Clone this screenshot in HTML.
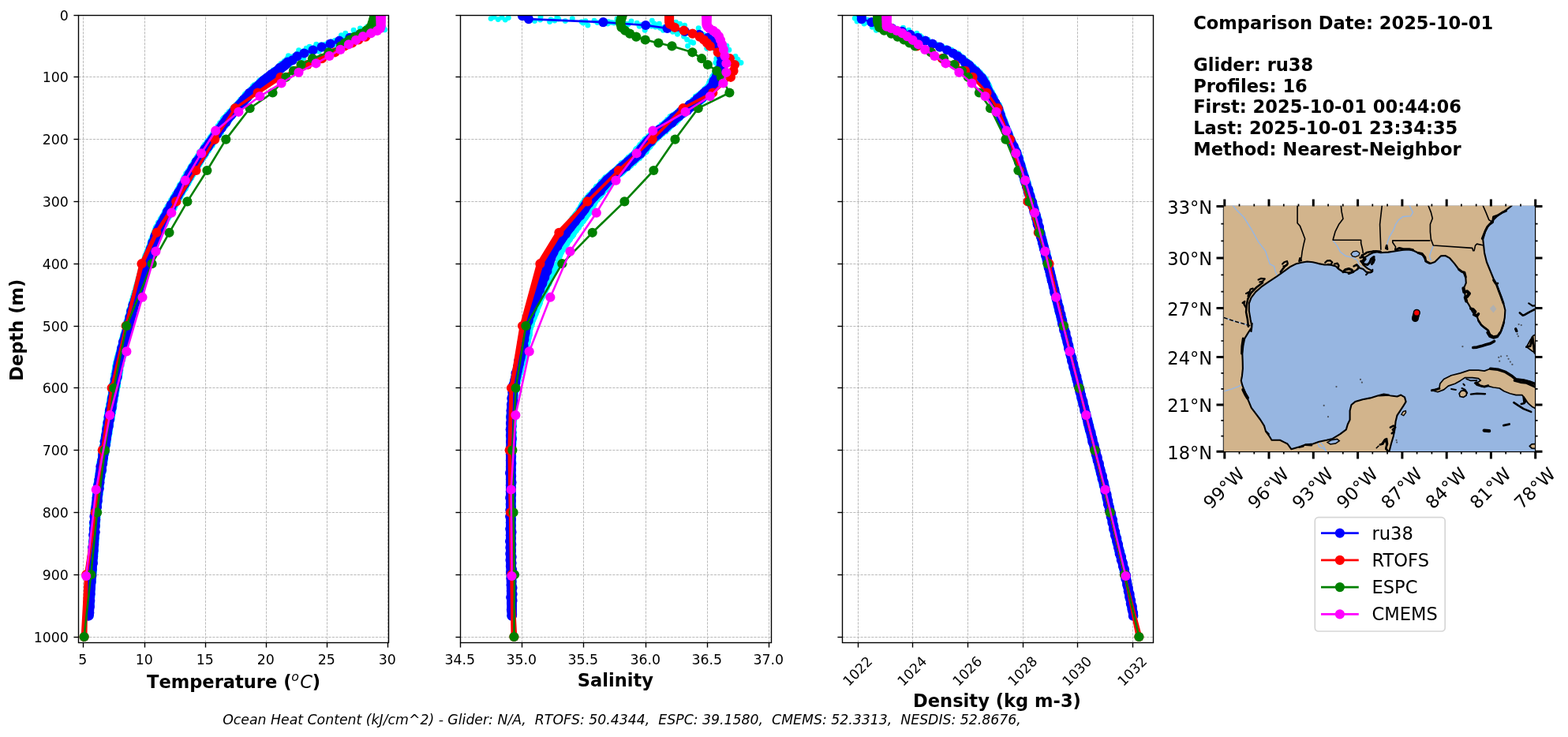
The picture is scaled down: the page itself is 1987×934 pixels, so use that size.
<!DOCTYPE html>
<html lang="en"><head><meta charset="utf-8"><title>Glider vs Model Profile Comparison</title>
<style>
html,body{margin:0;padding:0;background:#fff;}
body{width:1987px;height:934px;overflow:hidden;}
svg{display:block;}
text{font-family:"DejaVu Sans","Liberation Sans",sans-serif;fill:#000;}
.b{font-weight:bold;}
.i{font-style:italic;}
</style></head><body>
<svg width="1987" height="934" viewBox="0 0 1987 934">
<rect width="1987" height="934" fill="#fff"/>
<clipPath id="c0"><rect x="99.50" y="19.50" width="393.00" height="795.00"/></clipPath>
<clipPath id="c1"><rect x="583.50" y="19.50" width="394.00" height="795.00"/></clipPath>
<clipPath id="c2"><rect x="1067.50" y="19.50" width="394.00" height="795.00"/></clipPath>
<g id="ax0">
<path d="M105.50 814.50V19.50" stroke="#b0b0b0" stroke-width="0.87" stroke-dasharray="3.2,1.39" fill="none"/>
<path d="M183.50 814.50V19.50" stroke="#b0b0b0" stroke-width="0.87" stroke-dasharray="3.2,1.39" fill="none"/>
<path d="M260.50 814.50V19.50" stroke="#b0b0b0" stroke-width="0.87" stroke-dasharray="3.2,1.39" fill="none"/>
<path d="M337.50 814.50V19.50" stroke="#b0b0b0" stroke-width="0.87" stroke-dasharray="3.2,1.39" fill="none"/>
<path d="M414.50 814.50V19.50" stroke="#b0b0b0" stroke-width="0.87" stroke-dasharray="3.2,1.39" fill="none"/>
<path d="M491.50 814.50V19.50" stroke="#b0b0b0" stroke-width="0.87" stroke-dasharray="3.2,1.39" fill="none"/>
<path d="M99.50 19.50H492.50" stroke="#b0b0b0" stroke-width="0.87" stroke-dasharray="3.2,1.39" fill="none"/>
<path d="M99.50 97.50H492.50" stroke="#b0b0b0" stroke-width="0.87" stroke-dasharray="3.2,1.39" fill="none"/>
<path d="M99.50 176.50H492.50" stroke="#b0b0b0" stroke-width="0.87" stroke-dasharray="3.2,1.39" fill="none"/>
<path d="M99.50 255.50H492.50" stroke="#b0b0b0" stroke-width="0.87" stroke-dasharray="3.2,1.39" fill="none"/>
<path d="M99.50 334.50H492.50" stroke="#b0b0b0" stroke-width="0.87" stroke-dasharray="3.2,1.39" fill="none"/>
<path d="M99.50 413.50H492.50" stroke="#b0b0b0" stroke-width="0.87" stroke-dasharray="3.2,1.39" fill="none"/>
<path d="M99.50 491.50H492.50" stroke="#b0b0b0" stroke-width="0.87" stroke-dasharray="3.2,1.39" fill="none"/>
<path d="M99.50 570.50H492.50" stroke="#b0b0b0" stroke-width="0.87" stroke-dasharray="3.2,1.39" fill="none"/>
<path d="M99.50 649.50H492.50" stroke="#b0b0b0" stroke-width="0.87" stroke-dasharray="3.2,1.39" fill="none"/>
<path d="M99.50 728.50H492.50" stroke="#b0b0b0" stroke-width="0.87" stroke-dasharray="3.2,1.39" fill="none"/>
<path d="M99.50 807.50H492.50" stroke="#b0b0b0" stroke-width="0.87" stroke-dasharray="3.2,1.39" fill="none"/>
<g clip-path="url(#c0)">
<g fill="#00ffff"><circle cx="484.1" cy="30.2" r="3.45"/><circle cx="477.9" cy="31.7" r="3.45"/><circle cx="484.8" cy="32.1" r="3.45"/><circle cx="474.7" cy="33.8" r="3.45"/><circle cx="484.6" cy="32.8" r="3.45"/><circle cx="471.0" cy="35.5" r="3.45"/><circle cx="484.8" cy="34.4" r="3.45"/><circle cx="468.6" cy="36.7" r="3.45"/><circle cx="481.0" cy="37.0" r="3.45"/><circle cx="464.7" cy="37.9" r="3.45"/><circle cx="477.3" cy="37.9" r="3.45"/><circle cx="460.5" cy="39.5" r="3.45"/><circle cx="473.6" cy="40.3" r="3.45"/><circle cx="455.3" cy="41.5" r="3.45"/><circle cx="468.5" cy="41.1" r="3.45"/><circle cx="450.8" cy="42.7" r="3.45"/><circle cx="464.2" cy="43.4" r="3.45"/><circle cx="446.2" cy="44.7" r="3.45"/><circle cx="458.6" cy="44.2" r="3.45"/><circle cx="440.8" cy="45.4" r="3.45"/><circle cx="454.2" cy="47.0" r="3.45"/><circle cx="436.5" cy="48.1" r="3.45"/><circle cx="448.0" cy="47.8" r="3.45"/><circle cx="430.5" cy="49.4" r="3.45"/><circle cx="443.3" cy="49.8" r="3.45"/><circle cx="424.9" cy="51.3" r="3.45"/><circle cx="436.9" cy="50.6" r="3.45"/><circle cx="420.4" cy="52.8" r="3.45"/><circle cx="432.1" cy="52.9" r="3.45"/><circle cx="415.7" cy="54.3" r="3.45"/><circle cx="428.1" cy="54.2" r="3.45"/><circle cx="411.8" cy="56.5" r="3.45"/><circle cx="423.5" cy="55.9" r="3.45"/><circle cx="407.1" cy="56.8" r="3.45"/><circle cx="418.2" cy="57.0" r="3.45"/><circle cx="402.2" cy="59.0" r="3.45"/><circle cx="414.1" cy="59.4" r="3.45"/><circle cx="398.5" cy="60.3" r="3.45"/><circle cx="409.3" cy="60.7" r="3.45"/><circle cx="393.7" cy="62.4" r="3.45"/><circle cx="405.0" cy="62.0" r="3.45"/><circle cx="389.6" cy="64.2" r="3.45"/><circle cx="400.2" cy="64.4" r="3.45"/><circle cx="384.7" cy="64.7" r="3.45"/><circle cx="395.9" cy="65.9" r="3.45"/><circle cx="379.9" cy="67.7" r="3.45"/><circle cx="390.8" cy="66.8" r="3.45"/><circle cx="376.3" cy="67.9" r="3.45"/><circle cx="387.2" cy="67.9" r="3.45"/><circle cx="372.5" cy="70.9" r="3.45"/><circle cx="383.7" cy="70.5" r="3.45"/><circle cx="369.6" cy="72.1" r="3.45"/><circle cx="379.7" cy="72.4" r="3.45"/><circle cx="366.4" cy="73.2" r="3.45"/><circle cx="377.3" cy="73.6" r="3.45"/><circle cx="363.7" cy="74.5" r="3.45"/><circle cx="373.8" cy="75.2" r="3.45"/><circle cx="362.3" cy="76.6" r="3.45"/><circle cx="372.6" cy="77.3" r="3.45"/><circle cx="360.3" cy="77.5" r="3.45"/><circle cx="369.9" cy="78.1" r="3.45"/><circle cx="358.3" cy="79.6" r="3.45"/><circle cx="368.4" cy="80.2" r="3.45"/><circle cx="356.0" cy="80.6" r="3.45"/><circle cx="366.5" cy="82.2" r="3.45"/><circle cx="353.9" cy="83.2" r="3.45"/><circle cx="363.9" cy="83.1" r="3.45"/><circle cx="352.5" cy="84.7" r="3.45"/><circle cx="362.4" cy="84.4" r="3.45"/><circle cx="350.9" cy="86.5" r="3.45"/><circle cx="360.1" cy="86.1" r="3.45"/><circle cx="348.9" cy="88.4" r="3.45"/><circle cx="357.7" cy="87.9" r="3.45"/><circle cx="346.2" cy="88.9" r="3.45"/><circle cx="356.2" cy="90.0" r="3.45"/><circle cx="343.8" cy="91.7" r="3.45"/><circle cx="353.7" cy="91.6" r="3.45"/><circle cx="342.0" cy="93.0" r="3.45"/><circle cx="351.4" cy="93.1" r="3.45"/><circle cx="339.8" cy="94.6" r="3.45"/><circle cx="349.0" cy="94.0" r="3.45"/><circle cx="337.2" cy="96.1" r="3.45"/><circle cx="346.7" cy="96.3" r="3.45"/><circle cx="335.1" cy="97.9" r="3.45"/><circle cx="344.9" cy="97.5" r="3.45"/><circle cx="332.9" cy="99.4" r="3.45"/><circle cx="342.9" cy="99.3" r="3.45"/><circle cx="331.0" cy="101.3" r="3.45"/><circle cx="340.2" cy="100.4" r="3.45"/><circle cx="329.2" cy="101.7" r="3.45"/><circle cx="338.4" cy="102.9" r="3.45"/><circle cx="327.9" cy="103.5" r="3.45"/><circle cx="336.8" cy="103.8" r="3.45"/><circle cx="325.8" cy="106.2" r="3.45"/><circle cx="335.4" cy="104.9" r="3.45"/><circle cx="324.2" cy="106.7" r="3.45"/><circle cx="333.5" cy="107.3" r="3.45"/><circle cx="322.1" cy="107.8" r="3.45"/><circle cx="331.2" cy="108.3" r="3.45"/><circle cx="320.3" cy="109.5" r="3.45"/><circle cx="329.8" cy="110.1" r="3.45"/><circle cx="318.9" cy="112.6" r="3.45"/><circle cx="327.8" cy="112.1" r="3.45"/><circle cx="317.7" cy="112.9" r="3.45"/><circle cx="326.1" cy="112.6" r="3.45"/><circle cx="315.7" cy="115.7" r="3.45"/><circle cx="324.5" cy="115.3" r="3.45"/><circle cx="314.4" cy="116.8" r="3.45"/><circle cx="323.6" cy="117.3" r="3.45"/><circle cx="312.0" cy="118.1" r="3.45"/><circle cx="321.6" cy="118.2" r="3.45"/><circle cx="310.4" cy="119.4" r="3.45"/><circle cx="319.5" cy="119.6" r="3.45"/><circle cx="309.3" cy="121.4" r="3.45"/><circle cx="318.6" cy="121.1" r="3.45"/><circle cx="308.1" cy="123.6" r="3.45"/><circle cx="317.3" cy="122.6" r="3.45"/><circle cx="306.7" cy="125.3" r="3.45"/><circle cx="315.6" cy="124.7" r="3.45"/><circle cx="304.7" cy="126.1" r="3.45"/><circle cx="314.0" cy="126.6" r="3.45"/><circle cx="303.6" cy="128.1" r="3.45"/><circle cx="313.0" cy="127.4" r="3.45"/><circle cx="302.1" cy="129.7" r="3.45"/><circle cx="311.2" cy="129.8" r="3.45"/><circle cx="300.9" cy="131.3" r="3.45"/><circle cx="309.4" cy="130.7" r="3.45"/><circle cx="299.3" cy="132.6" r="3.45"/><circle cx="308.0" cy="132.9" r="3.45"/><circle cx="297.4" cy="134.6" r="3.45"/><circle cx="306.6" cy="134.2" r="3.45"/><circle cx="295.8" cy="135.6" r="3.45"/><circle cx="305.7" cy="135.2" r="3.45"/><circle cx="294.5" cy="137.4" r="3.45"/><circle cx="303.7" cy="137.6" r="3.45"/><circle cx="293.0" cy="139.7" r="3.45"/><circle cx="302.1" cy="139.6" r="3.45"/><circle cx="291.8" cy="141.2" r="3.45"/><circle cx="301.4" cy="141.1" r="3.45"/><circle cx="290.2" cy="141.8" r="3.45"/><circle cx="300.1" cy="142.7" r="3.45"/><circle cx="289.4" cy="144.3" r="3.45"/><circle cx="298.2" cy="143.2" r="3.45"/><circle cx="287.5" cy="144.9" r="3.45"/><circle cx="296.8" cy="144.8" r="3.45"/><circle cx="286.0" cy="147.4" r="3.45"/><circle cx="295.4" cy="147.3" r="3.45"/><circle cx="284.9" cy="148.4" r="3.45"/><circle cx="294.4" cy="148.2" r="3.45"/><circle cx="283.5" cy="149.4" r="3.45"/><circle cx="292.8" cy="150.1" r="3.45"/><circle cx="282.2" cy="151.0" r="3.45"/><circle cx="291.4" cy="151.7" r="3.45"/><circle cx="281.3" cy="153.6" r="3.45"/><circle cx="290.1" cy="153.8" r="3.45"/><circle cx="280.1" cy="155.4" r="3.45"/><circle cx="289.0" cy="154.7" r="3.45"/><circle cx="278.7" cy="155.8" r="3.45"/><circle cx="287.7" cy="156.0" r="3.45"/><circle cx="278.0" cy="158.3" r="3.45"/><circle cx="286.5" cy="158.0" r="3.45"/><circle cx="276.1" cy="159.7" r="3.45"/><circle cx="286.1" cy="159.7" r="3.45"/><circle cx="275.6" cy="161.6" r="3.45"/><circle cx="284.1" cy="161.8" r="3.45"/><circle cx="274.4" cy="163.4" r="3.45"/><circle cx="283.7" cy="162.3" r="3.45"/><circle cx="272.9" cy="164.0" r="3.45"/><circle cx="282.1" cy="163.8" r="3.45"/><circle cx="271.9" cy="166.7" r="3.45"/><circle cx="280.9" cy="165.4" r="3.45"/><circle cx="270.3" cy="168.5" r="3.45"/><circle cx="280.5" cy="168.2" r="3.45"/><circle cx="270.0" cy="169.0" r="3.45"/><circle cx="278.8" cy="169.5" r="3.45"/><circle cx="268.9" cy="170.6" r="3.45"/><circle cx="277.8" cy="170.6" r="3.45"/><circle cx="267.3" cy="173.0" r="3.45"/><circle cx="276.6" cy="171.8" r="3.45"/><circle cx="266.1" cy="174.4" r="3.45"/><circle cx="275.1" cy="174.4" r="3.45"/><circle cx="265.6" cy="176.1" r="3.45"/><circle cx="274.3" cy="176.0" r="3.45"/><circle cx="264.1" cy="178.1" r="3.45"/><circle cx="273.4" cy="177.3" r="3.45"/><circle cx="262.7" cy="178.7" r="3.45"/><circle cx="272.6" cy="179.6" r="3.45"/><circle cx="262.1" cy="181.0" r="3.45"/><circle cx="271.0" cy="180.3" r="3.45"/><circle cx="260.7" cy="182.4" r="3.45"/><circle cx="269.7" cy="182.1" r="3.45"/><circle cx="259.5" cy="183.3" r="3.45"/><circle cx="269.2" cy="184.4" r="3.45"/><circle cx="258.2" cy="185.5" r="3.45"/><circle cx="267.2" cy="184.9" r="3.45"/><circle cx="257.3" cy="186.8" r="3.45"/><circle cx="266.7" cy="187.0" r="3.45"/><circle cx="256.3" cy="189.3" r="3.45"/><circle cx="265.3" cy="188.3" r="3.45"/><circle cx="255.2" cy="190.4" r="3.45"/><circle cx="264.5" cy="190.8" r="3.45"/><circle cx="253.6" cy="192.5" r="3.45"/><circle cx="263.3" cy="192.0" r="3.45"/><circle cx="252.5" cy="192.7" r="3.45"/><circle cx="262.1" cy="192.8" r="3.45"/><circle cx="252.1" cy="195.3" r="3.45"/><circle cx="261.6" cy="195.1" r="3.45"/><circle cx="250.7" cy="197.1" r="3.45"/><circle cx="260.0" cy="197.1" r="3.45"/><circle cx="249.8" cy="198.9" r="3.45"/><circle cx="259.7" cy="198.3" r="3.45"/><circle cx="248.8" cy="199.9" r="3.45"/><circle cx="258.0" cy="199.1" r="3.45"/><circle cx="248.2" cy="202.1" r="3.45"/><circle cx="256.9" cy="200.6" r="3.45"/><circle cx="246.5" cy="203.5" r="3.45"/><circle cx="256.1" cy="202.8" r="3.45"/><circle cx="246.1" cy="205.1" r="3.45"/><circle cx="255.0" cy="203.8" r="3.45"/><circle cx="244.9" cy="205.7" r="3.45"/><circle cx="254.3" cy="205.9" r="3.45"/><circle cx="243.8" cy="208.1" r="3.45"/><circle cx="253.6" cy="207.2" r="3.45"/><circle cx="242.7" cy="209.8" r="3.45"/><circle cx="252.5" cy="209.0" r="3.45"/><circle cx="241.5" cy="211.2" r="3.45"/><circle cx="251.0" cy="211.0" r="3.45"/><circle cx="240.4" cy="213.1" r="3.45"/><circle cx="249.8" cy="212.9" r="3.45"/><circle cx="240.2" cy="214.1" r="3.45"/><circle cx="249.2" cy="214.3" r="3.45"/><circle cx="239.0" cy="215.9" r="3.45"/><circle cx="247.8" cy="215.3" r="3.45"/><circle cx="237.9" cy="217.4" r="3.45"/><circle cx="247.5" cy="217.4" r="3.45"/><circle cx="237.0" cy="219.1" r="3.45"/><circle cx="246.4" cy="218.6" r="3.45"/><circle cx="235.7" cy="220.0" r="3.45"/><circle cx="244.8" cy="220.9" r="3.45"/><circle cx="235.7" cy="221.8" r="3.45"/><circle cx="244.5" cy="221.9" r="3.45"/><circle cx="233.9" cy="224.0" r="3.45"/><circle cx="242.9" cy="223.7" r="3.45"/><circle cx="233.1" cy="225.2" r="3.45"/><circle cx="242.9" cy="225.2" r="3.45"/><circle cx="232.7" cy="227.3" r="3.45"/><circle cx="242.0" cy="226.3" r="3.45"/><circle cx="231.6" cy="228.1" r="3.45"/><circle cx="240.3" cy="229.4" r="3.45"/><circle cx="230.8" cy="230.5" r="3.45"/><circle cx="239.4" cy="229.9" r="3.45"/><circle cx="230.1" cy="232.5" r="3.45"/><circle cx="238.9" cy="232.5" r="3.45"/><circle cx="228.7" cy="233.4" r="3.45"/><circle cx="237.4" cy="233.6" r="3.45"/><circle cx="227.7" cy="234.5" r="3.45"/><circle cx="236.5" cy="234.7" r="3.45"/><circle cx="226.9" cy="236.4" r="3.45"/><circle cx="236.1" cy="236.4" r="3.45"/><circle cx="226.5" cy="238.5" r="3.45"/><circle cx="235.3" cy="238.9" r="3.45"/><circle cx="225.2" cy="239.7" r="3.45"/><circle cx="234.3" cy="239.8" r="3.45"/><circle cx="224.6" cy="240.9" r="3.45"/><circle cx="233.4" cy="241.3" r="3.45"/><circle cx="223.7" cy="243.5" r="3.45"/><circle cx="232.1" cy="242.4" r="3.45"/><circle cx="222.3" cy="245.3" r="3.45"/><circle cx="231.5" cy="244.8" r="3.45"/><circle cx="221.2" cy="245.9" r="3.45"/><circle cx="230.5" cy="245.9" r="3.45"/><circle cx="220.7" cy="248.0" r="3.45"/><circle cx="229.3" cy="248.2" r="3.45"/><circle cx="219.7" cy="248.9" r="3.45"/><circle cx="228.7" cy="249.8" r="3.45"/><circle cx="218.7" cy="250.5" r="3.45"/><circle cx="227.8" cy="251.0" r="3.45"/><circle cx="218.0" cy="253.2" r="3.45"/><circle cx="227.2" cy="252.3" r="3.45"/><circle cx="216.6" cy="253.6" r="3.45"/><circle cx="225.4" cy="254.3" r="3.45"/><circle cx="215.7" cy="256.6" r="3.45"/><circle cx="224.6" cy="255.6" r="3.45"/><circle cx="214.9" cy="257.5" r="3.45"/><circle cx="224.1" cy="257.4" r="3.45"/><circle cx="214.6" cy="259.1" r="3.45"/><circle cx="222.9" cy="259.7" r="3.45"/><circle cx="212.9" cy="261.4" r="3.45"/><circle cx="221.8" cy="261.2" r="3.45"/><circle cx="212.0" cy="261.6" r="3.45"/><circle cx="221.7" cy="262.2" r="3.45"/><circle cx="211.9" cy="264.4" r="3.45"/><circle cx="221.0" cy="264.2" r="3.45"/><circle cx="210.4" cy="265.1" r="3.45"/><circle cx="219.8" cy="266.1" r="3.45"/><circle cx="209.7" cy="267.8" r="3.45"/><circle cx="218.9" cy="266.8" r="3.45"/><circle cx="208.6" cy="268.3" r="3.45"/><circle cx="218.1" cy="268.3" r="3.45"/><circle cx="208.2" cy="270.2" r="3.45"/><circle cx="216.4" cy="270.2" r="3.45"/><circle cx="207.3" cy="271.4" r="3.45"/><circle cx="215.5" cy="272.1" r="3.45"/><circle cx="205.9" cy="273.6" r="3.45"/><circle cx="215.6" cy="273.1" r="3.45"/><circle cx="205.3" cy="275.2" r="3.45"/><circle cx="214.3" cy="274.4" r="3.45"/><circle cx="204.0" cy="276.9" r="3.45"/><circle cx="213.2" cy="276.6" r="3.45"/><circle cx="203.2" cy="277.9" r="3.45"/><circle cx="212.0" cy="277.8" r="3.45"/><circle cx="203.1" cy="279.6" r="3.45"/><circle cx="211.6" cy="279.0" r="3.45"/><circle cx="201.5" cy="281.6" r="3.45"/><circle cx="210.6" cy="281.9" r="3.45"/><circle cx="200.4" cy="282.3" r="3.45"/><circle cx="209.9" cy="283.3" r="3.45"/><circle cx="200.0" cy="284.8" r="3.45"/><circle cx="209.3" cy="285.1" r="3.45"/><circle cx="199.2" cy="286.5" r="3.45"/><circle cx="207.6" cy="286.7" r="3.45"/><circle cx="197.8" cy="287.4" r="3.45"/><circle cx="207.0" cy="288.5" r="3.45"/><circle cx="197.1" cy="289.1" r="3.45"/><circle cx="205.9" cy="288.7" r="3.45"/><circle cx="196.8" cy="290.7" r="3.45"/><circle cx="205.2" cy="290.7" r="3.45"/><circle cx="195.9" cy="292.8" r="3.45"/><circle cx="205.2" cy="292.5" r="3.45"/><circle cx="195.7" cy="294.6" r="3.45"/><circle cx="204.4" cy="294.6" r="3.45"/><circle cx="195.0" cy="295.0" r="3.45"/><circle cx="203.1" cy="295.8" r="3.45"/><circle cx="194.3" cy="297.3" r="3.45"/><circle cx="203.2" cy="297.8" r="3.45"/><circle cx="194.1" cy="299.1" r="3.45"/><circle cx="202.8" cy="299.2" r="3.45"/><circle cx="192.9" cy="301.3" r="3.45"/><circle cx="201.8" cy="301.4" r="3.45"/><circle cx="192.8" cy="301.5" r="3.45"/><circle cx="201.0" cy="301.8" r="3.45"/><circle cx="191.5" cy="304.0" r="3.45"/><circle cx="200.1" cy="304.3" r="3.45"/><circle cx="190.7" cy="305.6" r="3.45"/><circle cx="199.7" cy="305.1" r="3.45"/><circle cx="191.0" cy="307.8" r="3.45"/><circle cx="199.7" cy="306.4" r="3.45"/><circle cx="190.0" cy="307.9" r="3.45"/><circle cx="198.8" cy="308.4" r="3.45"/><circle cx="189.7" cy="310.6" r="3.45"/><circle cx="197.9" cy="310.5" r="3.45"/><circle cx="189.2" cy="311.5" r="3.45"/><circle cx="197.9" cy="311.7" r="3.45"/><circle cx="188.2" cy="313.7" r="3.45"/><circle cx="196.9" cy="314.2" r="3.45"/><circle cx="187.8" cy="315.0" r="3.45"/><circle cx="196.4" cy="315.0" r="3.45"/><circle cx="187.5" cy="316.7" r="3.45"/><circle cx="195.8" cy="317.3" r="3.45"/><circle cx="186.5" cy="318.2" r="3.45"/><circle cx="194.7" cy="317.8" r="3.45"/><circle cx="185.7" cy="319.7" r="3.45"/><circle cx="194.0" cy="319.2" r="3.45"/><circle cx="185.7" cy="322.0" r="3.45"/><circle cx="194.1" cy="322.0" r="3.45"/><circle cx="185.1" cy="323.6" r="3.45"/><circle cx="193.3" cy="323.1" r="3.45"/><circle cx="183.9" cy="323.9" r="3.45"/><circle cx="192.5" cy="325.1" r="3.45"/><circle cx="183.5" cy="325.9" r="3.45"/><circle cx="192.0" cy="325.6" r="3.45"/><circle cx="183.0" cy="327.4" r="3.45"/><circle cx="191.7" cy="327.2" r="3.45"/><circle cx="182.6" cy="329.8" r="3.45"/><circle cx="190.6" cy="330.0" r="3.45"/><circle cx="182.0" cy="331.3" r="3.45"/><circle cx="190.5" cy="331.5" r="3.45"/><circle cx="181.6" cy="333.2" r="3.45"/><circle cx="189.3" cy="332.8" r="3.45"/><circle cx="180.4" cy="333.8" r="3.45"/><circle cx="188.9" cy="334.4" r="3.45"/><circle cx="179.7" cy="335.7" r="3.45"/><circle cx="189.0" cy="335.0" r="3.45"/><circle cx="179.3" cy="338.0" r="3.45"/><circle cx="188.4" cy="337.4" r="3.45"/><circle cx="179.2" cy="339.2" r="3.45"/><circle cx="187.3" cy="338.5" r="3.45"/><circle cx="178.9" cy="339.9" r="3.45"/><circle cx="186.7" cy="339.9" r="3.45"/><circle cx="178.1" cy="342.1" r="3.45"/><circle cx="186.8" cy="341.6" r="3.45"/><circle cx="178.2" cy="343.6" r="3.45"/><circle cx="185.9" cy="343.5" r="3.45"/><circle cx="177.2" cy="346.1" r="3.45"/><circle cx="186.4" cy="345.4" r="3.45"/><circle cx="177.0" cy="347.6" r="3.45"/><circle cx="185.8" cy="346.6" r="3.45"/><circle cx="177.0" cy="348.6" r="3.45"/><circle cx="185.2" cy="348.2" r="3.45"/><circle cx="176.3" cy="350.2" r="3.45"/><circle cx="184.2" cy="350.0" r="3.45"/><circle cx="175.5" cy="352.5" r="3.45"/><circle cx="183.9" cy="352.1" r="3.45"/><circle cx="175.1" cy="353.5" r="3.45"/><circle cx="183.8" cy="353.0" r="3.45"/><circle cx="175.5" cy="355.4" r="3.45"/><circle cx="183.0" cy="354.5" r="3.45"/><circle cx="174.3" cy="357.3" r="3.45"/><circle cx="182.7" cy="355.8" r="3.45"/><circle cx="174.1" cy="358.2" r="3.45"/><circle cx="182.8" cy="358.3" r="3.45"/><circle cx="173.6" cy="359.5" r="3.45"/><circle cx="182.0" cy="359.4" r="3.45"/><circle cx="173.6" cy="361.5" r="3.45"/><circle cx="181.6" cy="360.8" r="3.45"/><circle cx="172.7" cy="362.4" r="3.45"/><circle cx="180.7" cy="362.7" r="3.45"/><circle cx="172.1" cy="364.1" r="3.45"/><circle cx="180.8" cy="364.4" r="3.45"/><circle cx="172.3" cy="366.4" r="3.45"/><circle cx="180.3" cy="367.0" r="3.45"/><circle cx="171.5" cy="367.1" r="3.45"/><circle cx="179.7" cy="367.6" r="3.45"/><circle cx="170.7" cy="369.9" r="3.45"/><circle cx="179.2" cy="369.0" r="3.45"/><circle cx="170.2" cy="370.4" r="3.45"/><circle cx="178.1" cy="371.6" r="3.45"/><circle cx="170.0" cy="372.5" r="3.45"/><circle cx="178.2" cy="372.4" r="3.45"/><circle cx="169.2" cy="373.9" r="3.45"/><circle cx="177.5" cy="373.5" r="3.45"/><circle cx="168.7" cy="376.1" r="3.45"/><circle cx="177.5" cy="376.1" r="3.45"/><circle cx="168.4" cy="376.9" r="3.45"/><circle cx="176.4" cy="376.7" r="3.45"/><circle cx="168.4" cy="379.4" r="3.45"/><circle cx="176.0" cy="378.8" r="3.45"/><circle cx="167.3" cy="380.5" r="3.45"/><circle cx="176.0" cy="381.0" r="3.45"/><circle cx="167.2" cy="382.2" r="3.45"/><circle cx="175.2" cy="382.2" r="3.45"/><circle cx="166.4" cy="383.8" r="3.45"/><circle cx="174.2" cy="384.3" r="3.45"/><circle cx="166.0" cy="386.1" r="3.45"/><circle cx="174.2" cy="385.0" r="3.45"/><circle cx="166.2" cy="386.4" r="3.45"/><circle cx="173.8" cy="386.2" r="3.45"/><circle cx="165.7" cy="387.9" r="3.45"/><circle cx="173.5" cy="389.1" r="3.45"/><circle cx="165.3" cy="390.6" r="3.45"/><circle cx="173.0" cy="390.6" r="3.45"/><circle cx="164.2" cy="391.5" r="3.45"/><circle cx="172.1" cy="391.6" r="3.45"/><circle cx="163.6" cy="393.0" r="3.45"/><circle cx="171.7" cy="394.0" r="3.45"/><circle cx="163.5" cy="394.4" r="3.45"/><circle cx="171.9" cy="395.5" r="3.45"/><circle cx="163.2" cy="395.9" r="3.45"/><circle cx="171.3" cy="396.5" r="3.45"/><circle cx="162.9" cy="398.2" r="3.45"/><circle cx="170.1" cy="398.3" r="3.45"/><circle cx="162.7" cy="400.3" r="3.45"/><circle cx="170.0" cy="399.7" r="3.45"/><circle cx="161.7" cy="401.1" r="3.45"/><circle cx="169.6" cy="401.8" r="3.45"/><circle cx="161.7" cy="402.5" r="3.45"/><circle cx="169.2" cy="402.8" r="3.45"/><circle cx="161.0" cy="405.3" r="3.45"/><circle cx="168.3" cy="404.6" r="3.45"/><circle cx="161.1" cy="406.1" r="3.45"/><circle cx="168.3" cy="406.6" r="3.45"/><circle cx="160.0" cy="407.2" r="3.45"/><circle cx="167.9" cy="407.3" r="3.45"/><circle cx="160.3" cy="409.6" r="3.45"/><circle cx="167.4" cy="409.0" r="3.45"/><circle cx="159.0" cy="411.5" r="3.45"/><circle cx="166.7" cy="410.8" r="3.45"/><circle cx="158.6" cy="413.2" r="3.45"/><circle cx="166.8" cy="412.3" r="3.45"/><circle cx="158.8" cy="414.1" r="3.45"/><circle cx="166.6" cy="413.9" r="3.45"/><circle cx="158.3" cy="416.0" r="3.45"/><circle cx="165.8" cy="416.2" r="3.45"/><circle cx="158.2" cy="418.1" r="3.45"/><circle cx="165.1" cy="416.7" r="3.45"/><circle cx="157.5" cy="419.6" r="3.45"/><circle cx="164.5" cy="418.3" r="3.45"/><circle cx="157.3" cy="421.0" r="3.45"/><circle cx="164.4" cy="421.2" r="3.45"/><circle cx="156.2" cy="422.8" r="3.45"/><circle cx="164.0" cy="422.7" r="3.45"/><circle cx="156.1" cy="424.4" r="3.45"/><circle cx="163.6" cy="423.2" r="3.45"/><circle cx="155.4" cy="425.2" r="3.45"/><circle cx="163.4" cy="424.7" r="3.45"/><circle cx="155.3" cy="427.4" r="3.45"/><circle cx="162.6" cy="426.8" r="3.45"/><circle cx="154.8" cy="429.2" r="3.45"/><circle cx="162.7" cy="428.1" r="3.45"/><circle cx="154.4" cy="429.4" r="3.45"/><circle cx="162.1" cy="430.2" r="3.45"/><circle cx="154.1" cy="431.5" r="3.45"/><circle cx="161.2" cy="432.0" r="3.45"/><circle cx="153.7" cy="433.2" r="3.45"/><circle cx="161.0" cy="432.9" r="3.45"/><circle cx="153.5" cy="435.7" r="3.45"/><circle cx="160.6" cy="434.5" r="3.45"/><circle cx="153.0" cy="437.3" r="3.45"/><circle cx="160.0" cy="437.3" r="3.45"/><circle cx="152.7" cy="437.9" r="3.45"/><circle cx="159.9" cy="438.2" r="3.45"/><circle cx="151.6" cy="440.5" r="3.45"/><circle cx="159.6" cy="440.0" r="3.45"/><circle cx="151.9" cy="441.3" r="3.45"/><circle cx="158.8" cy="440.7" r="3.45"/><circle cx="151.1" cy="443.8" r="3.45"/><circle cx="158.2" cy="443.5" r="3.45"/><circle cx="150.7" cy="444.9" r="3.45"/><circle cx="157.8" cy="444.9" r="3.45"/><circle cx="150.4" cy="445.9" r="3.45"/><circle cx="157.8" cy="445.6" r="3.45"/><circle cx="149.6" cy="448.3" r="3.45"/><circle cx="157.7" cy="448.2" r="3.45"/><circle cx="149.9" cy="449.7" r="3.45"/><circle cx="156.7" cy="449.8" r="3.45"/><circle cx="149.5" cy="450.3" r="3.45"/><circle cx="156.8" cy="451.7" r="3.45"/><circle cx="148.4" cy="452.6" r="3.45"/><circle cx="155.8" cy="452.8" r="3.45"/><circle cx="148.0" cy="453.5" r="3.45"/><circle cx="155.3" cy="454.4" r="3.45"/><circle cx="147.8" cy="456.0" r="3.45"/><circle cx="155.8" cy="456.0" r="3.45"/><circle cx="147.8" cy="457.1" r="3.45"/><circle cx="155.1" cy="457.2" r="3.45"/><circle cx="146.7" cy="459.1" r="3.45"/><circle cx="154.4" cy="459.2" r="3.45"/><circle cx="146.8" cy="460.5" r="3.45"/><circle cx="154.1" cy="459.9" r="3.45"/><circle cx="146.3" cy="462.3" r="3.45"/><circle cx="154.3" cy="462.7" r="3.45"/><circle cx="145.7" cy="463.7" r="3.45"/><circle cx="153.1" cy="463.1" r="3.45"/><circle cx="145.6" cy="465.6" r="3.45"/><circle cx="152.9" cy="466.0" r="3.45"/><circle cx="145.5" cy="466.2" r="3.45"/><circle cx="152.9" cy="467.4" r="3.45"/><circle cx="145.0" cy="469.2" r="3.45"/><circle cx="152.9" cy="469.1" r="3.45"/><circle cx="145.2" cy="469.8" r="3.45"/><circle cx="152.3" cy="470.3" r="3.45"/><circle cx="144.4" cy="472.1" r="3.45"/><circle cx="152.6" cy="472.3" r="3.45"/><circle cx="144.1" cy="473.5" r="3.45"/><circle cx="151.5" cy="472.8" r="3.45"/><circle cx="143.7" cy="474.6" r="3.45"/><circle cx="152.1" cy="474.9" r="3.45"/><circle cx="144.1" cy="476.3" r="3.45"/><circle cx="151.5" cy="477.1" r="3.45"/><circle cx="143.3" cy="478.1" r="3.45"/><circle cx="151.2" cy="478.0" r="3.45"/><circle cx="143.6" cy="480.3" r="3.45"/><circle cx="151.1" cy="479.7" r="3.45"/><circle cx="142.9" cy="480.6" r="3.45"/><circle cx="150.5" cy="481.4" r="3.45"/><circle cx="142.8" cy="483.7" r="3.45"/><circle cx="149.7" cy="483.1" r="3.45"/><circle cx="142.8" cy="484.2" r="3.45"/><circle cx="149.4" cy="484.2" r="3.45"/><circle cx="142.1" cy="486.2" r="3.45"/><circle cx="149.5" cy="486.2" r="3.45"/><circle cx="141.7" cy="487.1" r="3.45"/><circle cx="149.7" cy="488.4" r="3.45"/><circle cx="142.0" cy="488.7" r="3.45"/><circle cx="149.2" cy="489.8" r="3.45"/><circle cx="141.3" cy="491.0" r="3.45"/><circle cx="148.6" cy="490.6" r="3.45"/><circle cx="140.9" cy="493.0" r="3.45"/><circle cx="148.2" cy="492.7" r="3.45"/><circle cx="141.2" cy="494.2" r="3.45"/><circle cx="148.2" cy="494.2" r="3.45"/><circle cx="140.3" cy="496.1" r="3.45"/><circle cx="148.0" cy="496.6" r="3.45"/><circle cx="140.8" cy="496.7" r="3.45"/><circle cx="147.5" cy="496.7" r="3.45"/><circle cx="140.4" cy="499.1" r="3.45"/><circle cx="147.2" cy="498.8" r="3.45"/><circle cx="140.1" cy="501.3" r="3.45"/><circle cx="147.4" cy="500.3" r="3.45"/><circle cx="139.9" cy="501.8" r="3.45"/><circle cx="147.1" cy="501.6" r="3.45"/><circle cx="139.3" cy="503.1" r="3.45"/><circle cx="146.3" cy="503.8" r="3.45"/><circle cx="139.0" cy="505.0" r="3.45"/><circle cx="146.6" cy="505.0" r="3.45"/><circle cx="138.7" cy="507.0" r="3.45"/><circle cx="146.1" cy="507.0" r="3.45"/><circle cx="138.3" cy="508.7" r="3.45"/><circle cx="145.8" cy="507.9" r="3.45"/><circle cx="138.5" cy="510.8" r="3.45"/><circle cx="145.4" cy="509.5" r="3.45"/><circle cx="137.5" cy="512.6" r="3.45"/><circle cx="144.8" cy="512.1" r="3.45"/><circle cx="137.4" cy="513.2" r="3.45"/><circle cx="145.2" cy="513.9" r="3.45"/><circle cx="137.4" cy="515.8" r="3.45"/><circle cx="144.6" cy="514.9" r="3.45"/><circle cx="137.0" cy="517.0" r="3.45"/><circle cx="144.1" cy="517.1" r="3.45"/><circle cx="136.5" cy="517.6" r="3.45"/><circle cx="144.0" cy="518.2" r="3.45"/><circle cx="136.5" cy="519.5" r="3.45"/><circle cx="144.0" cy="519.1" r="3.45"/><circle cx="136.7" cy="521.6" r="3.45"/><circle cx="143.8" cy="522.0" r="3.45"/><circle cx="136.0" cy="522.9" r="3.45"/><circle cx="143.4" cy="523.1" r="3.45"/><circle cx="135.5" cy="524.3" r="3.45"/><circle cx="142.5" cy="524.6" r="3.45"/><circle cx="136.0" cy="526.6" r="3.45"/><circle cx="142.5" cy="525.6" r="3.45"/><circle cx="135.4" cy="527.7" r="3.45"/><circle cx="142.5" cy="527.5" r="3.45"/><circle cx="135.4" cy="529.9" r="3.45"/><circle cx="142.3" cy="529.8" r="3.45"/><circle cx="134.5" cy="530.5" r="3.45"/><circle cx="142.2" cy="531.2" r="3.45"/><circle cx="134.9" cy="531.9" r="3.45"/><circle cx="141.1" cy="532.4" r="3.45"/><circle cx="134.0" cy="534.0" r="3.45"/><circle cx="140.9" cy="533.6" r="3.45"/><circle cx="134.4" cy="535.9" r="3.45"/><circle cx="140.5" cy="536.2" r="3.45"/><circle cx="134.2" cy="537.3" r="3.45"/><circle cx="140.9" cy="537.5" r="3.45"/><circle cx="133.7" cy="539.1" r="3.45"/><circle cx="140.7" cy="539.2" r="3.45"/><circle cx="132.9" cy="540.0" r="3.45"/><circle cx="140.2" cy="540.5" r="3.45"/><circle cx="132.6" cy="542.3" r="3.45"/><circle cx="139.5" cy="541.7" r="3.45"/><circle cx="133.0" cy="543.5" r="3.45"/><circle cx="139.5" cy="544.4" r="3.45"/><circle cx="133.0" cy="545.6" r="3.45"/><circle cx="139.5" cy="545.3" r="3.45"/><circle cx="132.6" cy="546.3" r="3.45"/><circle cx="139.0" cy="547.2" r="3.45"/><circle cx="131.7" cy="548.9" r="3.45"/><circle cx="139.1" cy="549.2" r="3.45"/><circle cx="132.2" cy="550.1" r="3.45"/><circle cx="138.4" cy="550.3" r="3.45"/><circle cx="131.7" cy="552.0" r="3.45"/><circle cx="138.1" cy="552.4" r="3.45"/><circle cx="131.8" cy="554.2" r="3.45"/><circle cx="138.1" cy="552.6" r="3.45"/><circle cx="131.0" cy="554.3" r="3.45"/><circle cx="137.8" cy="555.0" r="3.45"/><circle cx="130.4" cy="555.9" r="3.45"/><circle cx="137.3" cy="556.4" r="3.45"/><circle cx="130.3" cy="558.9" r="3.45"/><circle cx="137.5" cy="557.6" r="3.45"/><circle cx="129.9" cy="559.2" r="3.45"/><circle cx="137.3" cy="559.4" r="3.45"/><circle cx="130.6" cy="560.9" r="3.45"/><circle cx="137.0" cy="560.6" r="3.45"/><circle cx="130.2" cy="563.5" r="3.45"/><circle cx="136.8" cy="563.3" r="3.45"/><circle cx="129.6" cy="565.2" r="3.45"/><circle cx="135.9" cy="565.3" r="3.45"/><circle cx="129.3" cy="565.9" r="3.45"/><circle cx="135.9" cy="566.4" r="3.45"/><circle cx="128.8" cy="567.5" r="3.45"/><circle cx="135.5" cy="567.2" r="3.45"/><circle cx="129.1" cy="569.4" r="3.45"/><circle cx="135.4" cy="569.1" r="3.45"/><circle cx="128.5" cy="570.4" r="3.45"/><circle cx="135.1" cy="571.7" r="3.45"/><circle cx="128.1" cy="572.7" r="3.45"/><circle cx="135.0" cy="572.9" r="3.45"/><circle cx="128.3" cy="574.1" r="3.45"/><circle cx="134.5" cy="573.8" r="3.45"/><circle cx="127.7" cy="576.1" r="3.45"/><circle cx="134.6" cy="575.5" r="3.45"/><circle cx="127.3" cy="576.9" r="3.45"/><circle cx="134.0" cy="576.7" r="3.45"/><circle cx="127.8" cy="579.6" r="3.45"/><circle cx="133.4" cy="579.1" r="3.45"/><circle cx="127.4" cy="579.9" r="3.45"/><circle cx="133.1" cy="580.2" r="3.45"/><circle cx="126.4" cy="582.9" r="3.45"/><circle cx="133.5" cy="582.9" r="3.45"/><circle cx="127.0" cy="584.4" r="3.45"/><circle cx="132.7" cy="583.9" r="3.45"/><circle cx="125.9" cy="585.7" r="3.45"/><circle cx="133.0" cy="586.1" r="3.45"/><circle cx="126.0" cy="586.4" r="3.45"/><circle cx="132.2" cy="586.7" r="3.45"/><circle cx="125.5" cy="588.9" r="3.45"/><circle cx="132.3" cy="588.3" r="3.45"/><circle cx="125.5" cy="590.0" r="3.45"/><circle cx="131.5" cy="589.5" r="3.45"/><circle cx="125.7" cy="592.5" r="3.45"/><circle cx="131.7" cy="592.6" r="3.45"/><circle cx="125.5" cy="592.8" r="3.45"/><circle cx="131.2" cy="592.8" r="3.45"/><circle cx="124.9" cy="595.0" r="3.45"/><circle cx="131.5" cy="594.9" r="3.45"/><circle cx="124.6" cy="596.3" r="3.45"/><circle cx="131.4" cy="597.4" r="3.45"/><circle cx="124.2" cy="599.0" r="3.45"/><circle cx="131.0" cy="598.3" r="3.45"/><circle cx="124.6" cy="599.9" r="3.45"/><circle cx="130.5" cy="599.1" r="3.45"/><circle cx="123.8" cy="600.6" r="3.45"/><circle cx="129.6" cy="600.9" r="3.45"/><circle cx="123.5" cy="602.9" r="3.45"/><circle cx="130.2" cy="603.7" r="3.45"/><circle cx="123.6" cy="605.1" r="3.45"/><circle cx="129.2" cy="604.3" r="3.45"/><circle cx="123.1" cy="607.0" r="3.45"/><circle cx="129.3" cy="606.3" r="3.45"/><circle cx="122.8" cy="608.2" r="3.45"/><circle cx="129.4" cy="607.6" r="3.45"/><circle cx="122.5" cy="608.8" r="3.45"/><circle cx="128.8" cy="608.8" r="3.45"/><circle cx="122.7" cy="611.6" r="3.45"/><circle cx="128.6" cy="611.8" r="3.45"/><circle cx="121.9" cy="612.8" r="3.45"/><circle cx="128.5" cy="613.0" r="3.45"/><circle cx="122.2" cy="614.1" r="3.45"/><circle cx="128.5" cy="614.6" r="3.45"/><circle cx="122.2" cy="615.9" r="3.45"/><circle cx="127.7" cy="616.3" r="3.45"/><circle cx="121.6" cy="617.8" r="3.45"/><circle cx="128.3" cy="617.6" r="3.45"/><circle cx="121.9" cy="618.9" r="3.45"/><circle cx="127.9" cy="619.2" r="3.45"/><circle cx="121.1" cy="621.2" r="3.45"/><circle cx="127.2" cy="621.0" r="3.45"/><circle cx="121.5" cy="622.1" r="3.45"/><circle cx="127.3" cy="622.9" r="3.45"/><circle cx="121.3" cy="623.5" r="3.45"/><circle cx="127.4" cy="624.4" r="3.45"/><circle cx="120.5" cy="625.8" r="3.45"/><circle cx="127.3" cy="625.7" r="3.45"/><circle cx="120.2" cy="627.4" r="3.45"/><circle cx="126.9" cy="627.7" r="3.45"/><circle cx="120.6" cy="629.4" r="3.45"/><circle cx="126.5" cy="628.9" r="3.45"/><circle cx="120.6" cy="629.9" r="3.45"/><circle cx="126.4" cy="629.8" r="3.45"/><circle cx="120.1" cy="631.0" r="3.45"/><circle cx="126.4" cy="632.5" r="3.45"/><circle cx="120.1" cy="634.1" r="3.45"/><circle cx="125.7" cy="634.1" r="3.45"/><circle cx="119.8" cy="634.8" r="3.45"/><circle cx="126.2" cy="634.5" r="3.45"/><circle cx="119.7" cy="637.1" r="3.45"/><circle cx="125.3" cy="637.3" r="3.45"/><circle cx="119.5" cy="638.5" r="3.45"/><circle cx="125.9" cy="638.1" r="3.45"/><circle cx="119.4" cy="639.8" r="3.45"/><circle cx="125.5" cy="639.1" r="3.45"/><circle cx="118.7" cy="641.9" r="3.45"/><circle cx="125.2" cy="641.8" r="3.45"/><circle cx="118.9" cy="643.4" r="3.45"/><circle cx="124.4" cy="642.8" r="3.45"/><circle cx="119.1" cy="644.0" r="3.45"/><circle cx="124.5" cy="644.9" r="3.45"/><circle cx="118.3" cy="646.4" r="3.45"/><circle cx="124.4" cy="646.3" r="3.45"/><circle cx="118.7" cy="648.0" r="3.45"/><circle cx="124.8" cy="647.2" r="3.45"/><circle cx="117.8" cy="649.0" r="3.45"/><circle cx="124.2" cy="649.5" r="3.45"/><circle cx="118.2" cy="650.3" r="3.45"/><circle cx="123.9" cy="651.7" r="3.45"/><circle cx="117.9" cy="652.9" r="3.45"/><circle cx="123.5" cy="651.9" r="3.45"/><circle cx="117.8" cy="654.8" r="3.45"/><circle cx="123.7" cy="654.0" r="3.45"/><circle cx="117.9" cy="656.3" r="3.45"/><circle cx="124.1" cy="655.4" r="3.45"/><circle cx="117.9" cy="656.7" r="3.45"/><circle cx="123.5" cy="658.0" r="3.45"/><circle cx="117.8" cy="659.1" r="3.45"/><circle cx="123.4" cy="659.0" r="3.45"/><circle cx="116.9" cy="660.7" r="3.45"/><circle cx="123.8" cy="661.0" r="3.45"/><circle cx="117.7" cy="662.8" r="3.45"/><circle cx="122.9" cy="661.8" r="3.45"/><circle cx="117.4" cy="664.0" r="3.45"/><circle cx="123.0" cy="663.0" r="3.45"/><circle cx="116.7" cy="664.9" r="3.45"/><circle cx="123.3" cy="665.4" r="3.45"/><circle cx="117.0" cy="666.4" r="3.45"/><circle cx="122.5" cy="666.4" r="3.45"/><circle cx="116.8" cy="668.5" r="3.45"/><circle cx="123.1" cy="668.5" r="3.45"/><circle cx="116.9" cy="670.6" r="3.45"/><circle cx="122.4" cy="669.6" r="3.45"/><circle cx="116.5" cy="671.4" r="3.45"/><circle cx="122.5" cy="672.2" r="3.45"/><circle cx="116.9" cy="672.7" r="3.45"/><circle cx="122.5" cy="673.9" r="3.45"/><circle cx="116.5" cy="674.6" r="3.45"/><circle cx="122.0" cy="674.6" r="3.45"/><circle cx="116.3" cy="676.2" r="3.45"/><circle cx="122.3" cy="675.8" r="3.45"/><circle cx="116.4" cy="678.7" r="3.45"/><circle cx="122.7" cy="678.5" r="3.45"/><circle cx="116.3" cy="680.5" r="3.45"/><circle cx="121.9" cy="680.4" r="3.45"/><circle cx="116.7" cy="681.6" r="3.45"/><circle cx="122.4" cy="681.1" r="3.45"/><circle cx="116.0" cy="683.2" r="3.45"/><circle cx="122.3" cy="683.7" r="3.45"/><circle cx="116.4" cy="685.2" r="3.45"/><circle cx="121.8" cy="685.2" r="3.45"/><circle cx="116.1" cy="686.1" r="3.45"/><circle cx="122.1" cy="686.8" r="3.45"/><circle cx="115.4" cy="688.5" r="3.45"/><circle cx="121.4" cy="687.9" r="3.45"/><circle cx="115.8" cy="689.7" r="3.45"/><circle cx="121.7" cy="689.0" r="3.45"/><circle cx="115.6" cy="690.6" r="3.45"/><circle cx="121.6" cy="691.3" r="3.45"/><circle cx="115.2" cy="692.5" r="3.45"/><circle cx="121.5" cy="692.3" r="3.45"/><circle cx="115.5" cy="694.2" r="3.45"/><circle cx="121.0" cy="694.9" r="3.45"/><circle cx="115.8" cy="695.7" r="3.45"/><circle cx="121.3" cy="695.8" r="3.45"/><circle cx="115.1" cy="697.2" r="3.45"/><circle cx="121.2" cy="697.6" r="3.45"/><circle cx="114.8" cy="699.1" r="3.45"/><circle cx="120.6" cy="698.6" r="3.45"/><circle cx="114.7" cy="699.9" r="3.45"/><circle cx="121.2" cy="701.2" r="3.45"/><circle cx="115.1" cy="701.5" r="3.45"/><circle cx="120.2" cy="702.1" r="3.45"/><circle cx="114.3" cy="704.3" r="3.45"/><circle cx="121.0" cy="704.4" r="3.45"/><circle cx="114.6" cy="706.1" r="3.45"/><circle cx="120.1" cy="705.5" r="3.45"/><circle cx="115.0" cy="707.6" r="3.45"/><circle cx="120.2" cy="706.3" r="3.45"/><circle cx="114.6" cy="708.0" r="3.45"/><circle cx="120.5" cy="708.3" r="3.45"/><circle cx="114.6" cy="710.7" r="3.45"/><circle cx="120.1" cy="710.6" r="3.45"/><circle cx="114.6" cy="712.1" r="3.45"/><circle cx="119.4" cy="711.4" r="3.45"/><circle cx="114.3" cy="713.3" r="3.45"/><circle cx="119.9" cy="713.3" r="3.45"/><circle cx="113.9" cy="714.2" r="3.45"/><circle cx="119.3" cy="714.9" r="3.45"/><circle cx="113.4" cy="716.0" r="3.45"/><circle cx="119.2" cy="716.1" r="3.45"/><circle cx="114.0" cy="718.8" r="3.45"/><circle cx="119.6" cy="717.6" r="3.45"/><circle cx="113.6" cy="720.3" r="3.45"/><circle cx="119.2" cy="720.4" r="3.45"/><circle cx="113.7" cy="721.3" r="3.45"/><circle cx="119.6" cy="721.2" r="3.45"/><circle cx="113.3" cy="722.3" r="3.45"/><circle cx="119.4" cy="723.6" r="3.45"/><circle cx="112.9" cy="725.0" r="3.45"/><circle cx="118.6" cy="725.3" r="3.45"/><circle cx="113.5" cy="725.7" r="3.45"/><circle cx="119.2" cy="726.0" r="3.45"/><circle cx="113.4" cy="727.7" r="3.45"/><circle cx="118.7" cy="727.9" r="3.45"/><circle cx="112.8" cy="729.6" r="3.45"/><circle cx="118.1" cy="728.8" r="3.45"/><circle cx="113.0" cy="731.6" r="3.45"/><circle cx="118.2" cy="731.7" r="3.45"/><circle cx="112.5" cy="733.3" r="3.45"/><circle cx="118.1" cy="733.2" r="3.45"/><circle cx="112.2" cy="733.6" r="3.45"/><circle cx="118.6" cy="734.2" r="3.45"/><circle cx="112.4" cy="735.2" r="3.45"/><circle cx="117.6" cy="735.9" r="3.45"/><circle cx="112.0" cy="736.9" r="3.45"/><circle cx="118.1" cy="736.9" r="3.45"/><circle cx="112.0" cy="739.3" r="3.45"/><circle cx="118.2" cy="738.6" r="3.45"/><circle cx="111.8" cy="741.3" r="3.45"/><circle cx="117.4" cy="741.4" r="3.45"/><circle cx="112.0" cy="742.0" r="3.45"/><circle cx="117.3" cy="742.4" r="3.45"/><circle cx="111.9" cy="744.3" r="3.45"/><circle cx="117.7" cy="743.9" r="3.45"/><circle cx="112.1" cy="745.3" r="3.45"/><circle cx="117.2" cy="744.6" r="3.45"/><circle cx="111.9" cy="747.1" r="3.45"/><circle cx="117.3" cy="747.8" r="3.45"/><circle cx="111.6" cy="748.9" r="3.45"/><circle cx="117.0" cy="748.8" r="3.45"/><circle cx="111.6" cy="750.6" r="3.45"/><circle cx="116.8" cy="750.3" r="3.45"/><circle cx="111.2" cy="752.4" r="3.45"/><circle cx="116.3" cy="752.3" r="3.45"/><circle cx="111.1" cy="754.2" r="3.45"/><circle cx="117.0" cy="752.8" r="3.45"/><circle cx="110.9" cy="754.8" r="3.45"/><circle cx="116.3" cy="754.9" r="3.45"/><circle cx="111.5" cy="757.1" r="3.45"/><circle cx="117.0" cy="756.3" r="3.45"/><circle cx="111.0" cy="758.1" r="3.45"/><circle cx="116.3" cy="758.4" r="3.45"/><circle cx="111.1" cy="759.3" r="3.45"/><circle cx="115.9" cy="759.1" r="3.45"/><circle cx="111.0" cy="761.5" r="3.45"/><circle cx="116.1" cy="762.1" r="3.45"/><circle cx="110.4" cy="763.6" r="3.45"/><circle cx="116.7" cy="763.5" r="3.45"/><circle cx="110.6" cy="764.6" r="3.45"/><circle cx="116.5" cy="764.7" r="3.45"/><circle cx="110.6" cy="766.5" r="3.45"/><circle cx="115.8" cy="766.1" r="3.45"/><circle cx="110.3" cy="767.8" r="3.45"/><circle cx="115.9" cy="767.1" r="3.45"/><circle cx="110.6" cy="769.2" r="3.45"/><circle cx="115.5" cy="770.1" r="3.45"/><circle cx="109.9" cy="770.8" r="3.45"/><circle cx="115.5" cy="771.1" r="3.45"/><circle cx="110.7" cy="773.3" r="3.45"/><circle cx="115.6" cy="772.3" r="3.45"/><circle cx="110.0" cy="774.2" r="3.45"/><circle cx="115.5" cy="774.7" r="3.45"/><circle cx="110.1" cy="775.9" r="3.45"/><circle cx="115.5" cy="775.6" r="3.45"/><circle cx="110.0" cy="778.1" r="3.45"/><circle cx="115.2" cy="776.8" r="3.45"/><circle cx="109.5" cy="779.7" r="3.45"/><circle cx="115.3" cy="779.1" r="3.45"/><circle cx="109.7" cy="780.1" r="3.45"/><circle cx="115.2" cy="780.7" r="3.45"/><circle cx="456.4" cy="36.0" r="3.45"/><circle cx="448.1" cy="38.3" r="3.45"/><circle cx="437.8" cy="42.1" r="3.45"/><circle cx="432.5" cy="44.6" r="3.45"/><circle cx="400.8" cy="56.2" r="3.45"/><circle cx="392.2" cy="59.2" r="3.45"/><circle cx="388.2" cy="61.2" r="3.45"/><circle cx="378.6" cy="63.7" r="3.45"/><circle cx="365.5" cy="70.8" r="3.45"/><circle cx="487.6" cy="37.7" r="3.45"/><circle cx="486.0" cy="35.0" r="3.45"/><circle cx="424.9" cy="57.2" r="3.45"/><circle cx="384.7" cy="74.3" r="3.45"/><circle cx="404.3" cy="65.2" r="3.45"/><circle cx="472.0" cy="33.5" r="3.45"/><circle cx="465.0" cy="34.2" r="3.45"/></g>
<path d="M482.0 20.2L482.0 24.1L482.0 28.1L481.0 32.0L476.1 35.9L466.9 39.9L455.7 43.8L443.3 47.8L430.0 51.7L418.7 55.6L407.7 59.6L396.6 63.5L385.4 67.5L376.5 71.4L370.5 76.4L364.4 78.7L360.0 83.4L354.2 86.2L350.2 92.1L343.5 94.4L339.1 99.7L333.3 102.7L330.1 107.6L324.9 110.5L321.2 114.9L316.1 117.9L313.6 123.0L308.9 126.0L306.7 131.1L302.2 134.2L299.3 138.7L295.2 142.1L292.2 146.4L288.0 149.7L286.5 154.9L282.4 157.9L280.5 162.5L276.5 165.5L274.9 170.4L271.2 173.7L269.3 178.3L265.4 181.4L263.6 186.1L259.4 189.1L258.2 193.9L254.6 197.2L253.0 201.7L249.0 204.7L248.1 209.7L244.3 212.8L242.8 217.3L239.7 220.7L238.2 225.2L235.5 228.8L234.1 233.3L230.7 236.6L229.2 241.0L226.0 244.3L224.7 248.9L221.4 252.2L220.2 256.8L216.6 259.9L216.4 265.0L212.2 267.8L211.4 272.5L208.4 276.0L206.9 280.3L204.0 283.9L203.2 288.6L200.0 291.9L199.2 296.1L196.2 299.5L196.2 304.0L193.4 307.4L193.2 311.8L190.9 315.5L190.5 319.8L188.0 323.4L188.0 327.9L184.9 331.2L185.2 335.7L182.4 339.1L183.1 343.5L179.9 346.9L180.6 351.3L177.9 354.8L178.9 359.3L176.2 362.8L175.9 367.0L174.0 370.7L173.8 375.0L171.7 378.6L171.5 382.9L168.5 386.3L169.1 390.7L166.3 394.2L167.2 398.7L164.4 402.1L164.8 406.4L162.3 410.0L163.3 414.5L160.8 418.0L161.3 422.4L158.7 425.9L158.5 430.0L156.0 433.6L157.1 438.1L154.1 441.5L154.8 445.9L152.8 449.6L152.7 453.7L150.8 457.5L150.6 461.6L149.2 465.4L149.5 469.5L147.8 473.2L148.7 477.4L145.8 481.0L146.6 485.2L144.2 488.8L145.0 493.0L143.6 496.8L143.7 500.9L142.1 504.7L142.5 508.8L140.8 512.6L141.7 516.8L138.9 520.4L140.1 524.6L137.6 528.3L138.7 532.5L136.3 536.1L137.6 540.4L135.2 544.0L135.9 548.2L134.1 551.9L134.8 556.1L132.6 559.8L133.8 564.0L131.6 567.7L132.8 571.9L130.3 575.6L131.0 579.8L129.5 583.5L130.1 587.7L127.4 591.3L129.0 595.6L127.0 599.3L127.2 603.4L125.8 607.2L126.5 611.3L124.2 615.0L125.7 619.2L123.8 623.0L124.2 627.0L122.6 630.8L123.8 634.9L121.9 638.7L123.0 642.8L120.8 646.6L122.1 650.7L119.5 654.4L121.3 658.5L119.1 662.3L120.7 666.4L118.9 670.2L120.7 674.3L118.2 678.1L119.4 682.1L118.4 686.0L119.3 690.0L117.2 693.8L118.6 697.9L117.5 701.8L118.1 705.8L116.8 709.6L117.9 713.7L115.8 717.5L116.6 721.5L114.8 725.4L116.4 729.4L114.4 733.2L115.5 737.3L114.3 741.2L114.8 745.2L113.6 749.0L114.6 753.1L112.8 756.9L114.3 760.9L112.7 764.8L113.9 768.8L112.4 772.7L113.3 776.7L111.7 780.6" fill="none" stroke="#0000ff" stroke-width="2.6" stroke-linejoin="round"/>
<path d="M363.9 80.0L361.4 82.0L358.9 84.0L356.4 86.0L353.8 88.0L351.0 90.0L348.2 92.0L345.4 94.0L342.7 96.0L339.9 98.0L337.1 100.0L334.5 102.0L332.4 104.0L330.3 106.0L328.1 108.0L326.0 110.0L323.9 112.0L321.8 114.0L319.7 116.0L317.6 118.0L315.5 120.0L313.7 122.0L311.9 124.0L310.1 126.0L308.3 128.0L306.5 130.0L304.7 132.0L302.9 134.0L301.1 136.0L299.3 138.0L297.5 140.0L295.8 142.0L294.0 144.0L292.2 146.0L290.5 148.0L288.8 150.0L287.0 152.0L285.6 154.0L284.1 156.0L282.7 158.0L281.3 160.0L279.9 162.0L278.4 164.0L277.0 166.0L275.6 168.0L274.2 170.0L272.7 172.0L271.3 174.0L269.9 176.0L268.4 178.0L267.0 180.0L265.6 182.0L264.2 184.0L262.7 186.0L261.3 188.0L259.9 190.0L258.6 192.0L257.3 194.0L256.0 196.0L254.7 198.0L253.5 200.0L252.2 202.0L250.9 204.0L249.6 206.0L248.4 208.0L247.1 210.0L245.8 212.0L244.5 214.0L243.3 216.0L242.1 218.0L241.0 220.0L239.8 222.0L238.7 224.0L237.5 226.0L236.4 228.0L235.2 230.0L234.0 232.0L232.9 234.0L231.7 236.0L230.6 238.0L229.4 240.0L228.3 242.0L227.1 244.0L226.0 246.0L224.8 248.0L223.7 250.0L222.5 252.0L221.4 254.0L220.2 256.0L219.1 258.0L218.0 260.0L216.9 262.0L215.7 264.0L214.6 266.0L213.5 268.0L212.4 270.0L211.3 272.0L210.1 274.0L209.0 276.0L207.9 278.0L206.8 280.0L205.7 282.0L204.5 284.0L203.4 286.0L202.3 288.0L201.2 290.0L200.3 292.0L199.6 294.0L198.8 296.0L198.1 298.0L197.3 300.0L196.6 302.0L195.8 304.0L195.1 306.0L194.3 308.0L193.6 310.0L192.8 312.0L192.1 314.0L191.3 316.0L190.6 318.0L189.8 320.0L189.1 322.0L188.3 324.0L187.6 326.0L186.8 328.0L186.1 330.0L185.3 332.0L184.6 334.0L184.0 336.0L183.5 338.0L183.0 340.0L182.4 342.0L181.9 344.0L181.3 346.0L180.8 348.0L180.3 350.0L179.7 352.0L179.2 354.0L178.7 356.0L178.1 358.0L177.6 360.0L177.0 362.0L176.4 364.0L175.8 366.0L175.2 368.0L174.6 370.0L174.0 372.0L173.4 374.0L172.8 376.0L172.2 378.0L171.6 380.0L171.0 382.0L170.4 384.0L169.8 386.0L169.2 388.0L168.6 390.0L168.0 392.0L167.5 394.0L167.0 396.0L166.5 398.0L165.9 400.0L165.4 402.0L164.9 404.0L164.3 406.0L163.8 408.0L163.3 410.0L162.8 412.0L162.2 414.0L161.7 416.0L161.2 418.0L160.7 420.0L160.2 422.0L159.7 424.0L159.2 426.0L158.6 428.0L158.1 430.0L157.6 432.0L157.1 434.0L156.6 436.0L156.1 438.0L155.6 440.0L155.1 442.0L154.5 444.0L154.0 446.0L153.5 448.0L153.0 450.0L152.5 452.0L152.0 454.0L151.5 456.0L150.9 458.0L150.4 460.0L150.0 462.0L149.7 464.0L149.4 466.0L149.0 468.0L148.7 470.0L148.3 472.0L148.0 474.0L147.7 476.0L147.3 478.0L147.0 480.0L146.6 482.0L146.3 484.0L145.9 486.0L145.6 488.0L145.3 490.0L144.9 492.0L144.6 494.0L144.2 496.0L143.9 498.0L143.6 500.0L143.2 502.0L142.9 504.0L142.5 506.0L142.2 508.0L141.8 510.0L141.5 512.0L141.2 514.0L140.8 516.0L140.5 518.0L140.1 520.0L139.8 522.0L139.5 524.0L139.1 526.0L138.8 528.0L138.5 530.0L138.2 532.0L137.8 534.0L137.5 536.0L137.2 538.0L136.9 540.0L136.5 542.0L136.2 544.0L135.9 546.0L135.6 548.0L135.3 550.0L134.9 552.0L134.6 554.0L134.3 556.0L134.0 558.0L133.6 560.0L133.3 562.0L133.0 564.0L132.7 566.0L132.4 568.0L132.0 570.0L131.7 572.0L131.4 574.0L131.1 576.0L130.7 578.0L130.4 580.0L130.1 582.0L129.8 584.0L129.4 586.0L129.1 588.0L128.8 590.0L128.5 592.0L128.2 594.0L127.8 596.0L127.5 598.0L127.2 600.0L126.9 602.0L126.5 604.0L126.2 606.0L125.9 608.0L125.7 610.0L125.5 612.0L125.2 614.0L125.0 616.0L124.8 618.0L124.5 620.0L124.3 622.0L124.1 624.0L123.8 626.0L123.6 628.0L123.4 630.0L123.1 632.0L122.9 634.0L122.7 636.0L122.4 638.0L122.2 640.0L122.0 642.0L121.7 644.0L121.5 646.0L121.3 648.0L121.0 650.0L120.9 652.0L120.8 654.0L120.7 656.0L120.5 658.0L120.4 660.0L120.3 662.0L120.2 664.0L120.1 666.0L120.0 668.0L119.8 670.0L119.7 672.0L119.6 674.0L119.5 676.0L119.4 678.0L119.2 680.0L119.1 682.0L119.0 684.0L118.9 686.0L118.8 688.0L118.7 690.0L118.5 692.0L118.4 694.0L118.2 696.0L118.1 698.0L117.9 700.0L117.8 702.0L117.6 704.0L117.5 706.0L117.3 708.0L117.2 710.0L117.0 712.0L116.9 714.0L116.7 716.0L116.6 718.0L116.4 720.0L116.3 722.0L116.1 724.0L116.0 726.0L115.8 728.0L115.7 730.0L115.5 732.0L115.4 734.0L115.2 736.0L115.1 738.0L114.9 740.0L114.8 742.0L114.6 744.0L114.5 746.0L114.3 748.0L114.2 750.0L114.0 752.0L113.9 754.0L113.8 756.0L113.7 758.0L113.6 760.0L113.5 762.0L113.4 764.0L113.3 766.0L113.2 768.0L113.1 770.0L113.0 772.0L112.9 774.0L112.8 776.0L112.7 778.0L112.6 780.0" fill="none" stroke="#0000ff" stroke-width="12.6" stroke-linejoin="round" stroke-linecap="round"/>
<g fill="#0000ff"><circle cx="482.0" cy="20.2" r="6.08"/><circle cx="482.0" cy="24.1" r="6.08"/><circle cx="482.0" cy="28.1" r="6.08"/><circle cx="481.0" cy="32.0" r="6.08"/><circle cx="476.1" cy="35.9" r="6.08"/><circle cx="466.9" cy="39.9" r="6.08"/><circle cx="455.7" cy="43.8" r="6.08"/><circle cx="443.3" cy="47.8" r="6.08"/><circle cx="430.0" cy="51.7" r="6.08"/><circle cx="418.7" cy="55.6" r="6.08"/><circle cx="407.7" cy="59.6" r="6.08"/><circle cx="396.6" cy="63.5" r="6.08"/><circle cx="385.4" cy="67.5" r="6.08"/><circle cx="376.5" cy="71.4" r="6.08"/><circle cx="370.5" cy="76.4" r="6.08"/><circle cx="364.4" cy="78.7" r="6.08"/><circle cx="360.0" cy="83.4" r="6.08"/><circle cx="354.2" cy="86.2" r="6.08"/><circle cx="350.2" cy="92.1" r="6.08"/><circle cx="343.5" cy="94.4" r="6.08"/><circle cx="339.1" cy="99.7" r="6.08"/><circle cx="333.3" cy="102.7" r="6.08"/><circle cx="330.1" cy="107.6" r="6.08"/><circle cx="324.9" cy="110.5" r="6.08"/><circle cx="321.2" cy="114.9" r="6.08"/><circle cx="316.1" cy="117.9" r="6.08"/><circle cx="313.6" cy="123.0" r="6.08"/><circle cx="308.9" cy="126.0" r="6.08"/><circle cx="306.7" cy="131.1" r="6.08"/><circle cx="302.2" cy="134.2" r="6.08"/><circle cx="299.3" cy="138.7" r="6.08"/><circle cx="295.2" cy="142.1" r="6.08"/><circle cx="292.2" cy="146.4" r="6.08"/><circle cx="288.0" cy="149.7" r="6.08"/><circle cx="286.5" cy="154.9" r="6.08"/><circle cx="282.4" cy="157.9" r="6.08"/><circle cx="280.5" cy="162.5" r="6.08"/><circle cx="276.5" cy="165.5" r="6.08"/><circle cx="274.9" cy="170.4" r="6.08"/><circle cx="271.2" cy="173.7" r="6.08"/><circle cx="269.3" cy="178.3" r="6.08"/><circle cx="265.4" cy="181.4" r="6.08"/><circle cx="263.6" cy="186.1" r="6.08"/><circle cx="259.4" cy="189.1" r="6.08"/><circle cx="258.2" cy="193.9" r="6.08"/><circle cx="254.6" cy="197.2" r="6.08"/><circle cx="253.0" cy="201.7" r="6.08"/><circle cx="249.0" cy="204.7" r="6.08"/><circle cx="248.1" cy="209.7" r="6.08"/><circle cx="244.3" cy="212.8" r="6.08"/><circle cx="242.8" cy="217.3" r="6.08"/><circle cx="239.7" cy="220.7" r="6.08"/><circle cx="238.2" cy="225.2" r="6.08"/><circle cx="235.5" cy="228.8" r="6.08"/><circle cx="234.1" cy="233.3" r="6.08"/><circle cx="230.7" cy="236.6" r="6.08"/><circle cx="229.2" cy="241.0" r="6.08"/><circle cx="226.0" cy="244.3" r="6.08"/><circle cx="224.7" cy="248.9" r="6.08"/><circle cx="221.4" cy="252.2" r="6.08"/><circle cx="220.2" cy="256.8" r="6.08"/><circle cx="216.6" cy="259.9" r="6.08"/><circle cx="216.4" cy="265.0" r="6.08"/><circle cx="212.2" cy="267.8" r="6.08"/><circle cx="211.4" cy="272.5" r="6.08"/><circle cx="208.4" cy="276.0" r="6.08"/><circle cx="206.9" cy="280.3" r="6.08"/><circle cx="204.0" cy="283.9" r="6.08"/><circle cx="203.2" cy="288.6" r="6.08"/><circle cx="200.0" cy="291.9" r="6.08"/><circle cx="199.2" cy="296.1" r="6.08"/><circle cx="196.2" cy="299.5" r="6.08"/><circle cx="196.2" cy="304.0" r="6.08"/><circle cx="193.4" cy="307.4" r="6.08"/><circle cx="193.2" cy="311.8" r="6.08"/><circle cx="190.9" cy="315.5" r="6.08"/><circle cx="190.5" cy="319.8" r="6.08"/><circle cx="188.0" cy="323.4" r="6.08"/><circle cx="188.0" cy="327.9" r="6.08"/><circle cx="184.9" cy="331.2" r="6.08"/><circle cx="185.2" cy="335.7" r="6.08"/><circle cx="182.4" cy="339.1" r="6.08"/><circle cx="183.1" cy="343.5" r="6.08"/><circle cx="179.9" cy="346.9" r="6.08"/><circle cx="180.6" cy="351.3" r="6.08"/><circle cx="177.9" cy="354.8" r="6.08"/><circle cx="178.9" cy="359.3" r="6.08"/><circle cx="176.2" cy="362.8" r="6.08"/><circle cx="175.9" cy="367.0" r="6.08"/><circle cx="174.0" cy="370.7" r="6.08"/><circle cx="173.8" cy="375.0" r="6.08"/><circle cx="171.7" cy="378.6" r="6.08"/><circle cx="171.5" cy="382.9" r="6.08"/><circle cx="168.5" cy="386.3" r="6.08"/><circle cx="169.1" cy="390.7" r="6.08"/><circle cx="166.3" cy="394.2" r="6.08"/><circle cx="167.2" cy="398.7" r="6.08"/><circle cx="164.4" cy="402.1" r="6.08"/><circle cx="164.8" cy="406.4" r="6.08"/><circle cx="162.3" cy="410.0" r="6.08"/><circle cx="163.3" cy="414.5" r="6.08"/><circle cx="160.8" cy="418.0" r="6.08"/><circle cx="161.3" cy="422.4" r="6.08"/><circle cx="158.7" cy="425.9" r="6.08"/><circle cx="158.5" cy="430.0" r="6.08"/><circle cx="156.0" cy="433.6" r="6.08"/><circle cx="157.1" cy="438.1" r="6.08"/><circle cx="154.1" cy="441.5" r="6.08"/><circle cx="154.8" cy="445.9" r="6.08"/><circle cx="152.8" cy="449.6" r="6.08"/><circle cx="152.7" cy="453.7" r="6.08"/><circle cx="150.8" cy="457.5" r="6.08"/><circle cx="150.6" cy="461.6" r="6.08"/><circle cx="149.2" cy="465.4" r="6.08"/><circle cx="149.5" cy="469.5" r="6.08"/><circle cx="147.8" cy="473.2" r="6.08"/><circle cx="148.7" cy="477.4" r="6.08"/><circle cx="145.8" cy="481.0" r="6.08"/><circle cx="146.6" cy="485.2" r="6.08"/><circle cx="144.2" cy="488.8" r="6.08"/><circle cx="145.0" cy="493.0" r="6.08"/><circle cx="143.6" cy="496.8" r="6.08"/><circle cx="143.7" cy="500.9" r="6.08"/><circle cx="142.1" cy="504.7" r="6.08"/><circle cx="142.5" cy="508.8" r="6.08"/><circle cx="140.8" cy="512.6" r="6.08"/><circle cx="141.7" cy="516.8" r="6.08"/><circle cx="138.9" cy="520.4" r="6.08"/><circle cx="140.1" cy="524.6" r="6.08"/><circle cx="137.6" cy="528.3" r="6.08"/><circle cx="138.7" cy="532.5" r="6.08"/><circle cx="136.3" cy="536.1" r="6.08"/><circle cx="137.6" cy="540.4" r="6.08"/><circle cx="135.2" cy="544.0" r="6.08"/><circle cx="135.9" cy="548.2" r="6.08"/><circle cx="134.1" cy="551.9" r="6.08"/><circle cx="134.8" cy="556.1" r="6.08"/><circle cx="132.6" cy="559.8" r="6.08"/><circle cx="133.8" cy="564.0" r="6.08"/><circle cx="131.6" cy="567.7" r="6.08"/><circle cx="132.8" cy="571.9" r="6.08"/><circle cx="130.3" cy="575.6" r="6.08"/><circle cx="131.0" cy="579.8" r="6.08"/><circle cx="129.5" cy="583.5" r="6.08"/><circle cx="130.1" cy="587.7" r="6.08"/><circle cx="127.4" cy="591.3" r="6.08"/><circle cx="129.0" cy="595.6" r="6.08"/><circle cx="127.0" cy="599.3" r="6.08"/><circle cx="127.2" cy="603.4" r="6.08"/><circle cx="125.8" cy="607.2" r="6.08"/><circle cx="126.5" cy="611.3" r="6.08"/><circle cx="124.2" cy="615.0" r="6.08"/><circle cx="125.7" cy="619.2" r="6.08"/><circle cx="123.8" cy="623.0" r="6.08"/><circle cx="124.2" cy="627.0" r="6.08"/><circle cx="122.6" cy="630.8" r="6.08"/><circle cx="123.8" cy="634.9" r="6.08"/><circle cx="121.9" cy="638.7" r="6.08"/><circle cx="123.0" cy="642.8" r="6.08"/><circle cx="120.8" cy="646.6" r="6.08"/><circle cx="122.1" cy="650.7" r="6.08"/><circle cx="119.5" cy="654.4" r="6.08"/><circle cx="121.3" cy="658.5" r="6.08"/><circle cx="119.1" cy="662.3" r="6.08"/><circle cx="120.7" cy="666.4" r="6.08"/><circle cx="118.9" cy="670.2" r="6.08"/><circle cx="120.7" cy="674.3" r="6.08"/><circle cx="118.2" cy="678.1" r="6.08"/><circle cx="119.4" cy="682.1" r="6.08"/><circle cx="118.4" cy="686.0" r="6.08"/><circle cx="119.3" cy="690.0" r="6.08"/><circle cx="117.2" cy="693.8" r="6.08"/><circle cx="118.6" cy="697.9" r="6.08"/><circle cx="117.5" cy="701.8" r="6.08"/><circle cx="118.1" cy="705.8" r="6.08"/><circle cx="116.8" cy="709.6" r="6.08"/><circle cx="117.9" cy="713.7" r="6.08"/><circle cx="115.8" cy="717.5" r="6.08"/><circle cx="116.6" cy="721.5" r="6.08"/><circle cx="114.8" cy="725.4" r="6.08"/><circle cx="116.4" cy="729.4" r="6.08"/><circle cx="114.4" cy="733.2" r="6.08"/><circle cx="115.5" cy="737.3" r="6.08"/><circle cx="114.3" cy="741.2" r="6.08"/><circle cx="114.8" cy="745.2" r="6.08"/><circle cx="113.6" cy="749.0" r="6.08"/><circle cx="114.6" cy="753.1" r="6.08"/><circle cx="112.8" cy="756.9" r="6.08"/><circle cx="114.3" cy="760.9" r="6.08"/><circle cx="112.7" cy="764.8" r="6.08"/><circle cx="113.9" cy="768.8" r="6.08"/><circle cx="112.4" cy="772.7" r="6.08"/><circle cx="113.3" cy="776.7" r="6.08"/><circle cx="111.7" cy="780.6" r="6.08"/></g>
<path d="M481.0 19.0L481.0 20.6L481.0 22.2L481.0 23.7L481.0 25.3L481.0 26.9L480.5 28.5L479.0 30.8L474.5 34.8L469.0 38.7L466.0 42.6L462.2 46.6L453.3 50.5L445.3 54.5L435.6 58.4L423.5 66.3L407.0 74.2L388.2 82.0L372.8 89.9L352.5 97.8L324.6 117.5L297.5 137.2L272.0 176.6L248.0 216.0L222.5 255.4L196.9 294.8L177.7 334.2L159.2 413.0L141.1 491.8L129.1 570.6L119.8 649.4L108.3 728.2L104.0 807.0" fill="none" stroke="#ff0000" stroke-width="2.6" stroke-linejoin="round" stroke-linecap="square"/>
<path d="M481.0 19.0L481.0 20.6L481.0 22.2L481.0 23.7L481.0 25.3L481.0 26.9L480.5 28.5L479.0 30.8L475.5 34.8L471.0 38.7L468.0 42.6L464.2 46.6L455.3 50.5L447.3 54.5L437.6 58.4L425.5 66.3L409.0 74.2L391.2 82.0L377.2 89.9L358.5 97.8L328.6 117.5L298.3 137.2L272.4 176.6L249.0 216.0L224.1 255.4L199.9 294.8L181.3 334.2L160.0 413.0L142.1 491.8L130.5 570.6L121.8 649.4L110.3 728.2L109.2 807.0" fill="none" stroke="#ff0000" stroke-width="2.6" stroke-linejoin="round" stroke-linecap="square"/>
<path d="M481.0 19.0L481.0 20.6L481.0 22.2L481.0 23.7L481.0 25.3L481.0 26.9L480.5 28.5L479.0 30.8L474.8 34.8L469.5 38.7L466.5 42.6L462.7 46.6L453.8 50.5L445.8 54.5L436.1 58.4L424.0 66.3L407.5 74.2L388.9 82.0L373.9 89.9L354.0 97.8L325.6 117.5L297.7 137.2L272.1 176.6L248.2 216.0L222.9 255.4L197.7 294.8L178.6 334.2L159.4 413.0L141.3 491.8L129.5 570.6L120.3 649.4L108.8 728.2L105.3 807.0" fill="none" stroke="#ff0000" stroke-width="2.6" stroke-linejoin="round" stroke-linecap="square"/>
<path d="M481.0 19.0L481.0 20.6L481.0 22.2L481.0 23.7L481.0 25.3L481.0 26.9L480.5 28.5L479.0 30.8L475.2 34.8L470.5 38.7L467.5 42.6L463.7 46.6L454.8 50.5L446.8 54.5L437.1 58.4L425.0 66.3L408.5 74.2L390.4 82.0L376.1 89.9L357.0 97.8L327.6 117.5L298.1 137.2L272.3 176.6L248.8 216.0L223.7 255.4L199.2 294.8L180.4 334.2L159.8 413.0L141.8 491.8L130.2 570.6L121.3 649.4L109.8 728.2L107.9 807.0" fill="none" stroke="#ff0000" stroke-width="2.6" stroke-linejoin="round" stroke-linecap="square"/>
<path d="M481.0 19.0L481.0 20.6L481.0 22.2L481.0 23.7L481.0 25.3L481.0 26.9L480.5 28.5L479.0 30.8L475.0 34.8L470.0 38.7L467.0 42.6L463.2 46.6L454.3 50.5L446.3 54.5L436.6 58.4L424.5 66.3L408.0 74.2L389.7 82.0L375.0 89.9L355.5 97.8L326.6 117.5L297.9 137.2L272.2 176.6L248.5 216.0L223.3 255.4L198.4 294.8L179.5 334.2L159.6 413.0L141.6 491.8L129.8 570.6L120.8 649.4L109.3 728.2L106.6 807.0" fill="none" stroke="#ff0000" stroke-width="2.6" stroke-linejoin="round" stroke-linecap="square"/><g fill="#ff0000"><circle cx="481.0" cy="19.0" r="6.08"/><circle cx="481.0" cy="20.6" r="6.08"/><circle cx="481.0" cy="22.2" r="6.08"/><circle cx="481.0" cy="23.7" r="6.08"/><circle cx="481.0" cy="25.3" r="6.08"/><circle cx="481.0" cy="26.9" r="6.08"/><circle cx="480.5" cy="28.5" r="6.08"/><circle cx="479.0" cy="30.8" r="6.08"/><circle cx="475.0" cy="34.8" r="6.08"/><circle cx="470.0" cy="38.7" r="6.08"/><circle cx="467.0" cy="42.6" r="6.08"/><circle cx="463.2" cy="46.6" r="6.08"/><circle cx="454.3" cy="50.5" r="6.08"/><circle cx="446.3" cy="54.5" r="6.08"/><circle cx="436.6" cy="58.4" r="6.08"/><circle cx="424.5" cy="66.3" r="6.08"/><circle cx="408.0" cy="74.2" r="6.08"/><circle cx="389.7" cy="82.0" r="6.08"/><circle cx="375.0" cy="89.9" r="6.08"/><circle cx="355.5" cy="97.8" r="6.08"/><circle cx="326.6" cy="117.5" r="6.08"/><circle cx="297.9" cy="137.2" r="6.08"/><circle cx="272.2" cy="176.6" r="6.08"/><circle cx="248.5" cy="216.0" r="6.08"/><circle cx="223.3" cy="255.4" r="6.08"/><circle cx="198.4" cy="294.8" r="6.08"/><circle cx="179.5" cy="334.2" r="6.08"/><circle cx="159.6" cy="413.0" r="6.08"/><circle cx="141.6" cy="491.8" r="6.08"/><circle cx="129.8" cy="570.6" r="6.08"/><circle cx="120.8" cy="649.4" r="6.08"/><circle cx="109.3" cy="728.2" r="6.08"/><circle cx="106.6" cy="807.0" r="6.08"/></g>
<path d="M474.5 19.0L474.3 20.6L474.0 22.2L473.6 23.7L473.2 25.3L472.7 26.9L472.2 28.5L471.3 30.8L469.0 34.8L464.0 38.7L457.0 42.6L449.5 46.6L443.0 50.5L437.0 54.5L432.0 58.4L416.5 66.3L396.0 74.2L381.5 82.0L371.9 89.9L362.4 97.8L345.5 117.5L316.6 137.2L286.3 176.6L262.4 216.0L237.4 255.4L214.5 294.8L192.6 334.2L160.4 413.0L144.2 491.8L132.9 570.6L123.1 649.4L115.3 728.2L106.6 807.0" fill="none" stroke="#008000" stroke-width="2.6" stroke-linejoin="round" stroke-linecap="square"/><g fill="#008000"><circle cx="474.5" cy="19.0" r="6.08"/><circle cx="474.3" cy="20.6" r="6.08"/><circle cx="474.0" cy="22.2" r="6.08"/><circle cx="473.6" cy="23.7" r="6.08"/><circle cx="473.2" cy="25.3" r="6.08"/><circle cx="472.7" cy="26.9" r="6.08"/><circle cx="472.2" cy="28.5" r="6.08"/><circle cx="471.3" cy="30.8" r="6.08"/><circle cx="469.0" cy="34.8" r="6.08"/><circle cx="464.0" cy="38.7" r="6.08"/><circle cx="457.0" cy="42.6" r="6.08"/><circle cx="449.5" cy="46.6" r="6.08"/><circle cx="443.0" cy="50.5" r="6.08"/><circle cx="437.0" cy="54.5" r="6.08"/><circle cx="432.0" cy="58.4" r="6.08"/><circle cx="416.5" cy="66.3" r="6.08"/><circle cx="396.0" cy="74.2" r="6.08"/><circle cx="381.5" cy="82.0" r="6.08"/><circle cx="371.9" cy="89.9" r="6.08"/><circle cx="362.4" cy="97.8" r="6.08"/><circle cx="345.5" cy="117.5" r="6.08"/><circle cx="316.6" cy="137.2" r="6.08"/><circle cx="286.3" cy="176.6" r="6.08"/><circle cx="262.4" cy="216.0" r="6.08"/><circle cx="237.4" cy="255.4" r="6.08"/><circle cx="214.5" cy="294.8" r="6.08"/><circle cx="192.6" cy="334.2" r="6.08"/><circle cx="160.4" cy="413.0" r="6.08"/><circle cx="144.2" cy="491.8" r="6.08"/><circle cx="132.9" cy="570.6" r="6.08"/><circle cx="123.1" cy="649.4" r="6.08"/><circle cx="115.3" cy="728.2" r="6.08"/><circle cx="106.6" cy="807.0" r="6.08"/></g>
<path d="M482.6 19.4L482.6 20.2L482.6 21.1L482.6 22.0L482.6 23.0L482.6 24.1L482.6 25.2L482.6 26.5L482.6 28.0L482.6 29.6L482.6 31.5L482.6 33.6L481.8 36.0L478.0 38.9L470.0 42.2L460.0 46.1L451.1 50.8L441.9 56.3L431.4 62.9L417.4 70.9L400.5 80.3L378.5 91.8L356.6 105.5L329.4 122.0L302.4 141.8L273.2 165.7L255.1 194.3L234.7 228.6L217.3 269.7L197.4 318.6L180.5 376.7L160.4 445.4L139.2 526.1L121.8 620.5L109.2 730.0" fill="none" stroke="#ff00ff" stroke-width="2.6" stroke-linejoin="round" stroke-linecap="square"/><g fill="#ff00ff"><circle cx="482.6" cy="19.4" r="6.08"/><circle cx="482.6" cy="20.2" r="6.08"/><circle cx="482.6" cy="21.1" r="6.08"/><circle cx="482.6" cy="22.0" r="6.08"/><circle cx="482.6" cy="23.0" r="6.08"/><circle cx="482.6" cy="24.1" r="6.08"/><circle cx="482.6" cy="25.2" r="6.08"/><circle cx="482.6" cy="26.5" r="6.08"/><circle cx="482.6" cy="28.0" r="6.08"/><circle cx="482.6" cy="29.6" r="6.08"/><circle cx="482.6" cy="31.5" r="6.08"/><circle cx="482.6" cy="33.6" r="6.08"/><circle cx="481.8" cy="36.0" r="6.08"/><circle cx="478.0" cy="38.9" r="6.08"/><circle cx="470.0" cy="42.2" r="6.08"/><circle cx="460.0" cy="46.1" r="6.08"/><circle cx="451.1" cy="50.8" r="6.08"/><circle cx="441.9" cy="56.3" r="6.08"/><circle cx="431.4" cy="62.9" r="6.08"/><circle cx="417.4" cy="70.9" r="6.08"/><circle cx="400.5" cy="80.3" r="6.08"/><circle cx="378.5" cy="91.8" r="6.08"/><circle cx="356.6" cy="105.5" r="6.08"/><circle cx="329.4" cy="122.0" r="6.08"/><circle cx="302.4" cy="141.8" r="6.08"/><circle cx="273.2" cy="165.7" r="6.08"/><circle cx="255.1" cy="194.3" r="6.08"/><circle cx="234.7" cy="228.6" r="6.08"/><circle cx="217.3" cy="269.7" r="6.08"/><circle cx="197.4" cy="318.6" r="6.08"/><circle cx="180.5" cy="376.7" r="6.08"/><circle cx="160.4" cy="445.4" r="6.08"/><circle cx="139.2" cy="526.1" r="6.08"/><circle cx="121.8" cy="620.5" r="6.08"/><circle cx="109.2" cy="730.0" r="6.08"/></g>
</g>
<path d="M105.50 814.50v6.08" stroke="#000" stroke-width="1.39" fill="none"/>
<path d="M183.50 814.50v6.08" stroke="#000" stroke-width="1.39" fill="none"/>
<path d="M260.50 814.50v6.08" stroke="#000" stroke-width="1.39" fill="none"/>
<path d="M337.50 814.50v6.08" stroke="#000" stroke-width="1.39" fill="none"/>
<path d="M414.50 814.50v6.08" stroke="#000" stroke-width="1.39" fill="none"/>
<path d="M491.50 814.50v6.08" stroke="#000" stroke-width="1.39" fill="none"/>
<path d="M99.50 19.50h-6.08" stroke="#000" stroke-width="1.39" fill="none"/>
<path d="M99.50 97.50h-6.08" stroke="#000" stroke-width="1.39" fill="none"/>
<path d="M99.50 176.50h-6.08" stroke="#000" stroke-width="1.39" fill="none"/>
<path d="M99.50 255.50h-6.08" stroke="#000" stroke-width="1.39" fill="none"/>
<path d="M99.50 334.50h-6.08" stroke="#000" stroke-width="1.39" fill="none"/>
<path d="M99.50 413.50h-6.08" stroke="#000" stroke-width="1.39" fill="none"/>
<path d="M99.50 491.50h-6.08" stroke="#000" stroke-width="1.39" fill="none"/>
<path d="M99.50 570.50h-6.08" stroke="#000" stroke-width="1.39" fill="none"/>
<path d="M99.50 649.50h-6.08" stroke="#000" stroke-width="1.39" fill="none"/>
<path d="M99.50 728.50h-6.08" stroke="#000" stroke-width="1.39" fill="none"/>
<path d="M99.50 807.50h-6.08" stroke="#000" stroke-width="1.39" fill="none"/>
<rect x="99.50" y="19.50" width="393.00" height="795.00" fill="none" stroke="#000" stroke-width="1.39"/>
<text x="86.85" y="26.25" text-anchor="end" font-size="17.36">0</text>
<text x="86.85" y="104.25" text-anchor="end" font-size="17.36">100</text>
<text x="86.85" y="183.25" text-anchor="end" font-size="17.36">200</text>
<text x="86.85" y="262.25" text-anchor="end" font-size="17.36">300</text>
<text x="86.85" y="341.25" text-anchor="end" font-size="17.36">400</text>
<text x="86.85" y="420.25" text-anchor="end" font-size="17.36">500</text>
<text x="86.85" y="498.25" text-anchor="end" font-size="17.36">600</text>
<text x="86.85" y="577.25" text-anchor="end" font-size="17.36">700</text>
<text x="86.85" y="656.25" text-anchor="end" font-size="17.36">800</text>
<text x="86.85" y="735.25" text-anchor="end" font-size="17.36">900</text>
<text x="86.85" y="814.25" text-anchor="end" font-size="17.36">1000</text>
<text x="104.80" y="842.00" text-anchor="middle" font-size="17.36">5</text>
<text x="182.80" y="842.00" text-anchor="middle" font-size="17.36">10</text>
<text x="259.80" y="842.00" text-anchor="middle" font-size="17.36">15</text>
<text x="336.80" y="842.00" text-anchor="middle" font-size="17.36">20</text>
<text x="413.80" y="842.00" text-anchor="middle" font-size="17.36">25</text>
<text x="490.80" y="842.00" text-anchor="middle" font-size="17.36">30</text>
</g>
<g id="ax1">
<path d="M583.50 814.50V19.50" stroke="#b0b0b0" stroke-width="0.87" stroke-dasharray="3.2,1.39" fill="none"/>
<path d="M661.50 814.50V19.50" stroke="#b0b0b0" stroke-width="0.87" stroke-dasharray="3.2,1.39" fill="none"/>
<path d="M739.50 814.50V19.50" stroke="#b0b0b0" stroke-width="0.87" stroke-dasharray="3.2,1.39" fill="none"/>
<path d="M818.50 814.50V19.50" stroke="#b0b0b0" stroke-width="0.87" stroke-dasharray="3.2,1.39" fill="none"/>
<path d="M896.50 814.50V19.50" stroke="#b0b0b0" stroke-width="0.87" stroke-dasharray="3.2,1.39" fill="none"/>
<path d="M974.50 814.50V19.50" stroke="#b0b0b0" stroke-width="0.87" stroke-dasharray="3.2,1.39" fill="none"/>
<path d="M583.50 19.50H977.50" stroke="#b0b0b0" stroke-width="0.87" stroke-dasharray="3.2,1.39" fill="none"/>
<path d="M583.50 97.50H977.50" stroke="#b0b0b0" stroke-width="0.87" stroke-dasharray="3.2,1.39" fill="none"/>
<path d="M583.50 176.50H977.50" stroke="#b0b0b0" stroke-width="0.87" stroke-dasharray="3.2,1.39" fill="none"/>
<path d="M583.50 255.50H977.50" stroke="#b0b0b0" stroke-width="0.87" stroke-dasharray="3.2,1.39" fill="none"/>
<path d="M583.50 334.50H977.50" stroke="#b0b0b0" stroke-width="0.87" stroke-dasharray="3.2,1.39" fill="none"/>
<path d="M583.50 413.50H977.50" stroke="#b0b0b0" stroke-width="0.87" stroke-dasharray="3.2,1.39" fill="none"/>
<path d="M583.50 491.50H977.50" stroke="#b0b0b0" stroke-width="0.87" stroke-dasharray="3.2,1.39" fill="none"/>
<path d="M583.50 570.50H977.50" stroke="#b0b0b0" stroke-width="0.87" stroke-dasharray="3.2,1.39" fill="none"/>
<path d="M583.50 649.50H977.50" stroke="#b0b0b0" stroke-width="0.87" stroke-dasharray="3.2,1.39" fill="none"/>
<path d="M583.50 728.50H977.50" stroke="#b0b0b0" stroke-width="0.87" stroke-dasharray="3.2,1.39" fill="none"/>
<path d="M583.50 807.50H977.50" stroke="#b0b0b0" stroke-width="0.87" stroke-dasharray="3.2,1.39" fill="none"/>
<g clip-path="url(#c1)">
<g fill="#00ffff"><circle cx="698.0" cy="25.0" r="3.45"/><circle cx="702.9" cy="26.1" r="3.45"/><circle cx="737.1" cy="27.6" r="3.45"/><circle cx="742.0" cy="26.7" r="3.45"/><circle cx="769.6" cy="29.1" r="3.45"/><circle cx="774.6" cy="28.4" r="3.45"/><circle cx="791.2" cy="29.6" r="3.45"/><circle cx="796.3" cy="30.5" r="3.45"/><circle cx="812.6" cy="31.8" r="3.45"/><circle cx="818.3" cy="31.4" r="3.45"/><circle cx="825.7" cy="33.1" r="3.45"/><circle cx="830.6" cy="34.0" r="3.45"/><circle cx="836.7" cy="34.9" r="3.45"/><circle cx="842.1" cy="34.4" r="3.45"/><circle cx="846.9" cy="36.2" r="3.45"/><circle cx="852.0" cy="35.9" r="3.45"/><circle cx="855.4" cy="37.7" r="3.45"/><circle cx="861.0" cy="38.6" r="3.45"/><circle cx="864.6" cy="39.2" r="3.45"/><circle cx="870.6" cy="40.3" r="3.45"/><circle cx="872.3" cy="41.2" r="3.45"/><circle cx="877.7" cy="40.6" r="3.45"/><circle cx="879.3" cy="42.8" r="3.45"/><circle cx="885.5" cy="43.3" r="3.45"/><circle cx="885.2" cy="44.8" r="3.45"/><circle cx="891.4" cy="44.0" r="3.45"/><circle cx="889.5" cy="46.7" r="3.45"/><circle cx="896.1" cy="46.9" r="3.45"/><circle cx="894.2" cy="48.2" r="3.45"/><circle cx="900.0" cy="48.3" r="3.45"/><circle cx="895.5" cy="49.8" r="3.45"/><circle cx="902.7" cy="49.3" r="3.45"/><circle cx="897.6" cy="50.8" r="3.45"/><circle cx="903.9" cy="51.7" r="3.45"/><circle cx="899.6" cy="53.3" r="3.45"/><circle cx="906.2" cy="53.2" r="3.45"/><circle cx="900.6" cy="54.0" r="3.45"/><circle cx="907.7" cy="53.9" r="3.45"/><circle cx="902.1" cy="56.0" r="3.45"/><circle cx="909.4" cy="55.2" r="3.45"/><circle cx="903.7" cy="57.8" r="3.45"/><circle cx="910.2" cy="58.0" r="3.45"/><circle cx="904.6" cy="59.1" r="3.45"/><circle cx="911.5" cy="58.5" r="3.45"/><circle cx="905.1" cy="60.5" r="3.45"/><circle cx="913.3" cy="61.0" r="3.45"/><circle cx="905.9" cy="61.6" r="3.45"/><circle cx="913.9" cy="62.5" r="3.45"/><circle cx="906.9" cy="63.8" r="3.45"/><circle cx="914.2" cy="63.7" r="3.45"/><circle cx="907.4" cy="65.8" r="3.45"/><circle cx="915.9" cy="65.5" r="3.45"/><circle cx="908.5" cy="67.1" r="3.45"/><circle cx="916.3" cy="66.6" r="3.45"/><circle cx="909.1" cy="68.0" r="3.45"/><circle cx="917.3" cy="68.4" r="3.45"/><circle cx="909.6" cy="70.1" r="3.45"/><circle cx="917.4" cy="70.7" r="3.45"/><circle cx="909.7" cy="72.1" r="3.45"/><circle cx="917.6" cy="72.6" r="3.45"/><circle cx="909.6" cy="73.8" r="3.45"/><circle cx="918.4" cy="72.8" r="3.45"/><circle cx="910.6" cy="75.1" r="3.45"/><circle cx="918.4" cy="74.5" r="3.45"/><circle cx="910.0" cy="76.2" r="3.45"/><circle cx="918.8" cy="75.9" r="3.45"/><circle cx="910.3" cy="78.9" r="3.45"/><circle cx="918.3" cy="77.8" r="3.45"/><circle cx="909.6" cy="79.9" r="3.45"/><circle cx="919.1" cy="80.1" r="3.45"/><circle cx="910.1" cy="82.0" r="3.45"/><circle cx="919.0" cy="82.0" r="3.45"/><circle cx="909.9" cy="83.7" r="3.45"/><circle cx="918.1" cy="82.7" r="3.45"/><circle cx="909.3" cy="84.8" r="3.45"/><circle cx="918.3" cy="85.4" r="3.45"/><circle cx="909.0" cy="86.0" r="3.45"/><circle cx="918.4" cy="86.6" r="3.45"/><circle cx="907.9" cy="88.1" r="3.45"/><circle cx="917.6" cy="87.1" r="3.45"/><circle cx="907.5" cy="89.6" r="3.45"/><circle cx="917.4" cy="88.7" r="3.45"/><circle cx="906.8" cy="90.9" r="3.45"/><circle cx="916.3" cy="91.4" r="3.45"/><circle cx="905.5" cy="92.0" r="3.45"/><circle cx="915.7" cy="92.0" r="3.45"/><circle cx="905.0" cy="93.7" r="3.45"/><circle cx="914.3" cy="94.4" r="3.45"/><circle cx="904.1" cy="95.8" r="3.45"/><circle cx="914.3" cy="95.2" r="3.45"/><circle cx="902.8" cy="97.0" r="3.45"/><circle cx="913.2" cy="97.7" r="3.45"/><circle cx="902.4" cy="98.7" r="3.45"/><circle cx="912.2" cy="99.4" r="3.45"/><circle cx="901.8" cy="100.7" r="3.45"/><circle cx="912.1" cy="100.6" r="3.45"/><circle cx="900.6" cy="101.8" r="3.45"/><circle cx="910.9" cy="102.9" r="3.45"/><circle cx="899.2" cy="104.1" r="3.45"/><circle cx="910.1" cy="103.5" r="3.45"/><circle cx="898.6" cy="105.0" r="3.45"/><circle cx="910.2" cy="105.4" r="3.45"/><circle cx="898.3" cy="107.6" r="3.45"/><circle cx="909.0" cy="107.0" r="3.45"/><circle cx="897.0" cy="109.0" r="3.45"/><circle cx="908.7" cy="108.6" r="3.45"/><circle cx="896.3" cy="110.0" r="3.45"/><circle cx="908.0" cy="110.3" r="3.45"/><circle cx="894.3" cy="111.7" r="3.45"/><circle cx="906.1" cy="112.0" r="3.45"/><circle cx="892.5" cy="113.2" r="3.45"/><circle cx="904.9" cy="114.0" r="3.45"/><circle cx="891.0" cy="115.7" r="3.45"/><circle cx="902.9" cy="114.3" r="3.45"/><circle cx="889.4" cy="116.9" r="3.45"/><circle cx="901.8" cy="116.7" r="3.45"/><circle cx="887.6" cy="117.9" r="3.45"/><circle cx="899.6" cy="117.9" r="3.45"/><circle cx="885.2" cy="120.0" r="3.45"/><circle cx="898.0" cy="119.1" r="3.45"/><circle cx="883.4" cy="121.4" r="3.45"/><circle cx="896.0" cy="122.1" r="3.45"/><circle cx="881.4" cy="122.2" r="3.45"/><circle cx="894.7" cy="122.9" r="3.45"/><circle cx="880.3" cy="125.4" r="3.45"/><circle cx="892.9" cy="125.0" r="3.45"/><circle cx="877.9" cy="126.2" r="3.45"/><circle cx="891.3" cy="127.0" r="3.45"/><circle cx="876.3" cy="128.5" r="3.45"/><circle cx="889.5" cy="128.3" r="3.45"/><circle cx="874.1" cy="129.7" r="3.45"/><circle cx="888.2" cy="129.5" r="3.45"/><circle cx="872.7" cy="130.8" r="3.45"/><circle cx="886.4" cy="130.2" r="3.45"/><circle cx="870.9" cy="133.2" r="3.45"/><circle cx="884.7" cy="131.9" r="3.45"/><circle cx="868.0" cy="134.5" r="3.45"/><circle cx="881.7" cy="133.7" r="3.45"/><circle cx="866.0" cy="135.9" r="3.45"/><circle cx="879.6" cy="136.4" r="3.45"/><circle cx="863.9" cy="138.2" r="3.45"/><circle cx="877.4" cy="136.6" r="3.45"/><circle cx="862.0" cy="138.9" r="3.45"/><circle cx="875.3" cy="138.5" r="3.45"/><circle cx="859.9" cy="140.3" r="3.45"/><circle cx="873.3" cy="140.2" r="3.45"/><circle cx="857.9" cy="142.3" r="3.45"/><circle cx="871.7" cy="142.1" r="3.45"/><circle cx="855.5" cy="144.3" r="3.45"/><circle cx="869.5" cy="143.5" r="3.45"/><circle cx="853.2" cy="145.5" r="3.45"/><circle cx="867.3" cy="145.6" r="3.45"/><circle cx="850.7" cy="146.9" r="3.45"/><circle cx="865.0" cy="146.8" r="3.45"/><circle cx="849.0" cy="147.8" r="3.45"/><circle cx="863.1" cy="148.3" r="3.45"/><circle cx="847.6" cy="150.8" r="3.45"/><circle cx="861.9" cy="150.1" r="3.45"/><circle cx="845.6" cy="151.4" r="3.45"/><circle cx="859.7" cy="152.3" r="3.45"/><circle cx="843.8" cy="154.0" r="3.45"/><circle cx="858.1" cy="153.8" r="3.45"/><circle cx="841.7" cy="155.7" r="3.45"/><circle cx="856.5" cy="155.8" r="3.45"/><circle cx="840.8" cy="157.1" r="3.45"/><circle cx="854.0" cy="156.3" r="3.45"/><circle cx="838.2" cy="158.0" r="3.45"/><circle cx="852.5" cy="157.9" r="3.45"/><circle cx="836.5" cy="160.4" r="3.45"/><circle cx="851.0" cy="159.5" r="3.45"/><circle cx="835.3" cy="161.0" r="3.45"/><circle cx="848.8" cy="161.6" r="3.45"/><circle cx="833.5" cy="162.4" r="3.45"/><circle cx="847.1" cy="163.6" r="3.45"/><circle cx="831.4" cy="164.9" r="3.45"/><circle cx="845.0" cy="163.9" r="3.45"/><circle cx="829.5" cy="165.7" r="3.45"/><circle cx="843.8" cy="166.9" r="3.45"/><circle cx="827.1" cy="168.3" r="3.45"/><circle cx="841.2" cy="167.1" r="3.45"/><circle cx="825.4" cy="170.0" r="3.45"/><circle cx="840.0" cy="169.4" r="3.45"/><circle cx="824.3" cy="170.4" r="3.45"/><circle cx="837.7" cy="171.0" r="3.45"/><circle cx="822.0" cy="172.4" r="3.45"/><circle cx="836.4" cy="172.2" r="3.45"/><circle cx="820.5" cy="174.8" r="3.45"/><circle cx="834.2" cy="174.4" r="3.45"/><circle cx="818.1" cy="175.6" r="3.45"/><circle cx="832.6" cy="176.1" r="3.45"/><circle cx="816.7" cy="177.0" r="3.45"/><circle cx="830.2" cy="177.8" r="3.45"/><circle cx="815.3" cy="179.3" r="3.45"/><circle cx="829.2" cy="178.9" r="3.45"/><circle cx="813.9" cy="180.0" r="3.45"/><circle cx="827.9" cy="181.3" r="3.45"/><circle cx="812.7" cy="182.7" r="3.45"/><circle cx="826.5" cy="182.2" r="3.45"/><circle cx="810.9" cy="183.5" r="3.45"/><circle cx="825.3" cy="183.7" r="3.45"/><circle cx="809.4" cy="186.1" r="3.45"/><circle cx="823.9" cy="185.9" r="3.45"/><circle cx="808.6" cy="187.7" r="3.45"/><circle cx="822.1" cy="187.5" r="3.45"/><circle cx="806.9" cy="188.2" r="3.45"/><circle cx="821.1" cy="188.3" r="3.45"/><circle cx="805.6" cy="189.5" r="3.45"/><circle cx="819.9" cy="190.3" r="3.45"/><circle cx="804.7" cy="192.0" r="3.45"/><circle cx="819.2" cy="192.6" r="3.45"/><circle cx="803.7" cy="193.3" r="3.45"/><circle cx="817.0" cy="192.7" r="3.45"/><circle cx="801.8" cy="195.5" r="3.45"/><circle cx="816.3" cy="194.3" r="3.45"/><circle cx="799.7" cy="196.6" r="3.45"/><circle cx="814.1" cy="196.2" r="3.45"/><circle cx="797.9" cy="198.6" r="3.45"/><circle cx="812.6" cy="198.0" r="3.45"/><circle cx="796.4" cy="199.3" r="3.45"/><circle cx="810.7" cy="200.5" r="3.45"/><circle cx="794.7" cy="201.2" r="3.45"/><circle cx="808.3" cy="201.6" r="3.45"/><circle cx="792.8" cy="203.5" r="3.45"/><circle cx="807.0" cy="203.0" r="3.45"/><circle cx="790.7" cy="205.1" r="3.45"/><circle cx="805.0" cy="204.7" r="3.45"/><circle cx="788.4" cy="206.1" r="3.45"/><circle cx="803.5" cy="206.9" r="3.45"/><circle cx="787.0" cy="207.2" r="3.45"/><circle cx="801.2" cy="207.3" r="3.45"/><circle cx="785.1" cy="210.2" r="3.45"/><circle cx="799.8" cy="209.7" r="3.45"/><circle cx="783.4" cy="211.2" r="3.45"/><circle cx="798.2" cy="211.1" r="3.45"/><circle cx="781.7" cy="213.2" r="3.45"/><circle cx="795.9" cy="213.3" r="3.45"/><circle cx="780.2" cy="214.6" r="3.45"/><circle cx="793.8" cy="214.1" r="3.45"/><circle cx="778.1" cy="216.3" r="3.45"/><circle cx="792.1" cy="215.5" r="3.45"/><circle cx="776.0" cy="218.1" r="3.45"/><circle cx="791.0" cy="216.7" r="3.45"/><circle cx="774.5" cy="218.9" r="3.45"/><circle cx="789.4" cy="218.6" r="3.45"/><circle cx="772.7" cy="220.6" r="3.45"/><circle cx="787.3" cy="220.3" r="3.45"/><circle cx="770.4" cy="222.7" r="3.45"/><circle cx="785.0" cy="221.7" r="3.45"/><circle cx="768.7" cy="224.3" r="3.45"/><circle cx="783.1" cy="223.0" r="3.45"/><circle cx="767.0" cy="224.8" r="3.45"/><circle cx="782.1" cy="225.5" r="3.45"/><circle cx="765.1" cy="227.0" r="3.45"/><circle cx="779.6" cy="226.8" r="3.45"/><circle cx="763.5" cy="229.1" r="3.45"/><circle cx="778.0" cy="228.1" r="3.45"/><circle cx="761.7" cy="229.9" r="3.45"/><circle cx="776.6" cy="230.5" r="3.45"/><circle cx="760.9" cy="231.1" r="3.45"/><circle cx="775.4" cy="232.3" r="3.45"/><circle cx="759.5" cy="234.1" r="3.45"/><circle cx="774.2" cy="232.8" r="3.45"/><circle cx="758.1" cy="235.4" r="3.45"/><circle cx="772.4" cy="234.5" r="3.45"/><circle cx="755.8" cy="236.1" r="3.45"/><circle cx="771.5" cy="236.3" r="3.45"/><circle cx="754.9" cy="237.8" r="3.45"/><circle cx="770.1" cy="238.9" r="3.45"/><circle cx="753.4" cy="240.6" r="3.45"/><circle cx="768.8" cy="240.5" r="3.45"/><circle cx="752.1" cy="241.9" r="3.45"/><circle cx="767.3" cy="241.0" r="3.45"/><circle cx="750.9" cy="243.2" r="3.45"/><circle cx="765.2" cy="242.3" r="3.45"/><circle cx="749.5" cy="244.2" r="3.45"/><circle cx="764.3" cy="244.8" r="3.45"/><circle cx="747.6" cy="246.4" r="3.45"/><circle cx="762.3" cy="246.7" r="3.45"/><circle cx="746.2" cy="247.1" r="3.45"/><circle cx="761.6" cy="247.9" r="3.45"/><circle cx="744.3" cy="249.7" r="3.45"/><circle cx="759.6" cy="250.0" r="3.45"/><circle cx="743.5" cy="251.0" r="3.45"/><circle cx="758.2" cy="250.8" r="3.45"/><circle cx="742.2" cy="253.0" r="3.45"/><circle cx="757.6" cy="252.0" r="3.45"/><circle cx="740.6" cy="253.4" r="3.45"/><circle cx="755.9" cy="253.5" r="3.45"/><circle cx="739.4" cy="256.1" r="3.45"/><circle cx="755.1" cy="255.2" r="3.45"/><circle cx="738.1" cy="257.0" r="3.45"/><circle cx="753.8" cy="257.5" r="3.45"/><circle cx="737.0" cy="259.2" r="3.45"/><circle cx="753.1" cy="259.1" r="3.45"/><circle cx="736.4" cy="261.1" r="3.45"/><circle cx="752.0" cy="260.9" r="3.45"/><circle cx="735.6" cy="261.8" r="3.45"/><circle cx="751.1" cy="262.7" r="3.45"/><circle cx="734.9" cy="263.8" r="3.45"/><circle cx="750.7" cy="263.3" r="3.45"/><circle cx="733.7" cy="265.2" r="3.45"/><circle cx="749.6" cy="266.1" r="3.45"/><circle cx="732.7" cy="266.3" r="3.45"/><circle cx="748.8" cy="267.4" r="3.45"/><circle cx="732.0" cy="268.2" r="3.45"/><circle cx="747.5" cy="268.6" r="3.45"/><circle cx="730.2" cy="270.2" r="3.45"/><circle cx="746.5" cy="270.4" r="3.45"/><circle cx="729.0" cy="271.6" r="3.45"/><circle cx="745.8" cy="271.3" r="3.45"/><circle cx="727.9" cy="273.4" r="3.45"/><circle cx="744.4" cy="273.0" r="3.45"/><circle cx="726.6" cy="275.1" r="3.45"/><circle cx="743.0" cy="275.0" r="3.45"/><circle cx="725.5" cy="276.3" r="3.45"/><circle cx="742.2" cy="276.2" r="3.45"/><circle cx="724.3" cy="277.9" r="3.45"/><circle cx="740.8" cy="278.0" r="3.45"/><circle cx="723.0" cy="279.6" r="3.45"/><circle cx="739.4" cy="280.3" r="3.45"/><circle cx="722.0" cy="281.8" r="3.45"/><circle cx="738.5" cy="280.9" r="3.45"/><circle cx="721.1" cy="282.7" r="3.45"/><circle cx="736.6" cy="283.0" r="3.45"/><circle cx="719.6" cy="284.9" r="3.45"/><circle cx="736.3" cy="284.3" r="3.45"/><circle cx="718.5" cy="285.6" r="3.45"/><circle cx="734.2" cy="286.5" r="3.45"/><circle cx="717.3" cy="288.0" r="3.45"/><circle cx="733.5" cy="288.5" r="3.45"/><circle cx="715.8" cy="290.0" r="3.45"/><circle cx="731.9" cy="288.7" r="3.45"/><circle cx="715.0" cy="291.1" r="3.45"/><circle cx="731.3" cy="290.4" r="3.45"/><circle cx="713.4" cy="293.2" r="3.45"/><circle cx="730.3" cy="292.6" r="3.45"/><circle cx="712.8" cy="293.4" r="3.45"/><circle cx="728.2" cy="294.2" r="3.45"/><circle cx="711.0" cy="295.4" r="3.45"/><circle cx="727.9" cy="295.2" r="3.45"/><circle cx="710.5" cy="298.1" r="3.45"/><circle cx="726.8" cy="297.8" r="3.45"/><circle cx="709.1" cy="298.3" r="3.45"/><circle cx="725.2" cy="299.7" r="3.45"/><circle cx="708.5" cy="300.5" r="3.45"/><circle cx="724.4" cy="300.1" r="3.45"/><circle cx="706.8" cy="302.2" r="3.45"/><circle cx="722.9" cy="302.8" r="3.45"/><circle cx="705.5" cy="304.4" r="3.45"/><circle cx="722.0" cy="304.2" r="3.45"/><circle cx="705.3" cy="304.7" r="3.45"/><circle cx="720.6" cy="304.9" r="3.45"/><circle cx="704.0" cy="307.1" r="3.45"/><circle cx="719.9" cy="306.5" r="3.45"/><circle cx="702.5" cy="308.0" r="3.45"/><circle cx="718.9" cy="309.0" r="3.45"/><circle cx="701.6" cy="309.5" r="3.45"/><circle cx="717.6" cy="310.4" r="3.45"/><circle cx="700.4" cy="311.9" r="3.45"/><circle cx="716.7" cy="311.4" r="3.45"/><circle cx="700.1" cy="314.0" r="3.45"/><circle cx="715.2" cy="312.9" r="3.45"/><circle cx="698.2" cy="315.1" r="3.45"/><circle cx="714.0" cy="315.6" r="3.45"/><circle cx="697.6" cy="316.6" r="3.45"/><circle cx="713.4" cy="317.0" r="3.45"/><circle cx="696.8" cy="318.7" r="3.45"/><circle cx="711.5" cy="318.5" r="3.45"/><circle cx="695.9" cy="319.3" r="3.45"/><circle cx="711.7" cy="320.1" r="3.45"/><circle cx="695.0" cy="320.6" r="3.45"/><circle cx="710.5" cy="321.2" r="3.45"/><circle cx="694.8" cy="322.4" r="3.45"/><circle cx="710.1" cy="323.4" r="3.45"/><circle cx="694.3" cy="325.3" r="3.45"/><circle cx="709.3" cy="324.7" r="3.45"/><circle cx="694.1" cy="326.4" r="3.45"/><circle cx="708.7" cy="326.4" r="3.45"/><circle cx="693.6" cy="328.0" r="3.45"/><circle cx="708.4" cy="327.2" r="3.45"/><circle cx="693.0" cy="330.0" r="3.45"/><circle cx="708.1" cy="329.0" r="3.45"/><circle cx="692.2" cy="331.4" r="3.45"/><circle cx="707.3" cy="330.6" r="3.45"/><circle cx="692.1" cy="332.8" r="3.45"/><circle cx="707.2" cy="332.4" r="3.45"/><circle cx="691.0" cy="333.8" r="3.45"/><circle cx="706.5" cy="333.7" r="3.45"/><circle cx="690.7" cy="336.2" r="3.45"/><circle cx="705.2" cy="335.8" r="3.45"/><circle cx="690.4" cy="337.7" r="3.45"/><circle cx="705.0" cy="337.1" r="3.45"/><circle cx="689.5" cy="339.3" r="3.45"/><circle cx="704.3" cy="339.7" r="3.45"/><circle cx="688.8" cy="339.9" r="3.45"/><circle cx="703.5" cy="341.4" r="3.45"/><circle cx="688.8" cy="342.1" r="3.45"/><circle cx="702.5" cy="342.1" r="3.45"/><circle cx="688.5" cy="344.2" r="3.45"/><circle cx="701.8" cy="343.8" r="3.45"/><circle cx="687.3" cy="345.8" r="3.45"/><circle cx="701.3" cy="345.2" r="3.45"/><circle cx="687.3" cy="347.5" r="3.45"/><circle cx="701.3" cy="347.6" r="3.45"/><circle cx="686.4" cy="349.0" r="3.45"/><circle cx="700.0" cy="347.8" r="3.45"/><circle cx="685.6" cy="350.1" r="3.45"/><circle cx="699.1" cy="350.5" r="3.45"/><circle cx="685.7" cy="351.2" r="3.45"/><circle cx="698.7" cy="352.1" r="3.45"/><circle cx="684.5" cy="354.2" r="3.45"/><circle cx="698.3" cy="353.4" r="3.45"/><circle cx="684.0" cy="355.7" r="3.45"/><circle cx="697.0" cy="355.5" r="3.45"/><circle cx="684.2" cy="355.8" r="3.45"/><circle cx="696.8" cy="356.9" r="3.45"/><circle cx="683.7" cy="358.8" r="3.45"/><circle cx="696.3" cy="358.3" r="3.45"/><circle cx="682.6" cy="359.1" r="3.45"/><circle cx="695.8" cy="360.0" r="3.45"/><circle cx="682.1" cy="361.9" r="3.45"/><circle cx="694.7" cy="361.0" r="3.45"/><circle cx="681.5" cy="362.8" r="3.45"/><circle cx="693.6" cy="363.7" r="3.45"/><circle cx="680.6" cy="364.0" r="3.45"/><circle cx="693.2" cy="365.0" r="3.45"/><circle cx="679.8" cy="365.9" r="3.45"/><circle cx="692.3" cy="366.1" r="3.45"/><circle cx="679.7" cy="367.6" r="3.45"/><circle cx="691.5" cy="367.9" r="3.45"/><circle cx="678.5" cy="369.2" r="3.45"/><circle cx="691.0" cy="368.9" r="3.45"/><circle cx="678.5" cy="371.3" r="3.45"/><circle cx="689.8" cy="371.0" r="3.45"/><circle cx="677.6" cy="372.8" r="3.45"/><circle cx="689.3" cy="373.2" r="3.45"/><circle cx="676.5" cy="374.0" r="3.45"/><circle cx="688.0" cy="375.0" r="3.45"/><circle cx="676.2" cy="376.3" r="3.45"/><circle cx="687.6" cy="375.3" r="3.45"/><circle cx="675.8" cy="377.1" r="3.45"/><circle cx="687.2" cy="376.7" r="3.45"/><circle cx="675.0" cy="379.1" r="3.45"/><circle cx="686.1" cy="379.0" r="3.45"/><circle cx="674.4" cy="379.9" r="3.45"/><circle cx="685.3" cy="379.8" r="3.45"/><circle cx="674.4" cy="382.0" r="3.45"/><circle cx="684.8" cy="381.7" r="3.45"/><circle cx="673.3" cy="384.3" r="3.45"/><circle cx="684.5" cy="384.0" r="3.45"/><circle cx="672.7" cy="384.7" r="3.45"/><circle cx="683.7" cy="386.1" r="3.45"/><circle cx="672.8" cy="387.2" r="3.45"/><circle cx="682.7" cy="387.7" r="3.45"/><circle cx="672.3" cy="388.8" r="3.45"/><circle cx="681.9" cy="389.3" r="3.45"/><circle cx="671.0" cy="390.8" r="3.45"/><circle cx="681.9" cy="389.9" r="3.45"/><circle cx="671.2" cy="391.1" r="3.45"/><circle cx="680.7" cy="391.2" r="3.45"/><circle cx="669.8" cy="393.7" r="3.45"/><circle cx="680.8" cy="393.9" r="3.45"/><circle cx="670.0" cy="395.5" r="3.45"/><circle cx="680.3" cy="394.6" r="3.45"/><circle cx="669.3" cy="396.3" r="3.45"/><circle cx="679.2" cy="397.3" r="3.45"/><circle cx="668.9" cy="398.3" r="3.45"/><circle cx="679.1" cy="398.1" r="3.45"/><circle cx="668.5" cy="399.9" r="3.45"/><circle cx="678.2" cy="399.8" r="3.45"/><circle cx="667.9" cy="400.9" r="3.45"/><circle cx="677.5" cy="400.9" r="3.45"/><circle cx="666.8" cy="402.5" r="3.45"/><circle cx="677.3" cy="402.5" r="3.45"/><circle cx="666.4" cy="404.6" r="3.45"/><circle cx="675.9" cy="405.3" r="3.45"/><circle cx="665.7" cy="405.6" r="3.45"/><circle cx="675.8" cy="405.5" r="3.45"/><circle cx="665.8" cy="408.3" r="3.45"/><circle cx="675.0" cy="407.5" r="3.45"/><circle cx="665.5" cy="409.9" r="3.45"/><circle cx="674.6" cy="409.8" r="3.45"/><circle cx="664.8" cy="410.6" r="3.45"/><circle cx="674.0" cy="410.5" r="3.45"/><circle cx="664.5" cy="412.7" r="3.45"/><circle cx="673.9" cy="412.8" r="3.45"/><circle cx="663.4" cy="413.9" r="3.45"/><circle cx="672.9" cy="413.6" r="3.45"/><circle cx="663.2" cy="416.6" r="3.45"/><circle cx="672.6" cy="415.9" r="3.45"/><circle cx="663.4" cy="417.3" r="3.45"/><circle cx="672.0" cy="416.8" r="3.45"/><circle cx="662.7" cy="418.8" r="3.45"/><circle cx="671.7" cy="419.0" r="3.45"/><circle cx="662.4" cy="421.3" r="3.45"/><circle cx="671.6" cy="420.3" r="3.45"/><circle cx="662.0" cy="421.8" r="3.45"/><circle cx="671.2" cy="421.4" r="3.45"/><circle cx="662.0" cy="424.3" r="3.45"/><circle cx="671.5" cy="423.8" r="3.45"/><circle cx="661.5" cy="425.5" r="3.45"/><circle cx="671.2" cy="424.9" r="3.45"/><circle cx="661.8" cy="426.4" r="3.45"/><circle cx="670.0" cy="427.2" r="3.45"/><circle cx="661.2" cy="428.3" r="3.45"/><circle cx="670.4" cy="427.9" r="3.45"/><circle cx="661.2" cy="430.3" r="3.45"/><circle cx="669.8" cy="429.8" r="3.45"/><circle cx="660.9" cy="432.1" r="3.45"/><circle cx="669.4" cy="432.4" r="3.45"/><circle cx="660.1" cy="433.5" r="3.45"/><circle cx="669.2" cy="433.7" r="3.45"/><circle cx="660.4" cy="435.4" r="3.45"/><circle cx="668.4" cy="434.7" r="3.45"/><circle cx="659.5" cy="436.6" r="3.45"/><circle cx="668.0" cy="436.9" r="3.45"/><circle cx="659.8" cy="438.8" r="3.45"/><circle cx="667.9" cy="438.5" r="3.45"/><circle cx="658.8" cy="439.2" r="3.45"/><circle cx="667.7" cy="439.7" r="3.45"/><circle cx="658.7" cy="441.0" r="3.45"/><circle cx="667.8" cy="440.7" r="3.45"/><circle cx="659.1" cy="442.3" r="3.45"/><circle cx="666.9" cy="443.0" r="3.45"/><circle cx="658.6" cy="444.9" r="3.45"/><circle cx="666.5" cy="444.2" r="3.45"/><circle cx="658.5" cy="445.7" r="3.45"/><circle cx="666.3" cy="446.8" r="3.45"/><circle cx="658.0" cy="447.8" r="3.45"/><circle cx="666.2" cy="448.5" r="3.45"/><circle cx="657.9" cy="448.9" r="3.45"/><circle cx="665.5" cy="449.5" r="3.45"/><circle cx="656.6" cy="450.8" r="3.45"/><circle cx="665.1" cy="451.8" r="3.45"/><circle cx="656.5" cy="452.6" r="3.45"/><circle cx="664.5" cy="452.2" r="3.45"/><circle cx="656.1" cy="454.2" r="3.45"/><circle cx="664.8" cy="454.8" r="3.45"/><circle cx="656.2" cy="456.1" r="3.45"/><circle cx="663.5" cy="455.6" r="3.45"/><circle cx="655.5" cy="457.9" r="3.45"/><circle cx="663.4" cy="457.7" r="3.45"/><circle cx="655.7" cy="459.1" r="3.45"/><circle cx="663.3" cy="459.0" r="3.45"/><circle cx="654.7" cy="461.1" r="3.45"/><circle cx="662.3" cy="460.8" r="3.45"/><circle cx="654.9" cy="462.5" r="3.45"/><circle cx="662.6" cy="461.4" r="3.45"/><circle cx="653.9" cy="463.3" r="3.45"/><circle cx="661.5" cy="463.2" r="3.45"/><circle cx="653.9" cy="465.5" r="3.45"/><circle cx="661.3" cy="466.0" r="3.45"/><circle cx="653.6" cy="467.2" r="3.45"/><circle cx="660.8" cy="466.2" r="3.45"/><circle cx="652.7" cy="469.3" r="3.45"/><circle cx="660.7" cy="468.7" r="3.45"/><circle cx="652.7" cy="470.3" r="3.45"/><circle cx="659.9" cy="470.7" r="3.45"/><circle cx="652.4" cy="471.6" r="3.45"/><circle cx="660.2" cy="472.2" r="3.45"/><circle cx="652.1" cy="472.8" r="3.45"/><circle cx="658.9" cy="472.9" r="3.45"/><circle cx="651.9" cy="475.8" r="3.45"/><circle cx="658.7" cy="475.4" r="3.45"/><circle cx="651.2" cy="476.4" r="3.45"/><circle cx="658.2" cy="477.2" r="3.45"/><circle cx="650.7" cy="477.8" r="3.45"/><circle cx="657.6" cy="477.9" r="3.45"/><circle cx="650.5" cy="480.6" r="3.45"/><circle cx="657.3" cy="479.7" r="3.45"/><circle cx="650.6" cy="482.0" r="3.45"/><circle cx="657.6" cy="481.4" r="3.45"/><circle cx="650.1" cy="482.8" r="3.45"/><circle cx="656.6" cy="483.3" r="3.45"/><circle cx="649.1" cy="483.9" r="3.45"/><circle cx="656.3" cy="485.3" r="3.45"/><circle cx="649.0" cy="486.9" r="3.45"/><circle cx="655.6" cy="485.8" r="3.45"/><circle cx="648.9" cy="488.2" r="3.45"/><circle cx="655.4" cy="487.2" r="3.45"/><circle cx="648.6" cy="488.6" r="3.45"/><circle cx="654.9" cy="490.1" r="3.45"/><circle cx="648.0" cy="490.7" r="3.45"/><circle cx="654.8" cy="491.2" r="3.45"/><circle cx="647.8" cy="493.3" r="3.45"/><circle cx="654.5" cy="492.7" r="3.45"/><circle cx="647.8" cy="494.9" r="3.45"/><circle cx="653.9" cy="494.9" r="3.45"/><circle cx="648.1" cy="496.3" r="3.45"/><circle cx="654.4" cy="495.2" r="3.45"/><circle cx="647.4" cy="497.8" r="3.45"/><circle cx="653.5" cy="497.9" r="3.45"/><circle cx="647.5" cy="499.6" r="3.45"/><circle cx="653.4" cy="498.6" r="3.45"/><circle cx="647.6" cy="500.1" r="3.45"/><circle cx="653.5" cy="500.9" r="3.45"/><circle cx="646.7" cy="502.7" r="3.45"/><circle cx="653.7" cy="502.2" r="3.45"/><circle cx="647.4" cy="504.5" r="3.45"/><circle cx="653.5" cy="503.8" r="3.45"/><circle cx="646.8" cy="505.1" r="3.45"/><circle cx="652.8" cy="505.8" r="3.45"/><circle cx="647.0" cy="507.1" r="3.45"/><circle cx="652.8" cy="506.6" r="3.45"/><circle cx="646.8" cy="508.0" r="3.45"/><circle cx="653.2" cy="509.4" r="3.45"/><circle cx="646.2" cy="509.5" r="3.45"/><circle cx="653.1" cy="510.7" r="3.45"/><circle cx="646.8" cy="511.4" r="3.45"/><circle cx="652.3" cy="511.6" r="3.45"/><circle cx="646.4" cy="512.8" r="3.45"/><circle cx="652.7" cy="513.3" r="3.45"/><circle cx="646.2" cy="515.7" r="3.45"/><circle cx="652.4" cy="514.9" r="3.45"/><circle cx="646.4" cy="516.4" r="3.45"/><circle cx="651.7" cy="516.4" r="3.45"/><circle cx="645.7" cy="518.0" r="3.45"/><circle cx="651.9" cy="518.1" r="3.45"/><circle cx="646.1" cy="520.3" r="3.45"/><circle cx="651.7" cy="520.0" r="3.45"/><circle cx="646.1" cy="521.9" r="3.45"/><circle cx="652.1" cy="522.1" r="3.45"/><circle cx="645.9" cy="522.5" r="3.45"/><circle cx="651.2" cy="523.1" r="3.45"/><circle cx="645.8" cy="524.7" r="3.45"/><circle cx="651.7" cy="525.0" r="3.45"/><circle cx="644.9" cy="525.9" r="3.45"/><circle cx="651.7" cy="526.9" r="3.45"/><circle cx="644.8" cy="527.8" r="3.45"/><circle cx="651.5" cy="527.3" r="3.45"/><circle cx="644.9" cy="529.9" r="3.45"/><circle cx="651.0" cy="530.0" r="3.45"/><circle cx="645.4" cy="531.5" r="3.45"/><circle cx="651.5" cy="531.0" r="3.45"/><circle cx="645.6" cy="532.1" r="3.45"/><circle cx="651.7" cy="532.9" r="3.45"/><circle cx="645.4" cy="534.6" r="3.45"/><circle cx="650.9" cy="533.7" r="3.45"/><circle cx="645.6" cy="535.1" r="3.45"/><circle cx="651.1" cy="535.0" r="3.45"/><circle cx="645.0" cy="538.0" r="3.45"/><circle cx="651.5" cy="537.1" r="3.45"/><circle cx="645.5" cy="539.4" r="3.45"/><circle cx="651.5" cy="539.8" r="3.45"/><circle cx="645.1" cy="541.2" r="3.45"/><circle cx="650.6" cy="540.5" r="3.45"/><circle cx="645.6" cy="542.2" r="3.45"/><circle cx="651.2" cy="541.5" r="3.45"/><circle cx="645.3" cy="544.4" r="3.45"/><circle cx="650.8" cy="544.3" r="3.45"/><circle cx="644.6" cy="545.7" r="3.45"/><circle cx="650.7" cy="545.8" r="3.45"/><circle cx="645.5" cy="546.8" r="3.45"/><circle cx="651.3" cy="547.2" r="3.45"/><circle cx="644.8" cy="548.8" r="3.45"/><circle cx="650.9" cy="548.7" r="3.45"/><circle cx="645.0" cy="550.5" r="3.45"/><circle cx="651.1" cy="549.6" r="3.45"/><circle cx="645.5" cy="552.2" r="3.45"/><circle cx="651.1" cy="552.5" r="3.45"/><circle cx="644.9" cy="553.1" r="3.45"/><circle cx="651.3" cy="553.0" r="3.45"/><circle cx="645.1" cy="554.9" r="3.45"/><circle cx="650.4" cy="554.7" r="3.45"/><circle cx="644.9" cy="555.9" r="3.45"/><circle cx="650.6" cy="556.2" r="3.45"/><circle cx="645.5" cy="558.9" r="3.45"/><circle cx="651.4" cy="558.5" r="3.45"/><circle cx="645.1" cy="559.5" r="3.45"/><circle cx="650.6" cy="559.4" r="3.45"/><circle cx="645.1" cy="560.6" r="3.45"/><circle cx="651.1" cy="561.5" r="3.45"/><circle cx="645.2" cy="563.5" r="3.45"/><circle cx="650.8" cy="563.6" r="3.45"/><circle cx="645.0" cy="564.7" r="3.45"/><circle cx="650.6" cy="563.9" r="3.45"/><circle cx="645.4" cy="566.1" r="3.45"/><circle cx="650.7" cy="565.8" r="3.45"/><circle cx="644.6" cy="567.2" r="3.45"/><circle cx="650.6" cy="567.1" r="3.45"/><circle cx="644.7" cy="569.1" r="3.45"/><circle cx="650.5" cy="570.0" r="3.45"/><circle cx="644.4" cy="570.9" r="3.45"/><circle cx="650.9" cy="570.4" r="3.45"/><circle cx="645.4" cy="572.4" r="3.45"/><circle cx="650.5" cy="573.3" r="3.45"/><circle cx="644.9" cy="573.7" r="3.45"/><circle cx="650.4" cy="574.4" r="3.45"/><circle cx="644.7" cy="576.0" r="3.45"/><circle cx="650.1" cy="575.8" r="3.45"/><circle cx="644.4" cy="577.8" r="3.45"/><circle cx="650.6" cy="576.8" r="3.45"/><circle cx="645.3" cy="578.4" r="3.45"/><circle cx="650.9" cy="578.4" r="3.45"/><circle cx="644.8" cy="580.2" r="3.45"/><circle cx="650.2" cy="581.4" r="3.45"/><circle cx="645.2" cy="582.1" r="3.45"/><circle cx="650.0" cy="582.0" r="3.45"/><circle cx="644.8" cy="584.5" r="3.45"/><circle cx="650.4" cy="583.3" r="3.45"/><circle cx="644.4" cy="584.6" r="3.45"/><circle cx="650.8" cy="585.5" r="3.45"/><circle cx="644.9" cy="586.7" r="3.45"/><circle cx="650.8" cy="586.4" r="3.45"/><circle cx="644.9" cy="588.8" r="3.45"/><circle cx="650.8" cy="587.9" r="3.45"/><circle cx="644.9" cy="590.6" r="3.45"/><circle cx="650.6" cy="590.5" r="3.45"/><circle cx="645.1" cy="591.8" r="3.45"/><circle cx="650.1" cy="592.5" r="3.45"/><circle cx="644.7" cy="592.8" r="3.45"/><circle cx="650.0" cy="593.1" r="3.45"/><circle cx="644.8" cy="595.7" r="3.45"/><circle cx="650.6" cy="594.9" r="3.45"/><circle cx="644.6" cy="596.7" r="3.45"/><circle cx="650.7" cy="596.1" r="3.45"/><circle cx="644.5" cy="597.5" r="3.45"/><circle cx="650.0" cy="597.8" r="3.45"/><circle cx="645.1" cy="599.4" r="3.45"/><circle cx="650.6" cy="600.1" r="3.45"/><circle cx="644.4" cy="600.9" r="3.45"/><circle cx="650.3" cy="601.5" r="3.45"/><circle cx="645.1" cy="603.8" r="3.45"/><circle cx="650.0" cy="603.0" r="3.45"/><circle cx="644.9" cy="605.0" r="3.45"/><circle cx="650.5" cy="604.9" r="3.45"/><circle cx="644.8" cy="606.4" r="3.45"/><circle cx="649.9" cy="605.9" r="3.45"/><circle cx="645.0" cy="607.5" r="3.45"/><circle cx="649.9" cy="607.5" r="3.45"/><circle cx="644.9" cy="609.5" r="3.45"/><circle cx="650.5" cy="609.5" r="3.45"/><circle cx="644.4" cy="611.1" r="3.45"/><circle cx="650.3" cy="611.3" r="3.45"/><circle cx="644.4" cy="612.8" r="3.45"/><circle cx="650.3" cy="612.6" r="3.45"/><circle cx="644.8" cy="613.9" r="3.45"/><circle cx="650.1" cy="614.0" r="3.45"/><circle cx="644.5" cy="616.3" r="3.45"/><circle cx="650.2" cy="615.9" r="3.45"/><circle cx="645.1" cy="618.0" r="3.45"/><circle cx="650.2" cy="618.0" r="3.45"/><circle cx="644.9" cy="618.5" r="3.45"/><circle cx="650.3" cy="618.3" r="3.45"/><circle cx="644.4" cy="620.8" r="3.45"/><circle cx="650.3" cy="621.2" r="3.45"/><circle cx="644.5" cy="622.1" r="3.45"/><circle cx="650.6" cy="622.0" r="3.45"/><circle cx="644.8" cy="624.3" r="3.45"/><circle cx="650.0" cy="624.2" r="3.45"/><circle cx="644.5" cy="625.0" r="3.45"/><circle cx="650.3" cy="625.5" r="3.45"/><circle cx="644.5" cy="627.4" r="3.45"/><circle cx="650.5" cy="627.1" r="3.45"/><circle cx="644.8" cy="628.4" r="3.45"/><circle cx="650.0" cy="628.7" r="3.45"/><circle cx="644.3" cy="629.6" r="3.45"/><circle cx="650.0" cy="630.1" r="3.45"/><circle cx="644.4" cy="631.2" r="3.45"/><circle cx="650.2" cy="631.6" r="3.45"/><circle cx="644.9" cy="633.4" r="3.45"/><circle cx="649.9" cy="632.9" r="3.45"/><circle cx="645.0" cy="634.4" r="3.45"/><circle cx="649.7" cy="634.3" r="3.45"/><circle cx="644.6" cy="636.7" r="3.45"/><circle cx="650.2" cy="636.9" r="3.45"/><circle cx="644.3" cy="638.6" r="3.45"/><circle cx="649.8" cy="637.8" r="3.45"/><circle cx="644.2" cy="640.6" r="3.45"/><circle cx="650.5" cy="639.5" r="3.45"/><circle cx="644.8" cy="641.0" r="3.45"/><circle cx="650.5" cy="640.6" r="3.45"/><circle cx="644.8" cy="643.5" r="3.45"/><circle cx="650.6" cy="643.6" r="3.45"/><circle cx="644.2" cy="645.3" r="3.45"/><circle cx="650.0" cy="645.2" r="3.45"/><circle cx="644.8" cy="646.2" r="3.45"/><circle cx="649.6" cy="645.5" r="3.45"/><circle cx="645.2" cy="647.1" r="3.45"/><circle cx="650.1" cy="647.0" r="3.45"/><circle cx="644.6" cy="648.9" r="3.45"/><circle cx="649.9" cy="649.0" r="3.45"/><circle cx="645.2" cy="650.3" r="3.45"/><circle cx="650.2" cy="651.3" r="3.45"/><circle cx="644.7" cy="653.2" r="3.45"/><circle cx="650.1" cy="652.6" r="3.45"/><circle cx="644.7" cy="654.2" r="3.45"/><circle cx="650.0" cy="654.2" r="3.45"/><circle cx="644.7" cy="655.5" r="3.45"/><circle cx="649.7" cy="656.6" r="3.45"/><circle cx="644.5" cy="657.9" r="3.45"/><circle cx="650.6" cy="657.9" r="3.45"/><circle cx="644.5" cy="658.3" r="3.45"/><circle cx="649.7" cy="659.2" r="3.45"/><circle cx="644.4" cy="661.2" r="3.45"/><circle cx="650.2" cy="661.0" r="3.45"/><circle cx="644.4" cy="661.6" r="3.45"/><circle cx="649.7" cy="662.9" r="3.45"/><circle cx="645.2" cy="664.5" r="3.45"/><circle cx="650.2" cy="664.0" r="3.45"/><circle cx="644.4" cy="665.7" r="3.45"/><circle cx="650.3" cy="664.6" r="3.45"/><circle cx="644.6" cy="667.2" r="3.45"/><circle cx="650.2" cy="666.9" r="3.45"/><circle cx="644.3" cy="668.9" r="3.45"/><circle cx="649.8" cy="668.8" r="3.45"/><circle cx="644.5" cy="670.4" r="3.45"/><circle cx="649.8" cy="669.5" r="3.45"/><circle cx="644.6" cy="672.6" r="3.45"/><circle cx="650.2" cy="671.8" r="3.45"/><circle cx="644.3" cy="673.1" r="3.45"/><circle cx="650.0" cy="673.9" r="3.45"/><circle cx="645.1" cy="675.3" r="3.45"/><circle cx="649.7" cy="674.4" r="3.45"/><circle cx="644.7" cy="676.9" r="3.45"/><circle cx="650.5" cy="677.1" r="3.45"/><circle cx="645.2" cy="678.2" r="3.45"/><circle cx="650.1" cy="678.5" r="3.45"/><circle cx="644.5" cy="679.6" r="3.45"/><circle cx="649.7" cy="679.6" r="3.45"/><circle cx="645.2" cy="682.0" r="3.45"/><circle cx="650.3" cy="682.1" r="3.45"/><circle cx="644.6" cy="683.5" r="3.45"/><circle cx="649.6" cy="682.9" r="3.45"/><circle cx="644.3" cy="684.1" r="3.45"/><circle cx="650.2" cy="685.0" r="3.45"/><circle cx="644.6" cy="685.7" r="3.45"/><circle cx="649.6" cy="685.4" r="3.45"/><circle cx="644.4" cy="688.5" r="3.45"/><circle cx="650.1" cy="687.6" r="3.45"/><circle cx="644.8" cy="689.5" r="3.45"/><circle cx="649.6" cy="690.0" r="3.45"/><circle cx="645.0" cy="690.7" r="3.45"/><circle cx="649.8" cy="691.4" r="3.45"/><circle cx="644.9" cy="691.9" r="3.45"/><circle cx="650.3" cy="692.4" r="3.45"/><circle cx="644.5" cy="693.5" r="3.45"/><circle cx="650.3" cy="695.0" r="3.45"/><circle cx="645.1" cy="695.9" r="3.45"/><circle cx="650.5" cy="695.2" r="3.45"/><circle cx="644.5" cy="696.8" r="3.45"/><circle cx="650.3" cy="697.9" r="3.45"/><circle cx="644.3" cy="699.7" r="3.45"/><circle cx="650.4" cy="699.7" r="3.45"/><circle cx="644.7" cy="701.3" r="3.45"/><circle cx="649.8" cy="700.6" r="3.45"/><circle cx="644.3" cy="703.0" r="3.45"/><circle cx="649.6" cy="702.1" r="3.45"/><circle cx="645.0" cy="703.9" r="3.45"/><circle cx="650.4" cy="704.3" r="3.45"/><circle cx="645.2" cy="704.9" r="3.45"/><circle cx="650.3" cy="704.7" r="3.45"/><circle cx="645.2" cy="706.6" r="3.45"/><circle cx="649.9" cy="707.6" r="3.45"/><circle cx="644.9" cy="708.0" r="3.45"/><circle cx="649.9" cy="709.3" r="3.45"/><circle cx="645.1" cy="709.6" r="3.45"/><circle cx="650.4" cy="709.8" r="3.45"/><circle cx="645.5" cy="711.7" r="3.45"/><circle cx="650.6" cy="711.7" r="3.45"/><circle cx="645.3" cy="712.6" r="3.45"/><circle cx="650.3" cy="713.3" r="3.45"/><circle cx="644.7" cy="714.3" r="3.45"/><circle cx="650.1" cy="715.0" r="3.45"/><circle cx="645.2" cy="716.0" r="3.45"/><circle cx="650.5" cy="716.0" r="3.45"/><circle cx="645.1" cy="717.8" r="3.45"/><circle cx="650.5" cy="718.7" r="3.45"/><circle cx="645.4" cy="719.3" r="3.45"/><circle cx="650.3" cy="720.2" r="3.45"/><circle cx="645.2" cy="721.8" r="3.45"/><circle cx="650.4" cy="721.2" r="3.45"/><circle cx="645.1" cy="722.8" r="3.45"/><circle cx="650.2" cy="722.8" r="3.45"/><circle cx="645.2" cy="725.2" r="3.45"/><circle cx="650.8" cy="724.7" r="3.45"/><circle cx="645.7" cy="725.4" r="3.45"/><circle cx="650.6" cy="725.6" r="3.45"/><circle cx="645.4" cy="728.2" r="3.45"/><circle cx="650.1" cy="727.9" r="3.45"/><circle cx="645.6" cy="729.2" r="3.45"/><circle cx="650.0" cy="729.2" r="3.45"/><circle cx="645.7" cy="731.8" r="3.45"/><circle cx="651.0" cy="731.5" r="3.45"/><circle cx="645.9" cy="732.9" r="3.45"/><circle cx="650.8" cy="732.6" r="3.45"/><circle cx="645.3" cy="733.6" r="3.45"/><circle cx="650.9" cy="734.4" r="3.45"/><circle cx="645.5" cy="735.7" r="3.45"/><circle cx="651.0" cy="735.9" r="3.45"/><circle cx="645.3" cy="737.0" r="3.45"/><circle cx="650.3" cy="737.3" r="3.45"/><circle cx="646.1" cy="739.6" r="3.45"/><circle cx="650.4" cy="738.5" r="3.45"/><circle cx="646.0" cy="740.5" r="3.45"/><circle cx="651.1" cy="741.4" r="3.45"/><circle cx="645.8" cy="742.0" r="3.45"/><circle cx="651.2" cy="743.0" r="3.45"/><circle cx="645.3" cy="744.0" r="3.45"/><circle cx="651.1" cy="744.1" r="3.45"/><circle cx="646.0" cy="745.8" r="3.45"/><circle cx="651.1" cy="746.2" r="3.45"/><circle cx="645.7" cy="747.4" r="3.45"/><circle cx="650.8" cy="747.0" r="3.45"/><circle cx="646.0" cy="748.2" r="3.45"/><circle cx="651.0" cy="748.1" r="3.45"/><circle cx="646.2" cy="750.0" r="3.45"/><circle cx="650.8" cy="750.7" r="3.45"/><circle cx="645.9" cy="751.7" r="3.45"/><circle cx="651.2" cy="752.3" r="3.45"/><circle cx="646.2" cy="753.0" r="3.45"/><circle cx="651.3" cy="752.6" r="3.45"/><circle cx="646.4" cy="755.3" r="3.45"/><circle cx="651.4" cy="755.3" r="3.45"/><circle cx="645.6" cy="756.2" r="3.45"/><circle cx="651.3" cy="755.9" r="3.45"/><circle cx="646.4" cy="758.3" r="3.45"/><circle cx="650.8" cy="758.9" r="3.45"/><circle cx="645.6" cy="759.2" r="3.45"/><circle cx="650.9" cy="760.0" r="3.45"/><circle cx="646.3" cy="761.8" r="3.45"/><circle cx="650.8" cy="760.8" r="3.45"/><circle cx="645.6" cy="763.2" r="3.45"/><circle cx="651.1" cy="762.3" r="3.45"/><circle cx="646.2" cy="764.4" r="3.45"/><circle cx="651.3" cy="764.5" r="3.45"/><circle cx="646.2" cy="766.3" r="3.45"/><circle cx="651.3" cy="766.0" r="3.45"/><circle cx="646.0" cy="768.5" r="3.45"/><circle cx="651.2" cy="768.6" r="3.45"/><circle cx="646.7" cy="769.2" r="3.45"/><circle cx="651.1" cy="768.8" r="3.45"/><circle cx="646.4" cy="770.4" r="3.45"/><circle cx="651.3" cy="770.6" r="3.45"/><circle cx="645.8" cy="772.7" r="3.45"/><circle cx="650.8" cy="772.3" r="3.45"/><circle cx="646.3" cy="774.0" r="3.45"/><circle cx="651.6" cy="774.4" r="3.45"/><circle cx="646.0" cy="775.2" r="3.45"/><circle cx="650.8" cy="776.2" r="3.45"/><circle cx="646.3" cy="777.2" r="3.45"/><circle cx="651.7" cy="778.1" r="3.45"/><circle cx="646.4" cy="779.6" r="3.45"/><circle cx="651.4" cy="779.0" r="3.45"/><circle cx="645.9" cy="780.9" r="3.45"/><circle cx="651.3" cy="780.1" r="3.45"/><circle cx="622.1" cy="23.6" r="3.45"/><circle cx="631.2" cy="24.6" r="3.45"/><circle cx="640.3" cy="25.1" r="3.45"/><circle cx="644.3" cy="22.6" r="3.45"/><circle cx="626.0" cy="21.5" r="3.45"/><circle cx="636.0" cy="22.0" r="3.45"/><circle cx="677.5" cy="26.6" r="3.45"/><circle cx="684.6" cy="25.1" r="3.45"/><circle cx="696.6" cy="27.6" r="3.45"/><circle cx="707.7" cy="24.1" r="3.45"/><circle cx="716.3" cy="26.6" r="3.45"/><circle cx="725.3" cy="23.6" r="3.45"/><circle cx="738.9" cy="29.1" r="3.45"/><circle cx="744.9" cy="32.1" r="3.45"/><circle cx="753.0" cy="26.1" r="3.45"/><circle cx="757.0" cy="28.6" r="3.45"/><circle cx="771.1" cy="27.6" r="3.45"/><circle cx="770.1" cy="30.1" r="3.45"/><circle cx="685.0" cy="21.5" r="3.45"/><circle cx="706.0" cy="21.5" r="3.45"/><circle cx="807.2" cy="29.1" r="3.45"/><circle cx="810.2" cy="33.2" r="3.45"/><circle cx="817.2" cy="38.2" r="3.45"/><circle cx="826.3" cy="26.1" r="3.45"/><circle cx="829.3" cy="30.1" r="3.45"/><circle cx="835.4" cy="30.1" r="3.45"/><circle cx="836.4" cy="35.2" r="3.45"/><circle cx="840.4" cy="38.2" r="3.45"/><circle cx="856.5" cy="28.1" r="3.45"/><circle cx="861.5" cy="30.1" r="3.45"/><circle cx="867.6" cy="32.1" r="3.45"/><circle cx="852.5" cy="40.2" r="3.45"/><circle cx="858.5" cy="43.2" r="3.45"/><circle cx="866.6" cy="46.2" r="3.45"/><circle cx="870.6" cy="50.3" r="3.45"/><circle cx="875.6" cy="53.3" r="3.45"/><circle cx="878.6" cy="54.3" r="3.45"/><circle cx="871.6" cy="58.3" r="3.45"/><circle cx="885.2" cy="35.7" r="3.45"/><circle cx="895.7" cy="61.3" r="3.45"/><circle cx="898.8" cy="44.2" r="3.45"/><circle cx="920.9" cy="58.3" r="3.45"/><circle cx="923.9" cy="63.3" r="3.45"/><circle cx="932.0" cy="71.4" r="3.45"/><circle cx="935.0" cy="75.4" r="3.45"/><circle cx="939.0" cy="79.5" r="3.45"/><circle cx="907.8" cy="74.4" r="3.45"/><circle cx="906.8" cy="79.5" r="3.45"/><circle cx="904.8" cy="100.6" r="3.45"/><circle cx="800.0" cy="27.0" r="3.45"/><circle cx="795.0" cy="31.0" r="3.45"/><circle cx="782.0" cy="24.0" r="3.45"/><circle cx="778.0" cy="29.0" r="3.45"/></g>
<path d="M662.1 20.2L669.9 24.1L764.4 28.1L818.2 32.0L845.6 35.9L867.9 39.9L886.1 43.8L896.9 47.8L902.0 51.7L905.7 55.6L908.7 59.6L910.8 63.5L912.7 67.5L913.9 71.4L915.6 75.2L913.8 79.3L915.2 83.4L912.5 86.9L911.8 91.3L908.6 94.6L908.2 99.4L904.5 102.5L904.1 107.0L901.3 110.6L898.1 115.6L892.3 117.8L890.0 123.8L883.6 125.3L881.6 131.9L873.9 132.8L871.0 139.9L863.4 140.8L860.2 147.5L853.6 148.9L851.6 155.7L845.5 157.8L842.3 163.1L835.4 164.2L833.2 171.0L827.5 173.5L824.8 179.4L819.3 181.3L817.7 186.6L812.6 188.9L811.6 194.8L805.4 196.9L802.1 202.1L796.2 204.5L793.8 210.9L787.0 212.2L784.0 217.9L778.0 220.1L775.0 225.8L769.1 228.2L766.6 233.2L761.8 236.0L760.8 242.3L754.1 243.5L752.4 249.1L747.4 251.8L746.4 257.5L741.8 260.1L741.0 265.1L736.8 268.0L735.4 273.1L730.7 275.7L728.9 280.6L725.0 283.9L722.5 288.2L718.6 291.5L717.0 296.4L713.4 299.7L711.1 304.0L707.6 307.4L706.3 312.3L702.6 315.6L701.5 320.0L698.3 323.3L698.0 327.6L695.7 331.2L695.5 335.5L693.4 339.2L693.4 343.7L689.9 346.9L690.2 351.4L687.3 354.8L687.2 359.3L683.8 362.5L684.0 367.3L680.6 370.5L680.7 375.2L677.8 378.6L677.3 382.9L674.2 386.2L674.6 390.8L671.7 394.2L672.0 398.6L669.8 402.3L669.7 406.6L666.8 410.0L667.0 414.3L665.1 418.0L665.5 422.2L663.3 425.8L664.4 430.1L661.7 433.7L663.5 438.0L660.4 441.6L661.7 445.9L659.0 449.4L659.5 453.7L657.2 457.3L657.6 461.5L656.1 465.3L655.8 469.4L653.5 473.0L654.1 477.3L652.6 481.1L653.2 485.4L650.1 488.8L651.1 493.0L649.4 496.9L650.1 500.9L648.3 504.7L650.6 508.8L648.0 512.6L649.2 516.7L647.5 520.5L649.0 524.6L647.4 528.4L648.1 532.4L647.1 536.3L648.4 540.3L646.7 544.2L648.4 548.1L646.9 552.1L648.8 556.0L647.2 560.0L647.9 563.9L647.2 567.8L647.9 571.8L646.9 575.7L647.7 579.7L646.9 583.6L648.2 587.5L647.0 591.5L647.8 595.4L646.1 599.4L648.1 603.3L647.0 607.2L648.5 611.2L646.8 615.1L648.0 619.1L646.8 623.0L648.1 626.9L646.2 630.9L647.8 634.8L646.8 638.8L647.7 642.7L646.4 646.6L647.7 650.6L646.2 654.5L647.6 658.5L646.9 662.4L647.6 666.3L646.3 670.3L648.5 674.2L646.8 678.2L647.9 682.1L646.1 686.0L648.3 690.0L646.4 693.9L648.0 697.9L646.3 701.8L648.6 705.7L646.5 709.7L648.5 713.6L646.9 717.6L649.0 721.5L647.1 725.5L648.3 729.4L647.6 733.3L648.4 737.3L647.7 741.2L649.5 745.1L647.8 749.1L649.6 753.0L647.2 757.0L649.5 760.9L648.1 764.8L648.8 768.8L647.9 772.7L649.0 776.7L648.5 780.6" fill="none" stroke="#0000ff" stroke-width="2.6" stroke-linejoin="round"/>
<path d="M914.5 80.0L914.2 82.0L914.0 84.0L913.5 86.0L913.0 88.0L912.0 90.0L911.0 92.0L910.0 94.0L909.0 96.0L907.9 98.0L906.8 100.0L905.9 102.0L905.0 104.0L904.1 106.0L903.2 108.0L902.3 110.0L900.3 112.0L898.1 114.0" fill="none" stroke="#0000ff" stroke-width="12.6" stroke-linejoin="round" stroke-linecap="round"/>
<path d="M736.3 270.0L734.7 272.0L733.2 274.0L731.7 276.0L730.1 278.0L728.6 280.0L727.0 282.0L725.5 284.0L723.9 286.0L722.4 288.0L720.8 290.0L719.3 292.0L717.7 294.0L716.3 296.0L715.0 298.0L713.6 300.0L712.2 302.0L710.8 304.0L709.4 306.0L708.1 308.0L706.7 310.0L705.3 312.0L703.9 314.0L702.6 316.0L701.2 318.0L700.4 320.0L699.7 322.0L699.0 324.0L698.3 326.0L697.6 328.0L696.9 330.0L696.3 332.0L695.6 334.0L694.9 336.0L694.1 338.0L693.4 340.0L692.7 342.0L692.0 344.0L691.2 346.0L690.5 348.0L689.8 350.0L689.1 352.0L688.3 354.0L687.6 356.0L686.9 358.0L686.2 360.0L685.3 362.0L684.4 364.0L683.5 366.0L682.7 368.0L681.8 370.0L680.9 372.0L680.0 374.0L679.1 376.0L678.4 378.0L677.7 380.0L677.0 382.0L676.3 384.0L675.6 386.0L674.9 388.0L674.1 390.0L673.5 392.0L672.8 394.0L672.2 396.0L671.5 398.0L670.8 400.0L670.2 402.0L669.5 404.0L668.9 406.0L668.2 408.0L667.6 410.0L666.9 412.0L666.3 414.0L666.0 416.0L665.6 418.0L665.3 420.0L664.9 422.0L664.6 424.0L664.3 426.0L663.9 428.0L663.6 430.0L663.2 432.0L662.9 434.0L662.5 436.0L662.2 438.0L661.9 440.0L661.5 442.0L661.2 444.0L660.8 446.0L660.3 448.0L659.9 450.0L659.4 452.0L659.0 454.0L658.5 456.0L658.1 458.0L657.6 460.0L657.2 462.0L656.8 464.0L656.3 466.0L655.9 468.0L655.4 470.0L655.0 472.0L654.5 474.0L654.1 476.0L653.6 478.0L653.2 480.0L652.7 482.0L652.3 484.0L651.8 486.0L651.4 488.0L650.9 490.0L650.6 492.0L650.4 494.0L650.3 496.0L650.1 498.0L650.0 500.0L649.8 502.0L649.6 504.0L649.5 506.0L649.3 508.0L649.2 510.0L649.0 512.0L648.9 514.0L648.7 516.0L648.6 518.0L648.4 520.0L648.3 522.0L648.1 524.0L648.0 526.0L647.9 528.0L647.9 530.0L647.9 532.0L647.8 534.0L647.8 536.0L647.8 538.0L647.8 540.0L647.8 542.0L647.8 544.0L647.7 546.0L647.7 548.0L647.7 550.0L647.7 552.0L647.7 554.0L647.7 556.0L647.6 558.0L647.6 560.0L647.6 562.0L647.6 564.0L647.6 566.0L647.6 568.0L647.5 570.0L647.5 572.0L647.5 574.0L647.5 576.0L647.5 578.0L647.5 580.0L647.4 582.0L647.4 584.0L647.4 586.0L647.4 588.0L647.4 590.0L647.4 592.0L647.3 594.0L647.3 596.0L647.3 598.0L647.3 600.0L647.3 602.0L647.3 604.0L647.3 606.0L647.3 608.0L647.3 610.0L647.3 612.0L647.3 614.0L647.3 616.0L647.3 618.0L647.3 620.0L647.3 622.0L647.3 624.0L647.3 626.0L647.3 628.0L647.3 630.0L647.3 632.0L647.3 634.0L647.3 636.0L647.3 638.0L647.3 640.0L647.3 642.0L647.3 644.0L647.3 646.0L647.3 648.0L647.3 650.0L647.3 652.0L647.3 654.0L647.3 656.0L647.3 658.0L647.3 660.0L647.3 662.0L647.3 664.0L647.3 666.0L647.3 668.0L647.3 670.0L647.3 672.0L647.3 674.0L647.3 676.0L647.3 678.0L647.3 680.0L647.3 682.0L647.3 684.0L647.3 686.0L647.3 688.0L647.3 690.0L647.3 692.0L647.3 694.0L647.3 696.0L647.3 698.0L647.3 700.0L647.3 702.0L647.4 704.0L647.4 706.0L647.5 708.0L647.5 710.0L647.5 712.0L647.6 714.0L647.6 716.0L647.7 718.0L647.7 720.0L647.7 722.0L647.8 724.0L647.8 726.0L647.9 728.0L647.9 730.0L647.9 732.0L648.0 734.0L648.0 736.0L648.1 738.0L648.1 740.0L648.1 742.0L648.2 744.0L648.2 746.0L648.3 748.0L648.3 750.0L648.3 752.0L648.4 754.0L648.4 756.0L648.5 758.0L648.5 760.0L648.5 762.0L648.6 764.0L648.6 766.0L648.6 768.0L648.6 770.0L648.7 772.0L648.7 774.0L648.7 776.0L648.8 778.0L648.8 780.0" fill="none" stroke="#0000ff" stroke-width="12.6" stroke-linejoin="round" stroke-linecap="round"/>
<path d="M896.0 116.0L893.9 118.0L891.7 120.0L889.6 122.0L887.4 124.0L885.3 126.0L883.2 128.0L881.0 130.0L878.4 132.0L875.7 134.0L873.0 136.0L870.3 138.0L867.6 140.0L864.9 142.0L862.2 144.0L859.5 146.0L857.2 148.0L854.9 150.0L852.7 152.0L850.4 154.0L848.1 156.0L845.9 158.0L843.6 160.0L841.4 162.0L839.1 164.0L836.8 166.0L834.5 168.0L832.2 170.0L829.9 172.0L827.6 174.0L825.3 176.0L823.0 178.0L821.2 180.0L819.6 182.0L817.9 184.0L816.3 186.0L814.7 188.0L813.1 190.0L811.5 192.0L809.9 194.0L807.6 196.0L805.3 198.0L803.1 200.0L800.8 202.0L798.5 204.0L796.2 206.0L793.9 208.0L791.6 210.0L789.3 212.0L787.0 214.0L784.7 216.0L782.4 218.0L780.1 220.0L777.8 222.0L775.5 224.0L773.3 226.0L771.0 228.0L769.0 230.0L767.2 232.0L765.4 234.0L763.5 236.0L761.7 238.0L759.9 240.0L758.1 242.0L756.2 244.0L754.4 246.0L752.6 248.0L750.7 250.0L748.9 252.0L747.1 254.0L745.4 256.0L744.1 258.0L742.8 260.0L741.5 262.0L740.2 264.0L738.9 266.0L737.6 268.0" fill="none" stroke="#0000ff" stroke-width="14.2" stroke-linejoin="round" stroke-linecap="round"/>
<g fill="#0000ff"><circle cx="662.1" cy="20.2" r="6.08"/><circle cx="669.9" cy="24.1" r="6.08"/><circle cx="764.4" cy="28.1" r="6.08"/><circle cx="818.2" cy="32.0" r="6.08"/><circle cx="845.6" cy="35.9" r="6.08"/><circle cx="867.9" cy="39.9" r="6.08"/><circle cx="886.1" cy="43.8" r="6.08"/><circle cx="896.9" cy="47.8" r="6.08"/><circle cx="902.0" cy="51.7" r="6.08"/><circle cx="905.7" cy="55.6" r="6.08"/><circle cx="908.7" cy="59.6" r="6.08"/><circle cx="910.8" cy="63.5" r="6.08"/><circle cx="912.7" cy="67.5" r="6.08"/><circle cx="913.9" cy="71.4" r="6.08"/><circle cx="915.6" cy="75.2" r="6.08"/><circle cx="913.8" cy="79.3" r="6.08"/><circle cx="915.2" cy="83.4" r="6.08"/><circle cx="912.5" cy="86.9" r="6.08"/><circle cx="911.8" cy="91.3" r="6.08"/><circle cx="908.6" cy="94.6" r="6.08"/><circle cx="908.2" cy="99.4" r="6.08"/><circle cx="904.5" cy="102.5" r="6.08"/><circle cx="904.1" cy="107.0" r="6.08"/><circle cx="901.3" cy="110.6" r="6.08"/><circle cx="898.1" cy="115.6" r="6.08"/><circle cx="892.3" cy="117.8" r="6.08"/><circle cx="890.0" cy="123.8" r="6.08"/><circle cx="883.6" cy="125.3" r="6.08"/><circle cx="881.6" cy="131.9" r="6.08"/><circle cx="873.9" cy="132.8" r="6.08"/><circle cx="871.0" cy="139.9" r="6.08"/><circle cx="863.4" cy="140.8" r="6.08"/><circle cx="860.2" cy="147.5" r="6.08"/><circle cx="853.6" cy="148.9" r="6.08"/><circle cx="851.6" cy="155.7" r="6.08"/><circle cx="845.5" cy="157.8" r="6.08"/><circle cx="842.3" cy="163.1" r="6.08"/><circle cx="835.4" cy="164.2" r="6.08"/><circle cx="833.2" cy="171.0" r="6.08"/><circle cx="827.5" cy="173.5" r="6.08"/><circle cx="824.8" cy="179.4" r="6.08"/><circle cx="819.3" cy="181.3" r="6.08"/><circle cx="817.7" cy="186.6" r="6.08"/><circle cx="812.6" cy="188.9" r="6.08"/><circle cx="811.6" cy="194.8" r="6.08"/><circle cx="805.4" cy="196.9" r="6.08"/><circle cx="802.1" cy="202.1" r="6.08"/><circle cx="796.2" cy="204.5" r="6.08"/><circle cx="793.8" cy="210.9" r="6.08"/><circle cx="787.0" cy="212.2" r="6.08"/><circle cx="784.0" cy="217.9" r="6.08"/><circle cx="778.0" cy="220.1" r="6.08"/><circle cx="775.0" cy="225.8" r="6.08"/><circle cx="769.1" cy="228.2" r="6.08"/><circle cx="766.6" cy="233.2" r="6.08"/><circle cx="761.8" cy="236.0" r="6.08"/><circle cx="760.8" cy="242.3" r="6.08"/><circle cx="754.1" cy="243.5" r="6.08"/><circle cx="752.4" cy="249.1" r="6.08"/><circle cx="747.4" cy="251.8" r="6.08"/><circle cx="746.4" cy="257.5" r="6.08"/><circle cx="741.8" cy="260.1" r="6.08"/><circle cx="741.0" cy="265.1" r="6.08"/><circle cx="736.8" cy="268.0" r="6.08"/><circle cx="735.4" cy="273.1" r="6.08"/><circle cx="730.7" cy="275.7" r="6.08"/><circle cx="728.9" cy="280.6" r="6.08"/><circle cx="725.0" cy="283.9" r="6.08"/><circle cx="722.5" cy="288.2" r="6.08"/><circle cx="718.6" cy="291.5" r="6.08"/><circle cx="717.0" cy="296.4" r="6.08"/><circle cx="713.4" cy="299.7" r="6.08"/><circle cx="711.1" cy="304.0" r="6.08"/><circle cx="707.6" cy="307.4" r="6.08"/><circle cx="706.3" cy="312.3" r="6.08"/><circle cx="702.6" cy="315.6" r="6.08"/><circle cx="701.5" cy="320.0" r="6.08"/><circle cx="698.3" cy="323.3" r="6.08"/><circle cx="698.0" cy="327.6" r="6.08"/><circle cx="695.7" cy="331.2" r="6.08"/><circle cx="695.5" cy="335.5" r="6.08"/><circle cx="693.4" cy="339.2" r="6.08"/><circle cx="693.4" cy="343.7" r="6.08"/><circle cx="689.9" cy="346.9" r="6.08"/><circle cx="690.2" cy="351.4" r="6.08"/><circle cx="687.3" cy="354.8" r="6.08"/><circle cx="687.2" cy="359.3" r="6.08"/><circle cx="683.8" cy="362.5" r="6.08"/><circle cx="684.0" cy="367.3" r="6.08"/><circle cx="680.6" cy="370.5" r="6.08"/><circle cx="680.7" cy="375.2" r="6.08"/><circle cx="677.8" cy="378.6" r="6.08"/><circle cx="677.3" cy="382.9" r="6.08"/><circle cx="674.2" cy="386.2" r="6.08"/><circle cx="674.6" cy="390.8" r="6.08"/><circle cx="671.7" cy="394.2" r="6.08"/><circle cx="672.0" cy="398.6" r="6.08"/><circle cx="669.8" cy="402.3" r="6.08"/><circle cx="669.7" cy="406.6" r="6.08"/><circle cx="666.8" cy="410.0" r="6.08"/><circle cx="667.0" cy="414.3" r="6.08"/><circle cx="665.1" cy="418.0" r="6.08"/><circle cx="665.5" cy="422.2" r="6.08"/><circle cx="663.3" cy="425.8" r="6.08"/><circle cx="664.4" cy="430.1" r="6.08"/><circle cx="661.7" cy="433.7" r="6.08"/><circle cx="663.5" cy="438.0" r="6.08"/><circle cx="660.4" cy="441.6" r="6.08"/><circle cx="661.7" cy="445.9" r="6.08"/><circle cx="659.0" cy="449.4" r="6.08"/><circle cx="659.5" cy="453.7" r="6.08"/><circle cx="657.2" cy="457.3" r="6.08"/><circle cx="657.6" cy="461.5" r="6.08"/><circle cx="656.1" cy="465.3" r="6.08"/><circle cx="655.8" cy="469.4" r="6.08"/><circle cx="653.5" cy="473.0" r="6.08"/><circle cx="654.1" cy="477.3" r="6.08"/><circle cx="652.6" cy="481.1" r="6.08"/><circle cx="653.2" cy="485.4" r="6.08"/><circle cx="650.1" cy="488.8" r="6.08"/><circle cx="651.1" cy="493.0" r="6.08"/><circle cx="649.4" cy="496.9" r="6.08"/><circle cx="650.1" cy="500.9" r="6.08"/><circle cx="648.3" cy="504.7" r="6.08"/><circle cx="650.6" cy="508.8" r="6.08"/><circle cx="648.0" cy="512.6" r="6.08"/><circle cx="649.2" cy="516.7" r="6.08"/><circle cx="647.5" cy="520.5" r="6.08"/><circle cx="649.0" cy="524.6" r="6.08"/><circle cx="647.4" cy="528.4" r="6.08"/><circle cx="648.1" cy="532.4" r="6.08"/><circle cx="647.1" cy="536.3" r="6.08"/><circle cx="648.4" cy="540.3" r="6.08"/><circle cx="646.7" cy="544.2" r="6.08"/><circle cx="648.4" cy="548.1" r="6.08"/><circle cx="646.9" cy="552.1" r="6.08"/><circle cx="648.8" cy="556.0" r="6.08"/><circle cx="647.2" cy="560.0" r="6.08"/><circle cx="647.9" cy="563.9" r="6.08"/><circle cx="647.2" cy="567.8" r="6.08"/><circle cx="647.9" cy="571.8" r="6.08"/><circle cx="646.9" cy="575.7" r="6.08"/><circle cx="647.7" cy="579.7" r="6.08"/><circle cx="646.9" cy="583.6" r="6.08"/><circle cx="648.2" cy="587.5" r="6.08"/><circle cx="647.0" cy="591.5" r="6.08"/><circle cx="647.8" cy="595.4" r="6.08"/><circle cx="646.1" cy="599.4" r="6.08"/><circle cx="648.1" cy="603.3" r="6.08"/><circle cx="647.0" cy="607.2" r="6.08"/><circle cx="648.5" cy="611.2" r="6.08"/><circle cx="646.8" cy="615.1" r="6.08"/><circle cx="648.0" cy="619.1" r="6.08"/><circle cx="646.8" cy="623.0" r="6.08"/><circle cx="648.1" cy="626.9" r="6.08"/><circle cx="646.2" cy="630.9" r="6.08"/><circle cx="647.8" cy="634.8" r="6.08"/><circle cx="646.8" cy="638.8" r="6.08"/><circle cx="647.7" cy="642.7" r="6.08"/><circle cx="646.4" cy="646.6" r="6.08"/><circle cx="647.7" cy="650.6" r="6.08"/><circle cx="646.2" cy="654.5" r="6.08"/><circle cx="647.6" cy="658.5" r="6.08"/><circle cx="646.9" cy="662.4" r="6.08"/><circle cx="647.6" cy="666.3" r="6.08"/><circle cx="646.3" cy="670.3" r="6.08"/><circle cx="648.5" cy="674.2" r="6.08"/><circle cx="646.8" cy="678.2" r="6.08"/><circle cx="647.9" cy="682.1" r="6.08"/><circle cx="646.1" cy="686.0" r="6.08"/><circle cx="648.3" cy="690.0" r="6.08"/><circle cx="646.4" cy="693.9" r="6.08"/><circle cx="648.0" cy="697.9" r="6.08"/><circle cx="646.3" cy="701.8" r="6.08"/><circle cx="648.6" cy="705.7" r="6.08"/><circle cx="646.5" cy="709.7" r="6.08"/><circle cx="648.5" cy="713.6" r="6.08"/><circle cx="646.9" cy="717.6" r="6.08"/><circle cx="649.0" cy="721.5" r="6.08"/><circle cx="647.1" cy="725.5" r="6.08"/><circle cx="648.3" cy="729.4" r="6.08"/><circle cx="647.6" cy="733.3" r="6.08"/><circle cx="648.4" cy="737.3" r="6.08"/><circle cx="647.7" cy="741.2" r="6.08"/><circle cx="649.5" cy="745.1" r="6.08"/><circle cx="647.8" cy="749.1" r="6.08"/><circle cx="649.6" cy="753.0" r="6.08"/><circle cx="647.2" cy="757.0" r="6.08"/><circle cx="649.5" cy="760.9" r="6.08"/><circle cx="648.1" cy="764.8" r="6.08"/><circle cx="648.8" cy="768.8" r="6.08"/><circle cx="647.9" cy="772.7" r="6.08"/><circle cx="649.0" cy="776.7" r="6.08"/><circle cx="648.5" cy="780.6" r="6.08"/></g>
<path d="M847.4 19.0L847.4 20.6L847.4 22.2L847.4 23.7L847.4 25.3L847.4 26.9L847.6 28.5L848.3 30.8L854.0 34.8L865.6 38.7L876.6 42.6L885.7 46.6L891.0 50.5L895.0 54.5L898.8 58.4L908.8 66.3L923.7 74.2L929.8 82.0L928.3 89.9L925.0 97.8L902.3 117.5L864.4 137.2L826.2 176.6L783.2 216.0L743.4 255.4L705.4 294.8L681.2 334.2L659.8 413.0L646.8 491.8L644.7 570.6L646.0 649.4L647.5 728.2L648.8 807.0" fill="none" stroke="#ff0000" stroke-width="2.6" stroke-linejoin="round" stroke-linecap="square"/>
<path d="M848.8 19.0L848.8 20.6L848.8 22.2L848.8 23.7L848.8 25.3L848.8 26.9L849.0 28.5L849.7 30.8L856.0 34.8L867.6 38.7L878.6 42.6L887.7 46.6L893.0 50.5L897.0 54.5L900.8 58.4L910.8 66.3L926.1 74.2L932.2 82.0L930.7 89.9L927.0 97.8L904.3 117.5L866.8 137.2L827.2 176.6L784.8 216.0L745.2 255.4L711.4 294.8L687.6 334.2L664.2 413.0L649.2 491.8L646.7 570.6L648.0 649.4L649.5 728.2L654.0 807.0" fill="none" stroke="#ff0000" stroke-width="2.6" stroke-linejoin="round" stroke-linecap="square"/>
<path d="M847.8 19.0L847.8 20.6L847.8 22.2L847.8 23.7L847.8 25.3L847.8 26.9L847.9 28.5L848.6 30.8L854.5 34.8L866.1 38.7L877.1 42.6L886.2 46.6L891.5 50.5L895.5 54.5L899.3 58.4L909.3 66.3L924.3 74.2L930.4 82.0L928.9 89.9L925.5 97.8L902.8 117.5L865.0 137.2L826.5 176.6L783.6 216.0L743.8 255.4L706.9 294.8L682.8 334.2L660.9 413.0L647.4 491.8L645.2 570.6L646.5 649.4L648.0 728.2L650.1 807.0" fill="none" stroke="#ff0000" stroke-width="2.6" stroke-linejoin="round" stroke-linecap="square"/>
<path d="M848.5 19.0L848.5 20.6L848.5 22.2L848.5 23.7L848.5 25.3L848.5 26.9L848.6 28.5L849.4 30.8L855.5 34.8L867.1 38.7L878.1 42.6L887.2 46.6L892.5 50.5L896.5 54.5L900.3 58.4L910.3 66.3L925.5 74.2L931.6 82.0L930.1 89.9L926.5 97.8L903.8 117.5L866.2 137.2L827.0 176.6L784.4 216.0L744.8 255.4L709.9 294.8L686.0 334.2L663.1 413.0L648.6 491.8L646.2 570.6L647.5 649.4L649.0 728.2L652.7 807.0" fill="none" stroke="#ff0000" stroke-width="2.6" stroke-linejoin="round" stroke-linecap="square"/>
<path d="M848.1 19.0L848.1 20.6L848.1 22.2L848.1 23.7L848.1 25.3L848.1 26.9L848.3 28.5L849.0 30.8L855.0 34.8L866.6 38.7L877.6 42.6L886.7 46.6L892.0 50.5L896.0 54.5L899.8 58.4L909.8 66.3L924.9 74.2L931.0 82.0L929.5 89.9L926.0 97.8L903.3 117.5L865.6 137.2L826.7 176.6L784.0 216.0L744.3 255.4L708.4 294.8L684.4 334.2L662.0 413.0L648.0 491.8L645.7 570.6L647.0 649.4L648.5 728.2L651.4 807.0" fill="none" stroke="#ff0000" stroke-width="2.6" stroke-linejoin="round" stroke-linecap="square"/><g fill="#ff0000"><circle cx="848.1" cy="19.0" r="6.08"/><circle cx="848.1" cy="20.6" r="6.08"/><circle cx="848.1" cy="22.2" r="6.08"/><circle cx="848.1" cy="23.7" r="6.08"/><circle cx="848.1" cy="25.3" r="6.08"/><circle cx="848.1" cy="26.9" r="6.08"/><circle cx="848.3" cy="28.5" r="6.08"/><circle cx="849.0" cy="30.8" r="6.08"/><circle cx="855.0" cy="34.8" r="6.08"/><circle cx="866.6" cy="38.7" r="6.08"/><circle cx="877.6" cy="42.6" r="6.08"/><circle cx="886.7" cy="46.6" r="6.08"/><circle cx="892.0" cy="50.5" r="6.08"/><circle cx="896.0" cy="54.5" r="6.08"/><circle cx="899.8" cy="58.4" r="6.08"/><circle cx="909.8" cy="66.3" r="6.08"/><circle cx="924.9" cy="74.2" r="6.08"/><circle cx="931.0" cy="82.0" r="6.08"/><circle cx="929.5" cy="89.9" r="6.08"/><circle cx="926.0" cy="97.8" r="6.08"/><circle cx="903.3" cy="117.5" r="6.08"/><circle cx="865.6" cy="137.2" r="6.08"/><circle cx="826.7" cy="176.6" r="6.08"/><circle cx="784.0" cy="216.0" r="6.08"/><circle cx="744.3" cy="255.4" r="6.08"/><circle cx="708.4" cy="294.8" r="6.08"/><circle cx="684.4" cy="334.2" r="6.08"/><circle cx="662.0" cy="413.0" r="6.08"/><circle cx="648.0" cy="491.8" r="6.08"/><circle cx="645.7" cy="570.6" r="6.08"/><circle cx="647.0" cy="649.4" r="6.08"/><circle cx="648.5" cy="728.2" r="6.08"/><circle cx="651.4" cy="807.0" r="6.08"/></g>
<path d="M788.7 19.0L788.3 20.6L787.8 22.2L787.2 23.7L786.7 25.3L786.4 26.9L786.3 28.5L786.5 30.8L787.5 34.8L792.1 38.7L798.1 42.6L806.2 46.6L817.7 50.5L834.4 54.5L851.5 58.4L877.4 66.3L889.2 74.2L896.8 82.0L908.3 89.9L913.9 97.8L924.4 117.5L884.7 137.2L855.5 176.6L828.3 216.0L791.4 255.4L750.7 294.8L712.3 334.2L666.4 413.0L653.7 491.8L649.4 570.6L650.6 649.4L652.0 728.2L651.4 807.0" fill="none" stroke="#008000" stroke-width="2.6" stroke-linejoin="round" stroke-linecap="square"/><g fill="#008000"><circle cx="788.7" cy="19.0" r="6.08"/><circle cx="788.3" cy="20.6" r="6.08"/><circle cx="787.8" cy="22.2" r="6.08"/><circle cx="787.2" cy="23.7" r="6.08"/><circle cx="786.7" cy="25.3" r="6.08"/><circle cx="786.4" cy="26.9" r="6.08"/><circle cx="786.3" cy="28.5" r="6.08"/><circle cx="786.5" cy="30.8" r="6.08"/><circle cx="787.5" cy="34.8" r="6.08"/><circle cx="792.1" cy="38.7" r="6.08"/><circle cx="798.1" cy="42.6" r="6.08"/><circle cx="806.2" cy="46.6" r="6.08"/><circle cx="817.7" cy="50.5" r="6.08"/><circle cx="834.4" cy="54.5" r="6.08"/><circle cx="851.5" cy="58.4" r="6.08"/><circle cx="877.4" cy="66.3" r="6.08"/><circle cx="889.2" cy="74.2" r="6.08"/><circle cx="896.8" cy="82.0" r="6.08"/><circle cx="908.3" cy="89.9" r="6.08"/><circle cx="913.9" cy="97.8" r="6.08"/><circle cx="924.4" cy="117.5" r="6.08"/><circle cx="884.7" cy="137.2" r="6.08"/><circle cx="855.5" cy="176.6" r="6.08"/><circle cx="828.3" cy="216.0" r="6.08"/><circle cx="791.4" cy="255.4" r="6.08"/><circle cx="750.7" cy="294.8" r="6.08"/><circle cx="712.3" cy="334.2" r="6.08"/><circle cx="666.4" cy="413.0" r="6.08"/><circle cx="653.7" cy="491.8" r="6.08"/><circle cx="649.4" cy="570.6" r="6.08"/><circle cx="650.6" cy="649.4" r="6.08"/><circle cx="652.0" cy="728.2" r="6.08"/><circle cx="651.4" cy="807.0" r="6.08"/></g>
<path d="M895.5 19.4L895.5 20.2L895.5 21.1L895.5 22.0L895.5 23.0L895.5 24.1L895.5 25.2L895.5 26.5L895.5 28.0L895.5 29.6L895.5 31.5L896.5 33.6L899.0 36.0L903.8 38.9L908.0 42.2L911.0 46.1L913.0 50.8L915.0 56.3L917.0 62.9L918.5 70.9L920.4 80.3L920.4 91.8L916.4 105.5L899.8 122.0L868.6 141.8L827.3 165.7L806.7 194.3L780.5 228.6L755.8 269.7L722.5 318.6L697.4 376.7L670.7 445.4L653.4 526.1L647.7 620.5L648.5 730.0" fill="none" stroke="#ff00ff" stroke-width="2.6" stroke-linejoin="round" stroke-linecap="square"/><g fill="#ff00ff"><circle cx="895.5" cy="19.4" r="6.08"/><circle cx="895.5" cy="20.2" r="6.08"/><circle cx="895.5" cy="21.1" r="6.08"/><circle cx="895.5" cy="22.0" r="6.08"/><circle cx="895.5" cy="23.0" r="6.08"/><circle cx="895.5" cy="24.1" r="6.08"/><circle cx="895.5" cy="25.2" r="6.08"/><circle cx="895.5" cy="26.5" r="6.08"/><circle cx="895.5" cy="28.0" r="6.08"/><circle cx="895.5" cy="29.6" r="6.08"/><circle cx="895.5" cy="31.5" r="6.08"/><circle cx="896.5" cy="33.6" r="6.08"/><circle cx="899.0" cy="36.0" r="6.08"/><circle cx="903.8" cy="38.9" r="6.08"/><circle cx="908.0" cy="42.2" r="6.08"/><circle cx="911.0" cy="46.1" r="6.08"/><circle cx="913.0" cy="50.8" r="6.08"/><circle cx="915.0" cy="56.3" r="6.08"/><circle cx="917.0" cy="62.9" r="6.08"/><circle cx="918.5" cy="70.9" r="6.08"/><circle cx="920.4" cy="80.3" r="6.08"/><circle cx="920.4" cy="91.8" r="6.08"/><circle cx="916.4" cy="105.5" r="6.08"/><circle cx="899.8" cy="122.0" r="6.08"/><circle cx="868.6" cy="141.8" r="6.08"/><circle cx="827.3" cy="165.7" r="6.08"/><circle cx="806.7" cy="194.3" r="6.08"/><circle cx="780.5" cy="228.6" r="6.08"/><circle cx="755.8" cy="269.7" r="6.08"/><circle cx="722.5" cy="318.6" r="6.08"/><circle cx="697.4" cy="376.7" r="6.08"/><circle cx="670.7" cy="445.4" r="6.08"/><circle cx="653.4" cy="526.1" r="6.08"/><circle cx="647.7" cy="620.5" r="6.08"/><circle cx="648.5" cy="730.0" r="6.08"/></g>
</g>
<path d="M583.50 814.50v6.08" stroke="#000" stroke-width="1.39" fill="none"/>
<path d="M661.50 814.50v6.08" stroke="#000" stroke-width="1.39" fill="none"/>
<path d="M739.50 814.50v6.08" stroke="#000" stroke-width="1.39" fill="none"/>
<path d="M818.50 814.50v6.08" stroke="#000" stroke-width="1.39" fill="none"/>
<path d="M896.50 814.50v6.08" stroke="#000" stroke-width="1.39" fill="none"/>
<path d="M974.50 814.50v6.08" stroke="#000" stroke-width="1.39" fill="none"/>
<path d="M583.50 19.50h-6.08" stroke="#000" stroke-width="1.39" fill="none"/>
<path d="M583.50 97.50h-6.08" stroke="#000" stroke-width="1.39" fill="none"/>
<path d="M583.50 176.50h-6.08" stroke="#000" stroke-width="1.39" fill="none"/>
<path d="M583.50 255.50h-6.08" stroke="#000" stroke-width="1.39" fill="none"/>
<path d="M583.50 334.50h-6.08" stroke="#000" stroke-width="1.39" fill="none"/>
<path d="M583.50 413.50h-6.08" stroke="#000" stroke-width="1.39" fill="none"/>
<path d="M583.50 491.50h-6.08" stroke="#000" stroke-width="1.39" fill="none"/>
<path d="M583.50 570.50h-6.08" stroke="#000" stroke-width="1.39" fill="none"/>
<path d="M583.50 649.50h-6.08" stroke="#000" stroke-width="1.39" fill="none"/>
<path d="M583.50 728.50h-6.08" stroke="#000" stroke-width="1.39" fill="none"/>
<path d="M583.50 807.50h-6.08" stroke="#000" stroke-width="1.39" fill="none"/>
<rect x="583.50" y="19.50" width="394.00" height="795.00" fill="none" stroke="#000" stroke-width="1.39"/>
<text x="582.80" y="842.00" text-anchor="middle" font-size="17.36">34.5</text>
<text x="660.80" y="842.00" text-anchor="middle" font-size="17.36">35.0</text>
<text x="738.80" y="842.00" text-anchor="middle" font-size="17.36">35.5</text>
<text x="817.80" y="842.00" text-anchor="middle" font-size="17.36">36.0</text>
<text x="895.80" y="842.00" text-anchor="middle" font-size="17.36">36.5</text>
<text x="973.80" y="842.00" text-anchor="middle" font-size="17.36">37.0</text>
</g>
<g id="ax2">
<path d="M1087.50 814.50V19.50" stroke="#b0b0b0" stroke-width="0.87" stroke-dasharray="3.2,1.39" fill="none"/>
<path d="M1156.50 814.50V19.50" stroke="#b0b0b0" stroke-width="0.87" stroke-dasharray="3.2,1.39" fill="none"/>
<path d="M1226.50 814.50V19.50" stroke="#b0b0b0" stroke-width="0.87" stroke-dasharray="3.2,1.39" fill="none"/>
<path d="M1296.50 814.50V19.50" stroke="#b0b0b0" stroke-width="0.87" stroke-dasharray="3.2,1.39" fill="none"/>
<path d="M1365.50 814.50V19.50" stroke="#b0b0b0" stroke-width="0.87" stroke-dasharray="3.2,1.39" fill="none"/>
<path d="M1435.50 814.50V19.50" stroke="#b0b0b0" stroke-width="0.87" stroke-dasharray="3.2,1.39" fill="none"/>
<path d="M1067.50 19.50H1461.50" stroke="#b0b0b0" stroke-width="0.87" stroke-dasharray="3.2,1.39" fill="none"/>
<path d="M1067.50 97.50H1461.50" stroke="#b0b0b0" stroke-width="0.87" stroke-dasharray="3.2,1.39" fill="none"/>
<path d="M1067.50 176.50H1461.50" stroke="#b0b0b0" stroke-width="0.87" stroke-dasharray="3.2,1.39" fill="none"/>
<path d="M1067.50 255.50H1461.50" stroke="#b0b0b0" stroke-width="0.87" stroke-dasharray="3.2,1.39" fill="none"/>
<path d="M1067.50 334.50H1461.50" stroke="#b0b0b0" stroke-width="0.87" stroke-dasharray="3.2,1.39" fill="none"/>
<path d="M1067.50 413.50H1461.50" stroke="#b0b0b0" stroke-width="0.87" stroke-dasharray="3.2,1.39" fill="none"/>
<path d="M1067.50 491.50H1461.50" stroke="#b0b0b0" stroke-width="0.87" stroke-dasharray="3.2,1.39" fill="none"/>
<path d="M1067.50 570.50H1461.50" stroke="#b0b0b0" stroke-width="0.87" stroke-dasharray="3.2,1.39" fill="none"/>
<path d="M1067.50 649.50H1461.50" stroke="#b0b0b0" stroke-width="0.87" stroke-dasharray="3.2,1.39" fill="none"/>
<path d="M1067.50 728.50H1461.50" stroke="#b0b0b0" stroke-width="0.87" stroke-dasharray="3.2,1.39" fill="none"/>
<path d="M1067.50 807.50H1461.50" stroke="#b0b0b0" stroke-width="0.87" stroke-dasharray="3.2,1.39" fill="none"/>
<g clip-path="url(#c2)">
<g fill="#00ffff"><circle cx="1086.1" cy="18.4" r="3.45"/><circle cx="1086.0" cy="19.8" r="3.45"/><circle cx="1086.6" cy="22.0" r="3.45"/><circle cx="1094.0" cy="21.8" r="3.45"/><circle cx="1086.1" cy="24.6" r="3.45"/><circle cx="1094.6" cy="23.5" r="3.45"/><circle cx="1090.7" cy="25.9" r="3.45"/><circle cx="1098.6" cy="26.0" r="3.45"/><circle cx="1094.9" cy="26.2" r="3.45"/><circle cx="1104.2" cy="26.5" r="3.45"/><circle cx="1099.6" cy="28.4" r="3.45"/><circle cx="1108.7" cy="29.3" r="3.45"/><circle cx="1104.0" cy="30.4" r="3.45"/><circle cx="1112.6" cy="30.7" r="3.45"/><circle cx="1108.0" cy="32.2" r="3.45"/><circle cx="1116.8" cy="31.5" r="3.45"/><circle cx="1114.2" cy="34.0" r="3.45"/><circle cx="1123.4" cy="33.6" r="3.45"/><circle cx="1120.9" cy="35.5" r="3.45"/><circle cx="1130.1" cy="35.7" r="3.45"/><circle cx="1127.0" cy="37.3" r="3.45"/><circle cx="1136.2" cy="36.3" r="3.45"/><circle cx="1132.9" cy="37.7" r="3.45"/><circle cx="1141.3" cy="38.3" r="3.45"/><circle cx="1137.4" cy="39.4" r="3.45"/><circle cx="1147.3" cy="39.2" r="3.45"/><circle cx="1143.0" cy="40.9" r="3.45"/><circle cx="1152.5" cy="42.0" r="3.45"/><circle cx="1147.4" cy="43.4" r="3.45"/><circle cx="1156.1" cy="43.7" r="3.45"/><circle cx="1151.2" cy="44.2" r="3.45"/><circle cx="1160.5" cy="43.9" r="3.45"/><circle cx="1155.0" cy="46.8" r="3.45"/><circle cx="1164.5" cy="46.1" r="3.45"/><circle cx="1158.9" cy="48.5" r="3.45"/><circle cx="1167.7" cy="47.1" r="3.45"/><circle cx="1163.2" cy="49.5" r="3.45"/><circle cx="1171.7" cy="49.4" r="3.45"/><circle cx="1167.5" cy="50.6" r="3.45"/><circle cx="1175.8" cy="50.2" r="3.45"/><circle cx="1171.1" cy="51.9" r="3.45"/><circle cx="1179.6" cy="53.1" r="3.45"/><circle cx="1175.6" cy="53.7" r="3.45"/><circle cx="1183.1" cy="54.7" r="3.45"/><circle cx="1179.7" cy="56.3" r="3.45"/><circle cx="1186.9" cy="56.1" r="3.45"/><circle cx="1183.5" cy="57.1" r="3.45"/><circle cx="1191.1" cy="57.6" r="3.45"/><circle cx="1194.3" cy="59.2" r="3.45"/><circle cx="1198.5" cy="60.8" r="3.45"/><circle cx="1202.6" cy="62.5" r="3.45"/><circle cx="1205.6" cy="63.2" r="3.45"/><circle cx="1208.8" cy="65.6" r="3.45"/><circle cx="1212.4" cy="67.2" r="3.45"/><circle cx="1214.7" cy="68.0" r="3.45"/><circle cx="1216.6" cy="70.3" r="3.45"/><circle cx="1218.5" cy="72.2" r="3.45"/><circle cx="1220.8" cy="72.9" r="3.45"/><circle cx="1222.4" cy="75.3" r="3.45"/><circle cx="1224.3" cy="76.7" r="3.45"/><circle cx="1226.4" cy="78.3" r="3.45"/><circle cx="1228.6" cy="79.5" r="3.45"/><circle cx="1230.9" cy="81.9" r="3.45"/><circle cx="1232.5" cy="83.8" r="3.45"/><circle cx="1233.8" cy="84.0" r="3.45"/><circle cx="1235.1" cy="86.0" r="3.45"/><circle cx="1237.6" cy="87.2" r="3.45"/><circle cx="1239.5" cy="89.8" r="3.45"/><circle cx="1241.1" cy="91.1" r="3.45"/><circle cx="1242.3" cy="91.9" r="3.45"/><circle cx="1244.4" cy="94.7" r="3.45"/><circle cx="1245.8" cy="96.2" r="3.45"/><circle cx="1246.9" cy="97.4" r="3.45"/><circle cx="1248.2" cy="99.5" r="3.45"/><circle cx="1249.4" cy="99.9" r="3.45"/><circle cx="1250.4" cy="102.9" r="3.45"/><circle cx="1250.7" cy="104.0" r="3.45"/><circle cx="1251.5" cy="105.2" r="3.45"/><circle cx="1252.8" cy="107.2" r="3.45"/><circle cx="1253.3" cy="108.3" r="3.45"/><circle cx="1254.2" cy="110.2" r="3.45"/><circle cx="1254.2" cy="112.1" r="3.45"/><circle cx="1255.4" cy="114.2" r="3.45"/><circle cx="1255.9" cy="115.4" r="3.45"/><circle cx="1257.2" cy="116.4" r="3.45"/><circle cx="1257.8" cy="118.0" r="3.45"/><circle cx="1258.5" cy="119.8" r="3.45"/><circle cx="1253.0" cy="122.0" r="3.45"/><circle cx="1259.6" cy="121.5" r="3.45"/><circle cx="1254.1" cy="123.1" r="3.45"/><circle cx="1260.4" cy="123.5" r="3.45"/><circle cx="1255.5" cy="124.4" r="3.45"/><circle cx="1261.6" cy="124.0" r="3.45"/><circle cx="1256.6" cy="125.7" r="3.45"/><circle cx="1261.9" cy="126.5" r="3.45"/><circle cx="1257.2" cy="127.0" r="3.45"/><circle cx="1262.7" cy="128.5" r="3.45"/><circle cx="1258.2" cy="129.8" r="3.45"/><circle cx="1263.8" cy="130.1" r="3.45"/><circle cx="1258.8" cy="131.0" r="3.45"/><circle cx="1264.7" cy="131.7" r="3.45"/><circle cx="1259.7" cy="132.9" r="3.45"/><circle cx="1266.3" cy="132.7" r="3.45"/><circle cx="1260.4" cy="133.6" r="3.45"/><circle cx="1266.3" cy="134.0" r="3.45"/><circle cx="1261.5" cy="135.4" r="3.45"/><circle cx="1267.5" cy="135.6" r="3.45"/><circle cx="1262.3" cy="137.2" r="3.45"/><circle cx="1267.6" cy="137.7" r="3.45"/><circle cx="1262.4" cy="138.4" r="3.45"/><circle cx="1268.0" cy="139.6" r="3.45"/><circle cx="1262.7" cy="139.9" r="3.45"/><circle cx="1268.9" cy="141.4" r="3.45"/><circle cx="1263.8" cy="141.6" r="3.45"/><circle cx="1270.0" cy="142.6" r="3.45"/><circle cx="1264.3" cy="144.3" r="3.45"/><circle cx="1269.7" cy="144.1" r="3.45"/><circle cx="1265.2" cy="145.2" r="3.45"/><circle cx="1270.3" cy="145.2" r="3.45"/><circle cx="1265.6" cy="146.6" r="3.45"/><circle cx="1271.1" cy="147.5" r="3.45"/><circle cx="1265.4" cy="149.2" r="3.45"/><circle cx="1271.4" cy="148.5" r="3.45"/><circle cx="1266.8" cy="149.9" r="3.45"/><circle cx="1272.2" cy="149.8" r="3.45"/><circle cx="1267.3" cy="151.8" r="3.45"/><circle cx="1272.6" cy="151.3" r="3.45"/><circle cx="1267.5" cy="153.6" r="3.45"/><circle cx="1273.6" cy="152.8" r="3.45"/><circle cx="1268.1" cy="154.5" r="3.45"/><circle cx="1273.7" cy="155.3" r="3.45"/><circle cx="1268.4" cy="156.0" r="3.45"/><circle cx="1275.0" cy="156.3" r="3.45"/><circle cx="1269.5" cy="158.3" r="3.45"/><circle cx="1274.9" cy="157.4" r="3.45"/><circle cx="1270.0" cy="160.3" r="3.45"/><circle cx="1275.7" cy="160.2" r="3.45"/><circle cx="1271.2" cy="160.8" r="3.45"/><circle cx="1276.3" cy="161.3" r="3.45"/><circle cx="1271.7" cy="163.1" r="3.45"/><circle cx="1276.9" cy="163.7" r="3.45"/><circle cx="1271.7" cy="164.2" r="3.45"/><circle cx="1277.9" cy="164.1" r="3.45"/><circle cx="1273.1" cy="166.4" r="3.45"/><circle cx="1278.9" cy="166.0" r="3.45"/><circle cx="1273.4" cy="167.9" r="3.45"/><circle cx="1279.3" cy="168.2" r="3.45"/><circle cx="1274.1" cy="168.9" r="3.45"/><circle cx="1279.9" cy="169.5" r="3.45"/><circle cx="1274.5" cy="171.3" r="3.45"/><circle cx="1280.6" cy="171.2" r="3.45"/><circle cx="1275.2" cy="172.9" r="3.45"/><circle cx="1281.1" cy="172.0" r="3.45"/><circle cx="1276.1" cy="174.2" r="3.45"/><circle cx="1281.7" cy="174.7" r="3.45"/><circle cx="1276.6" cy="176.3" r="3.45"/><circle cx="1282.3" cy="176.4" r="3.45"/><circle cx="1277.7" cy="177.2" r="3.45"/><circle cx="1283.1" cy="177.3" r="3.45"/><circle cx="1278.2" cy="179.7" r="3.45"/><circle cx="1283.8" cy="179.5" r="3.45"/><circle cx="1278.6" cy="180.5" r="3.45"/><circle cx="1284.8" cy="180.6" r="3.45"/><circle cx="1280.0" cy="182.1" r="3.45"/><circle cx="1285.3" cy="182.6" r="3.45"/><circle cx="1280.7" cy="184.5" r="3.45"/><circle cx="1286.0" cy="183.5" r="3.45"/><circle cx="1280.9" cy="185.1" r="3.45"/><circle cx="1286.8" cy="186.0" r="3.45"/><circle cx="1281.7" cy="187.6" r="3.45"/><circle cx="1287.6" cy="186.2" r="3.45"/><circle cx="1283.1" cy="188.4" r="3.45"/><circle cx="1288.8" cy="189.2" r="3.45"/><circle cx="1283.7" cy="189.9" r="3.45"/><circle cx="1289.3" cy="189.8" r="3.45"/><circle cx="1284.8" cy="191.9" r="3.45"/><circle cx="1290.3" cy="191.5" r="3.45"/><circle cx="1285.5" cy="193.1" r="3.45"/><circle cx="1290.5" cy="193.1" r="3.45"/><circle cx="1285.5" cy="195.2" r="3.45"/><circle cx="1291.4" cy="194.5" r="3.45"/><circle cx="1286.7" cy="197.4" r="3.45"/><circle cx="1291.7" cy="196.2" r="3.45"/><circle cx="1287.3" cy="198.0" r="3.45"/><circle cx="1292.5" cy="197.5" r="3.45"/><circle cx="1287.0" cy="200.1" r="3.45"/><circle cx="1293.4" cy="199.4" r="3.45"/><circle cx="1288.2" cy="201.2" r="3.45"/><circle cx="1293.8" cy="201.0" r="3.45"/><circle cx="1288.5" cy="203.3" r="3.45"/><circle cx="1293.7" cy="203.2" r="3.45"/><circle cx="1288.8" cy="204.9" r="3.45"/><circle cx="1294.2" cy="204.4" r="3.45"/><circle cx="1289.8" cy="206.6" r="3.45"/><circle cx="1295.3" cy="206.3" r="3.45"/><circle cx="1290.1" cy="207.2" r="3.45"/><circle cx="1295.2" cy="208.3" r="3.45"/><circle cx="1290.5" cy="209.4" r="3.45"/><circle cx="1295.9" cy="209.0" r="3.45"/><circle cx="1291.2" cy="211.3" r="3.45"/><circle cx="1296.6" cy="211.8" r="3.45"/><circle cx="1291.5" cy="212.3" r="3.45"/><circle cx="1297.1" cy="212.4" r="3.45"/><circle cx="1291.8" cy="213.6" r="3.45"/><circle cx="1297.6" cy="214.0" r="3.45"/><circle cx="1291.9" cy="215.8" r="3.45"/><circle cx="1297.5" cy="215.1" r="3.45"/><circle cx="1293.0" cy="217.8" r="3.45"/><circle cx="1298.5" cy="218.2" r="3.45"/><circle cx="1293.4" cy="219.3" r="3.45"/><circle cx="1298.4" cy="218.4" r="3.45"/><circle cx="1294.1" cy="221.1" r="3.45"/><circle cx="1299.7" cy="220.2" r="3.45"/><circle cx="1294.6" cy="221.8" r="3.45"/><circle cx="1300.2" cy="222.8" r="3.45"/><circle cx="1295.0" cy="223.7" r="3.45"/><circle cx="1300.1" cy="224.5" r="3.45"/><circle cx="1295.5" cy="224.7" r="3.45"/><circle cx="1300.3" cy="225.0" r="3.45"/><circle cx="1295.8" cy="227.8" r="3.45"/><circle cx="1301.3" cy="226.2" r="3.45"/><circle cx="1296.7" cy="228.2" r="3.45"/><circle cx="1301.9" cy="228.0" r="3.45"/><circle cx="1296.3" cy="230.8" r="3.45"/><circle cx="1302.6" cy="230.3" r="3.45"/><circle cx="1296.8" cy="232.0" r="3.45"/><circle cx="1303.0" cy="231.4" r="3.45"/><circle cx="1297.8" cy="233.6" r="3.45"/><circle cx="1303.6" cy="232.7" r="3.45"/><circle cx="1298.6" cy="235.0" r="3.45"/><circle cx="1303.8" cy="234.7" r="3.45"/><circle cx="1298.4" cy="236.2" r="3.45"/><circle cx="1303.9" cy="235.9" r="3.45"/><circle cx="1299.2" cy="237.6" r="3.45"/><circle cx="1304.3" cy="237.6" r="3.45"/><circle cx="1299.4" cy="240.3" r="3.45"/><circle cx="1305.5" cy="239.1" r="3.45"/><circle cx="1300.4" cy="241.1" r="3.45"/><circle cx="1306.1" cy="240.7" r="3.45"/><circle cx="1300.4" cy="242.7" r="3.45"/><circle cx="1306.5" cy="242.6" r="3.45"/><circle cx="1301.1" cy="243.9" r="3.45"/><circle cx="1306.8" cy="244.0" r="3.45"/><circle cx="1301.9" cy="246.3" r="3.45"/><circle cx="1307.2" cy="246.3" r="3.45"/><circle cx="1301.8" cy="248.0" r="3.45"/><circle cx="1307.6" cy="248.2" r="3.45"/><circle cx="1302.6" cy="249.6" r="3.45"/><circle cx="1307.7" cy="249.1" r="3.45"/><circle cx="1303.2" cy="251.5" r="3.45"/><circle cx="1308.7" cy="251.2" r="3.45"/><circle cx="1303.6" cy="251.9" r="3.45"/><circle cx="1309.1" cy="252.7" r="3.45"/><circle cx="1303.8" cy="253.4" r="3.45"/><circle cx="1309.9" cy="254.0" r="3.45"/><circle cx="1305.0" cy="255.2" r="3.45"/><circle cx="1310.4" cy="256.0" r="3.45"/><circle cx="1305.1" cy="257.7" r="3.45"/><circle cx="1310.3" cy="257.4" r="3.45"/><circle cx="1306.1" cy="258.2" r="3.45"/><circle cx="1311.1" cy="259.1" r="3.45"/><circle cx="1306.0" cy="261.2" r="3.45"/><circle cx="1311.9" cy="260.3" r="3.45"/><circle cx="1306.3" cy="262.4" r="3.45"/><circle cx="1311.9" cy="262.5" r="3.45"/><circle cx="1307.0" cy="263.4" r="3.45"/><circle cx="1313.0" cy="264.0" r="3.45"/><circle cx="1307.7" cy="265.2" r="3.45"/><circle cx="1313.1" cy="265.7" r="3.45"/><circle cx="1308.1" cy="267.1" r="3.45"/><circle cx="1313.7" cy="266.2" r="3.45"/><circle cx="1308.2" cy="268.8" r="3.45"/><circle cx="1313.7" cy="269.2" r="3.45"/><circle cx="1309.0" cy="269.4" r="3.45"/><circle cx="1314.0" cy="270.2" r="3.45"/><circle cx="1309.2" cy="271.9" r="3.45"/><circle cx="1314.7" cy="271.7" r="3.45"/><circle cx="1310.3" cy="273.0" r="3.45"/><circle cx="1315.3" cy="273.5" r="3.45"/><circle cx="1310.6" cy="275.3" r="3.45"/><circle cx="1315.8" cy="274.9" r="3.45"/><circle cx="1310.5" cy="275.9" r="3.45"/><circle cx="1316.5" cy="276.3" r="3.45"/><circle cx="1310.8" cy="277.8" r="3.45"/><circle cx="1316.5" cy="278.7" r="3.45"/><circle cx="1311.6" cy="280.4" r="3.45"/><circle cx="1316.9" cy="280.0" r="3.45"/><circle cx="1311.9" cy="281.7" r="3.45"/><circle cx="1317.1" cy="281.9" r="3.45"/><circle cx="1312.2" cy="283.5" r="3.45"/><circle cx="1317.8" cy="282.7" r="3.45"/><circle cx="1312.6" cy="284.6" r="3.45"/><circle cx="1318.3" cy="284.7" r="3.45"/><circle cx="1313.0" cy="286.0" r="3.45"/><circle cx="1318.1" cy="285.7" r="3.45"/><circle cx="1313.9" cy="288.4" r="3.45"/><circle cx="1318.7" cy="287.8" r="3.45"/><circle cx="1314.2" cy="289.1" r="3.45"/><circle cx="1319.3" cy="289.5" r="3.45"/><circle cx="1314.5" cy="290.5" r="3.45"/><circle cx="1319.3" cy="291.2" r="3.45"/><circle cx="1314.4" cy="292.6" r="3.45"/><circle cx="1319.8" cy="292.9" r="3.45"/><circle cx="1315.5" cy="293.7" r="3.45"/><circle cx="1320.4" cy="294.3" r="3.45"/><circle cx="1315.9" cy="295.9" r="3.45"/><circle cx="1321.3" cy="295.1" r="3.45"/><circle cx="1316.1" cy="297.8" r="3.45"/><circle cx="1321.8" cy="298.0" r="3.45"/><circle cx="1316.7" cy="298.9" r="3.45"/><circle cx="1321.5" cy="299.6" r="3.45"/><circle cx="1317.3" cy="299.9" r="3.45"/><circle cx="1322.3" cy="301.2" r="3.45"/><circle cx="1317.2" cy="302.4" r="3.45"/><circle cx="1322.7" cy="301.5" r="3.45"/><circle cx="1318.0" cy="303.0" r="3.45"/><circle cx="1322.6" cy="303.4" r="3.45"/><circle cx="1318.0" cy="304.7" r="3.45"/><circle cx="1323.0" cy="305.5" r="3.45"/><circle cx="1318.2" cy="307.7" r="3.45"/><circle cx="1324.2" cy="306.6" r="3.45"/><circle cx="1319.4" cy="309.3" r="3.45"/><circle cx="1324.3" cy="308.6" r="3.45"/><circle cx="1319.4" cy="309.6" r="3.45"/><circle cx="1324.5" cy="310.3" r="3.45"/><circle cx="1320.1" cy="311.4" r="3.45"/><circle cx="1324.9" cy="311.6" r="3.45"/><circle cx="1319.7" cy="312.9" r="3.45"/><circle cx="1325.7" cy="314.2" r="3.45"/><circle cx="1320.4" cy="314.8" r="3.45"/><circle cx="1326.1" cy="314.4" r="3.45"/><circle cx="1321.4" cy="316.8" r="3.45"/><circle cx="1326.1" cy="316.9" r="3.45"/><circle cx="1321.8" cy="317.5" r="3.45"/><circle cx="1326.7" cy="318.3" r="3.45"/><circle cx="1321.6" cy="319.4" r="3.45"/><circle cx="1326.6" cy="319.5" r="3.45"/><circle cx="1322.0" cy="320.8" r="3.45"/><circle cx="1327.0" cy="321.2" r="3.45"/><circle cx="1322.8" cy="322.4" r="3.45"/><circle cx="1328.3" cy="322.5" r="3.45"/><circle cx="1322.7" cy="325.0" r="3.45"/><circle cx="1328.0" cy="323.9" r="3.45"/><circle cx="1323.9" cy="326.8" r="3.45"/><circle cx="1328.7" cy="327.0" r="3.45"/><circle cx="1323.4" cy="327.3" r="3.45"/><circle cx="1329.2" cy="328.3" r="3.45"/><circle cx="1323.8" cy="328.9" r="3.45"/><circle cx="1329.3" cy="330.0" r="3.45"/><circle cx="1325.0" cy="330.4" r="3.45"/><circle cx="1330.1" cy="330.8" r="3.45"/><circle cx="1324.8" cy="333.4" r="3.45"/><circle cx="1330.2" cy="332.1" r="3.45"/><circle cx="1325.4" cy="334.5" r="3.45"/><circle cx="1330.2" cy="334.6" r="3.45"/><circle cx="1325.7" cy="335.3" r="3.45"/><circle cx="1331.2" cy="335.4" r="3.45"/><circle cx="1325.9" cy="338.0" r="3.45"/><circle cx="1330.9" cy="337.4" r="3.45"/><circle cx="1326.1" cy="338.7" r="3.45"/><circle cx="1332.1" cy="339.6" r="3.45"/><circle cx="1327.4" cy="340.7" r="3.45"/><circle cx="1332.0" cy="341.4" r="3.45"/><circle cx="1327.7" cy="342.0" r="3.45"/><circle cx="1332.4" cy="341.5" r="3.45"/><circle cx="1327.3" cy="343.8" r="3.45"/><circle cx="1333.0" cy="343.8" r="3.45"/><circle cx="1328.1" cy="344.9" r="3.45"/><circle cx="1333.1" cy="345.1" r="3.45"/><circle cx="1328.5" cy="347.3" r="3.45"/><circle cx="1334.1" cy="346.9" r="3.45"/><circle cx="1328.8" cy="348.8" r="3.45"/><circle cx="1334.1" cy="349.1" r="3.45"/><circle cx="1328.8" cy="350.2" r="3.45"/><circle cx="1334.6" cy="350.8" r="3.45"/><circle cx="1329.6" cy="352.6" r="3.45"/><circle cx="1334.4" cy="352.1" r="3.45"/><circle cx="1330.3" cy="354.1" r="3.45"/><circle cx="1335.0" cy="352.7" r="3.45"/><circle cx="1330.8" cy="355.6" r="3.45"/><circle cx="1335.3" cy="355.7" r="3.45"/><circle cx="1330.6" cy="356.9" r="3.45"/><circle cx="1335.8" cy="356.2" r="3.45"/><circle cx="1331.6" cy="358.9" r="3.45"/><circle cx="1336.7" cy="357.5" r="3.45"/><circle cx="1331.7" cy="360.1" r="3.45"/><circle cx="1336.4" cy="359.6" r="3.45"/><circle cx="1332.5" cy="362.0" r="3.45"/><circle cx="1337.3" cy="361.6" r="3.45"/><circle cx="1332.6" cy="363.7" r="3.45"/><circle cx="1337.9" cy="362.9" r="3.45"/><circle cx="1332.7" cy="365.0" r="3.45"/><circle cx="1337.6" cy="364.2" r="3.45"/><circle cx="1333.1" cy="366.1" r="3.45"/><circle cx="1338.9" cy="366.6" r="3.45"/><circle cx="1333.4" cy="368.6" r="3.45"/><circle cx="1338.6" cy="367.6" r="3.45"/><circle cx="1333.7" cy="369.6" r="3.45"/><circle cx="1339.3" cy="369.4" r="3.45"/><circle cx="1334.7" cy="370.4" r="3.45"/><circle cx="1339.6" cy="371.3" r="3.45"/><circle cx="1334.9" cy="373.4" r="3.45"/><circle cx="1339.6" cy="371.9" r="3.45"/><circle cx="1335.5" cy="373.9" r="3.45"/><circle cx="1340.0" cy="374.4" r="3.45"/><circle cx="1335.9" cy="375.4" r="3.45"/><circle cx="1340.7" cy="375.2" r="3.45"/><circle cx="1336.3" cy="377.2" r="3.45"/><circle cx="1341.3" cy="376.7" r="3.45"/><circle cx="1336.6" cy="378.9" r="3.45"/><circle cx="1341.6" cy="379.0" r="3.45"/><circle cx="1336.7" cy="380.7" r="3.45"/><circle cx="1341.7" cy="381.0" r="3.45"/><circle cx="1336.9" cy="382.2" r="3.45"/><circle cx="1342.7" cy="382.4" r="3.45"/><circle cx="1337.3" cy="383.3" r="3.45"/><circle cx="1342.4" cy="384.1" r="3.45"/><circle cx="1338.4" cy="386.0" r="3.45"/><circle cx="1343.0" cy="386.0" r="3.45"/><circle cx="1338.4" cy="387.2" r="3.45"/><circle cx="1344.0" cy="387.1" r="3.45"/><circle cx="1338.6" cy="388.9" r="3.45"/><circle cx="1344.3" cy="387.9" r="3.45"/><circle cx="1338.9" cy="390.3" r="3.45"/><circle cx="1343.9" cy="390.6" r="3.45"/><circle cx="1339.2" cy="391.8" r="3.45"/><circle cx="1344.4" cy="392.1" r="3.45"/><circle cx="1339.5" cy="392.9" r="3.45"/><circle cx="1344.8" cy="393.4" r="3.45"/><circle cx="1340.3" cy="394.3" r="3.45"/><circle cx="1345.5" cy="395.8" r="3.45"/><circle cx="1340.5" cy="397.0" r="3.45"/><circle cx="1345.9" cy="397.3" r="3.45"/><circle cx="1340.7" cy="397.5" r="3.45"/><circle cx="1346.2" cy="397.5" r="3.45"/><circle cx="1341.6" cy="400.2" r="3.45"/><circle cx="1346.5" cy="400.3" r="3.45"/><circle cx="1342.3" cy="401.7" r="3.45"/><circle cx="1347.5" cy="401.9" r="3.45"/><circle cx="1342.8" cy="403.5" r="3.45"/><circle cx="1347.5" cy="403.5" r="3.45"/><circle cx="1342.3" cy="405.0" r="3.45"/><circle cx="1348.5" cy="403.9" r="3.45"/><circle cx="1342.7" cy="405.8" r="3.45"/><circle cx="1348.0" cy="406.4" r="3.45"/><circle cx="1344.0" cy="407.9" r="3.45"/><circle cx="1348.6" cy="407.4" r="3.45"/><circle cx="1344.0" cy="409.9" r="3.45"/><circle cx="1348.8" cy="410.1" r="3.45"/><circle cx="1344.1" cy="410.6" r="3.45"/><circle cx="1350.0" cy="410.7" r="3.45"/><circle cx="1344.8" cy="412.8" r="3.45"/><circle cx="1349.9" cy="412.1" r="3.45"/><circle cx="1345.1" cy="414.4" r="3.45"/><circle cx="1350.3" cy="413.8" r="3.45"/><circle cx="1345.9" cy="416.6" r="3.45"/><circle cx="1350.8" cy="415.9" r="3.45"/><circle cx="1345.8" cy="417.3" r="3.45"/><circle cx="1351.6" cy="417.5" r="3.45"/><circle cx="1346.7" cy="419.6" r="3.45"/><circle cx="1351.3" cy="419.8" r="3.45"/><circle cx="1346.5" cy="419.9" r="3.45"/><circle cx="1351.8" cy="420.8" r="3.45"/><circle cx="1347.2" cy="421.9" r="3.45"/><circle cx="1352.2" cy="422.9" r="3.45"/><circle cx="1347.2" cy="424.5" r="3.45"/><circle cx="1352.6" cy="423.4" r="3.45"/><circle cx="1348.4" cy="425.7" r="3.45"/><circle cx="1352.9" cy="425.4" r="3.45"/><circle cx="1348.7" cy="427.7" r="3.45"/><circle cx="1353.3" cy="427.6" r="3.45"/><circle cx="1349.0" cy="429.2" r="3.45"/><circle cx="1354.1" cy="428.9" r="3.45"/><circle cx="1348.8" cy="429.8" r="3.45"/><circle cx="1354.3" cy="430.0" r="3.45"/><circle cx="1350.0" cy="432.0" r="3.45"/><circle cx="1354.5" cy="431.5" r="3.45"/><circle cx="1350.3" cy="433.5" r="3.45"/><circle cx="1355.6" cy="433.8" r="3.45"/><circle cx="1350.6" cy="434.5" r="3.45"/><circle cx="1355.9" cy="434.7" r="3.45"/><circle cx="1351.4" cy="437.0" r="3.45"/><circle cx="1356.0" cy="436.9" r="3.45"/><circle cx="1350.8" cy="437.4" r="3.45"/><circle cx="1356.5" cy="437.5" r="3.45"/><circle cx="1351.7" cy="440.0" r="3.45"/><circle cx="1357.1" cy="440.5" r="3.45"/><circle cx="1351.9" cy="442.1" r="3.45"/><circle cx="1357.3" cy="440.9" r="3.45"/><circle cx="1352.5" cy="443.5" r="3.45"/><circle cx="1357.9" cy="442.8" r="3.45"/><circle cx="1353.2" cy="445.0" r="3.45"/><circle cx="1357.9" cy="444.6" r="3.45"/><circle cx="1353.6" cy="445.8" r="3.45"/><circle cx="1358.0" cy="445.4" r="3.45"/><circle cx="1353.3" cy="447.9" r="3.45"/><circle cx="1358.6" cy="448.3" r="3.45"/><circle cx="1354.2" cy="448.7" r="3.45"/><circle cx="1359.1" cy="449.3" r="3.45"/><circle cx="1354.7" cy="450.6" r="3.45"/><circle cx="1359.9" cy="451.5" r="3.45"/><circle cx="1354.5" cy="452.7" r="3.45"/><circle cx="1359.7" cy="453.0" r="3.45"/><circle cx="1355.6" cy="454.5" r="3.45"/><circle cx="1360.2" cy="453.7" r="3.45"/><circle cx="1355.5" cy="456.1" r="3.45"/><circle cx="1360.5" cy="456.6" r="3.45"/><circle cx="1356.5" cy="456.6" r="3.45"/><circle cx="1361.1" cy="458.1" r="3.45"/><circle cx="1356.2" cy="459.1" r="3.45"/><circle cx="1361.4" cy="458.5" r="3.45"/><circle cx="1357.4" cy="460.8" r="3.45"/><circle cx="1361.7" cy="460.9" r="3.45"/><circle cx="1357.4" cy="461.9" r="3.45"/><circle cx="1362.2" cy="462.1" r="3.45"/><circle cx="1357.4" cy="464.1" r="3.45"/><circle cx="1363.0" cy="463.8" r="3.45"/><circle cx="1358.2" cy="466.1" r="3.45"/><circle cx="1363.8" cy="465.2" r="3.45"/><circle cx="1358.4" cy="467.5" r="3.45"/><circle cx="1363.8" cy="467.3" r="3.45"/><circle cx="1359.1" cy="468.5" r="3.45"/><circle cx="1364.3" cy="467.9" r="3.45"/><circle cx="1359.1" cy="470.6" r="3.45"/><circle cx="1364.7" cy="470.5" r="3.45"/><circle cx="1360.1" cy="472.4" r="3.45"/><circle cx="1364.9" cy="471.2" r="3.45"/><circle cx="1359.9" cy="474.1" r="3.45"/><circle cx="1365.5" cy="473.4" r="3.45"/><circle cx="1360.7" cy="475.2" r="3.45"/><circle cx="1365.4" cy="475.1" r="3.45"/><circle cx="1360.6" cy="477.0" r="3.45"/><circle cx="1365.9" cy="477.3" r="3.45"/><circle cx="1361.5" cy="479.0" r="3.45"/><circle cx="1366.4" cy="478.0" r="3.45"/><circle cx="1361.7" cy="479.7" r="3.45"/><circle cx="1367.2" cy="480.5" r="3.45"/><circle cx="1362.4" cy="481.8" r="3.45"/><circle cx="1366.9" cy="481.7" r="3.45"/><circle cx="1362.4" cy="482.9" r="3.45"/><circle cx="1368.3" cy="483.0" r="3.45"/><circle cx="1363.2" cy="484.1" r="3.45"/><circle cx="1367.9" cy="484.0" r="3.45"/><circle cx="1363.2" cy="486.5" r="3.45"/><circle cx="1369.0" cy="486.1" r="3.45"/><circle cx="1363.7" cy="488.5" r="3.45"/><circle cx="1369.5" cy="488.5" r="3.45"/><circle cx="1364.6" cy="488.9" r="3.45"/><circle cx="1369.4" cy="489.9" r="3.45"/><circle cx="1365.2" cy="490.7" r="3.45"/><circle cx="1370.1" cy="491.0" r="3.45"/><circle cx="1365.2" cy="491.9" r="3.45"/><circle cx="1369.9" cy="493.3" r="3.45"/><circle cx="1365.4" cy="494.6" r="3.45"/><circle cx="1371.1" cy="493.9" r="3.45"/><circle cx="1366.3" cy="496.0" r="3.45"/><circle cx="1371.5" cy="496.4" r="3.45"/><circle cx="1366.5" cy="497.9" r="3.45"/><circle cx="1371.7" cy="497.6" r="3.45"/><circle cx="1367.2" cy="499.3" r="3.45"/><circle cx="1371.9" cy="499.4" r="3.45"/><circle cx="1367.5" cy="500.4" r="3.45"/><circle cx="1372.0" cy="500.0" r="3.45"/><circle cx="1367.4" cy="502.9" r="3.45"/><circle cx="1372.6" cy="502.8" r="3.45"/><circle cx="1367.7" cy="503.8" r="3.45"/><circle cx="1372.7" cy="504.2" r="3.45"/><circle cx="1368.8" cy="505.7" r="3.45"/><circle cx="1373.2" cy="505.8" r="3.45"/><circle cx="1368.6" cy="506.6" r="3.45"/><circle cx="1373.5" cy="507.3" r="3.45"/><circle cx="1369.0" cy="508.4" r="3.45"/><circle cx="1374.0" cy="509.0" r="3.45"/><circle cx="1370.2" cy="509.4" r="3.45"/><circle cx="1375.1" cy="510.6" r="3.45"/><circle cx="1370.3" cy="511.7" r="3.45"/><circle cx="1375.3" cy="511.9" r="3.45"/><circle cx="1370.2" cy="512.6" r="3.45"/><circle cx="1375.6" cy="512.8" r="3.45"/><circle cx="1371.3" cy="515.3" r="3.45"/><circle cx="1376.3" cy="515.3" r="3.45"/><circle cx="1371.7" cy="517.0" r="3.45"/><circle cx="1376.8" cy="516.5" r="3.45"/><circle cx="1372.2" cy="518.8" r="3.45"/><circle cx="1377.3" cy="518.8" r="3.45"/><circle cx="1372.6" cy="520.2" r="3.45"/><circle cx="1377.1" cy="519.9" r="3.45"/><circle cx="1372.1" cy="520.8" r="3.45"/><circle cx="1378.0" cy="521.9" r="3.45"/><circle cx="1372.9" cy="522.4" r="3.45"/><circle cx="1378.2" cy="523.8" r="3.45"/><circle cx="1373.4" cy="524.9" r="3.45"/><circle cx="1378.4" cy="523.9" r="3.45"/><circle cx="1374.0" cy="525.8" r="3.45"/><circle cx="1379.4" cy="526.7" r="3.45"/><circle cx="1374.6" cy="527.4" r="3.45"/><circle cx="1379.1" cy="528.0" r="3.45"/><circle cx="1375.1" cy="529.8" r="3.45"/><circle cx="1379.3" cy="529.3" r="3.45"/><circle cx="1375.2" cy="530.5" r="3.45"/><circle cx="1379.8" cy="530.5" r="3.45"/><circle cx="1375.6" cy="533.0" r="3.45"/><circle cx="1380.2" cy="533.2" r="3.45"/><circle cx="1376.1" cy="534.0" r="3.45"/><circle cx="1381.0" cy="534.1" r="3.45"/><circle cx="1376.5" cy="536.5" r="3.45"/><circle cx="1381.8" cy="535.5" r="3.45"/><circle cx="1377.0" cy="536.8" r="3.45"/><circle cx="1382.2" cy="537.9" r="3.45"/><circle cx="1376.6" cy="539.0" r="3.45"/><circle cx="1382.5" cy="539.2" r="3.45"/><circle cx="1377.0" cy="540.8" r="3.45"/><circle cx="1382.2" cy="540.1" r="3.45"/><circle cx="1377.8" cy="541.8" r="3.45"/><circle cx="1383.1" cy="543.0" r="3.45"/><circle cx="1378.5" cy="543.4" r="3.45"/><circle cx="1383.0" cy="543.3" r="3.45"/><circle cx="1378.5" cy="544.7" r="3.45"/><circle cx="1384.2" cy="545.2" r="3.45"/><circle cx="1378.7" cy="547.2" r="3.45"/><circle cx="1384.6" cy="547.3" r="3.45"/><circle cx="1380.0" cy="548.6" r="3.45"/><circle cx="1384.7" cy="549.3" r="3.45"/><circle cx="1380.2" cy="550.4" r="3.45"/><circle cx="1385.0" cy="550.9" r="3.45"/><circle cx="1380.3" cy="551.5" r="3.45"/><circle cx="1385.4" cy="552.4" r="3.45"/><circle cx="1380.9" cy="553.8" r="3.45"/><circle cx="1386.0" cy="553.7" r="3.45"/><circle cx="1381.4" cy="554.8" r="3.45"/><circle cx="1386.4" cy="554.7" r="3.45"/><circle cx="1381.1" cy="556.4" r="3.45"/><circle cx="1386.2" cy="556.2" r="3.45"/><circle cx="1382.4" cy="558.0" r="3.45"/><circle cx="1387.0" cy="558.2" r="3.45"/><circle cx="1382.1" cy="559.4" r="3.45"/><circle cx="1387.4" cy="559.2" r="3.45"/><circle cx="1382.9" cy="561.6" r="3.45"/><circle cx="1387.5" cy="560.8" r="3.45"/><circle cx="1383.7" cy="563.1" r="3.45"/><circle cx="1388.0" cy="562.3" r="3.45"/><circle cx="1383.9" cy="564.6" r="3.45"/><circle cx="1388.6" cy="564.1" r="3.45"/><circle cx="1384.5" cy="566.8" r="3.45"/><circle cx="1389.6" cy="565.6" r="3.45"/><circle cx="1384.3" cy="568.3" r="3.45"/><circle cx="1389.4" cy="567.8" r="3.45"/><circle cx="1385.0" cy="570.2" r="3.45"/><circle cx="1389.7" cy="569.8" r="3.45"/><circle cx="1385.5" cy="570.5" r="3.45"/><circle cx="1390.7" cy="570.6" r="3.45"/><circle cx="1385.5" cy="572.0" r="3.45"/><circle cx="1390.6" cy="572.0" r="3.45"/><circle cx="1386.4" cy="574.5" r="3.45"/><circle cx="1391.0" cy="574.7" r="3.45"/><circle cx="1386.2" cy="576.5" r="3.45"/><circle cx="1391.5" cy="575.8" r="3.45"/><circle cx="1387.1" cy="577.1" r="3.45"/><circle cx="1391.7" cy="576.7" r="3.45"/><circle cx="1387.0" cy="579.4" r="3.45"/><circle cx="1392.3" cy="579.7" r="3.45"/><circle cx="1387.6" cy="580.2" r="3.45"/><circle cx="1392.8" cy="580.0" r="3.45"/><circle cx="1388.5" cy="581.7" r="3.45"/><circle cx="1393.1" cy="582.6" r="3.45"/><circle cx="1388.9" cy="584.6" r="3.45"/><circle cx="1393.3" cy="583.8" r="3.45"/><circle cx="1388.9" cy="585.1" r="3.45"/><circle cx="1393.7" cy="585.1" r="3.45"/><circle cx="1389.6" cy="587.8" r="3.45"/><circle cx="1394.8" cy="586.8" r="3.45"/><circle cx="1390.0" cy="589.1" r="3.45"/><circle cx="1395.1" cy="588.9" r="3.45"/><circle cx="1390.2" cy="589.6" r="3.45"/><circle cx="1395.3" cy="590.8" r="3.45"/><circle cx="1390.9" cy="591.8" r="3.45"/><circle cx="1395.8" cy="592.2" r="3.45"/><circle cx="1391.5" cy="593.8" r="3.45"/><circle cx="1396.4" cy="593.1" r="3.45"/><circle cx="1391.0" cy="594.2" r="3.45"/><circle cx="1396.5" cy="594.3" r="3.45"/><circle cx="1391.6" cy="597.2" r="3.45"/><circle cx="1397.2" cy="596.5" r="3.45"/><circle cx="1392.5" cy="598.0" r="3.45"/><circle cx="1397.8" cy="598.7" r="3.45"/><circle cx="1392.9" cy="599.1" r="3.45"/><circle cx="1397.6" cy="600.3" r="3.45"/><circle cx="1393.0" cy="602.0" r="3.45"/><circle cx="1398.5" cy="601.2" r="3.45"/><circle cx="1394.0" cy="602.9" r="3.45"/><circle cx="1399.0" cy="603.3" r="3.45"/><circle cx="1394.4" cy="604.3" r="3.45"/><circle cx="1398.8" cy="605.2" r="3.45"/><circle cx="1393.9" cy="606.8" r="3.45"/><circle cx="1399.7" cy="606.1" r="3.45"/><circle cx="1395.2" cy="608.2" r="3.45"/><circle cx="1399.7" cy="608.3" r="3.45"/><circle cx="1395.5" cy="608.8" r="3.45"/><circle cx="1399.9" cy="610.1" r="3.45"/><circle cx="1395.9" cy="611.3" r="3.45"/><circle cx="1400.7" cy="610.5" r="3.45"/><circle cx="1395.9" cy="612.9" r="3.45"/><circle cx="1401.0" cy="612.4" r="3.45"/><circle cx="1396.1" cy="614.7" r="3.45"/><circle cx="1401.3" cy="613.4" r="3.45"/><circle cx="1396.9" cy="615.6" r="3.45"/><circle cx="1402.3" cy="615.1" r="3.45"/><circle cx="1396.9" cy="617.6" r="3.45"/><circle cx="1402.1" cy="617.0" r="3.45"/><circle cx="1398.1" cy="619.4" r="3.45"/><circle cx="1402.8" cy="619.4" r="3.45"/><circle cx="1398.4" cy="620.8" r="3.45"/><circle cx="1402.6" cy="620.6" r="3.45"/><circle cx="1398.8" cy="622.2" r="3.45"/><circle cx="1403.5" cy="622.4" r="3.45"/><circle cx="1399.0" cy="623.4" r="3.45"/><circle cx="1403.8" cy="624.4" r="3.45"/><circle cx="1399.4" cy="626.2" r="3.45"/><circle cx="1404.5" cy="625.8" r="3.45"/><circle cx="1400.0" cy="627.2" r="3.45"/><circle cx="1404.4" cy="627.4" r="3.45"/><circle cx="1399.7" cy="628.8" r="3.45"/><circle cx="1404.8" cy="628.5" r="3.45"/><circle cx="1400.5" cy="630.3" r="3.45"/><circle cx="1405.3" cy="630.5" r="3.45"/><circle cx="1400.4" cy="632.3" r="3.45"/><circle cx="1405.7" cy="632.3" r="3.45"/><circle cx="1400.6" cy="633.9" r="3.45"/><circle cx="1405.7" cy="632.9" r="3.45"/><circle cx="1401.0" cy="634.9" r="3.45"/><circle cx="1406.4" cy="634.5" r="3.45"/><circle cx="1401.7" cy="637.3" r="3.45"/><circle cx="1406.3" cy="637.3" r="3.45"/><circle cx="1402.0" cy="638.6" r="3.45"/><circle cx="1406.7" cy="637.5" r="3.45"/><circle cx="1402.9" cy="640.4" r="3.45"/><circle cx="1407.7" cy="639.7" r="3.45"/><circle cx="1402.4" cy="641.5" r="3.45"/><circle cx="1407.4" cy="641.4" r="3.45"/><circle cx="1402.8" cy="642.6" r="3.45"/><circle cx="1408.3" cy="642.4" r="3.45"/><circle cx="1403.8" cy="644.5" r="3.45"/><circle cx="1409.0" cy="645.0" r="3.45"/><circle cx="1403.7" cy="646.0" r="3.45"/><circle cx="1408.5" cy="646.1" r="3.45"/><circle cx="1404.0" cy="647.6" r="3.45"/><circle cx="1408.8" cy="648.2" r="3.45"/><circle cx="1404.4" cy="650.1" r="3.45"/><circle cx="1410.0" cy="649.4" r="3.45"/><circle cx="1405.5" cy="650.7" r="3.45"/><circle cx="1410.4" cy="651.6" r="3.45"/><circle cx="1405.5" cy="653.3" r="3.45"/><circle cx="1410.8" cy="653.0" r="3.45"/><circle cx="1406.0" cy="654.5" r="3.45"/><circle cx="1411.1" cy="653.5" r="3.45"/><circle cx="1406.4" cy="655.8" r="3.45"/><circle cx="1410.7" cy="655.3" r="3.45"/><circle cx="1406.9" cy="657.4" r="3.45"/><circle cx="1411.3" cy="657.6" r="3.45"/><circle cx="1407.0" cy="658.9" r="3.45"/><circle cx="1412.2" cy="658.8" r="3.45"/><circle cx="1407.1" cy="660.5" r="3.45"/><circle cx="1411.9" cy="660.6" r="3.45"/><circle cx="1407.1" cy="661.4" r="3.45"/><circle cx="1412.0" cy="661.9" r="3.45"/><circle cx="1407.6" cy="663.4" r="3.45"/><circle cx="1413.3" cy="663.4" r="3.45"/><circle cx="1408.3" cy="665.9" r="3.45"/><circle cx="1412.8" cy="664.9" r="3.45"/><circle cx="1408.3" cy="666.4" r="3.45"/><circle cx="1413.8" cy="666.4" r="3.45"/><circle cx="1409.2" cy="668.9" r="3.45"/><circle cx="1413.7" cy="668.9" r="3.45"/><circle cx="1408.9" cy="670.3" r="3.45"/><circle cx="1414.1" cy="670.8" r="3.45"/><circle cx="1410.1" cy="672.5" r="3.45"/><circle cx="1414.5" cy="672.3" r="3.45"/><circle cx="1409.8" cy="674.2" r="3.45"/><circle cx="1415.4" cy="673.2" r="3.45"/><circle cx="1410.1" cy="674.9" r="3.45"/><circle cx="1415.4" cy="674.8" r="3.45"/><circle cx="1410.6" cy="677.1" r="3.45"/><circle cx="1416.1" cy="676.6" r="3.45"/><circle cx="1411.1" cy="678.7" r="3.45"/><circle cx="1415.8" cy="678.1" r="3.45"/><circle cx="1411.9" cy="679.0" r="3.45"/><circle cx="1416.9" cy="680.3" r="3.45"/><circle cx="1411.8" cy="682.2" r="3.45"/><circle cx="1417.1" cy="681.0" r="3.45"/><circle cx="1412.2" cy="683.4" r="3.45"/><circle cx="1417.2" cy="683.1" r="3.45"/><circle cx="1412.9" cy="684.0" r="3.45"/><circle cx="1418.1" cy="684.0" r="3.45"/><circle cx="1412.9" cy="686.9" r="3.45"/><circle cx="1417.8" cy="686.5" r="3.45"/><circle cx="1413.0" cy="688.4" r="3.45"/><circle cx="1417.9" cy="687.4" r="3.45"/><circle cx="1413.4" cy="689.4" r="3.45"/><circle cx="1419.1" cy="689.9" r="3.45"/><circle cx="1414.6" cy="691.6" r="3.45"/><circle cx="1419.1" cy="691.6" r="3.45"/><circle cx="1414.3" cy="692.7" r="3.45"/><circle cx="1419.8" cy="692.3" r="3.45"/><circle cx="1415.5" cy="693.8" r="3.45"/><circle cx="1419.6" cy="694.0" r="3.45"/><circle cx="1415.9" cy="695.1" r="3.45"/><circle cx="1420.4" cy="695.4" r="3.45"/><circle cx="1415.4" cy="698.1" r="3.45"/><circle cx="1420.3" cy="696.6" r="3.45"/><circle cx="1415.9" cy="699.1" r="3.45"/><circle cx="1421.5" cy="698.9" r="3.45"/><circle cx="1416.3" cy="700.8" r="3.45"/><circle cx="1422.0" cy="699.8" r="3.45"/><circle cx="1417.1" cy="701.6" r="3.45"/><circle cx="1421.5" cy="702.4" r="3.45"/><circle cx="1417.0" cy="703.1" r="3.45"/><circle cx="1422.8" cy="703.5" r="3.45"/><circle cx="1417.9" cy="706.0" r="3.45"/><circle cx="1423.1" cy="705.4" r="3.45"/><circle cx="1418.1" cy="706.2" r="3.45"/><circle cx="1422.8" cy="707.2" r="3.45"/><circle cx="1418.9" cy="708.8" r="3.45"/><circle cx="1423.6" cy="707.8" r="3.45"/><circle cx="1419.2" cy="709.6" r="3.45"/><circle cx="1423.5" cy="710.2" r="3.45"/><circle cx="1419.6" cy="711.7" r="3.45"/><circle cx="1424.6" cy="711.7" r="3.45"/><circle cx="1420.3" cy="712.7" r="3.45"/><circle cx="1425.0" cy="712.9" r="3.45"/><circle cx="1420.5" cy="714.6" r="3.45"/><circle cx="1424.7" cy="715.2" r="3.45"/><circle cx="1420.6" cy="716.4" r="3.45"/><circle cx="1425.4" cy="716.5" r="3.45"/><circle cx="1421.0" cy="718.1" r="3.45"/><circle cx="1426.2" cy="718.9" r="3.45"/><circle cx="1421.5" cy="719.9" r="3.45"/><circle cx="1425.9" cy="720.5" r="3.45"/><circle cx="1422.3" cy="722.1" r="3.45"/><circle cx="1426.9" cy="721.2" r="3.45"/><circle cx="1421.9" cy="722.3" r="3.45"/><circle cx="1427.7" cy="722.3" r="3.45"/><circle cx="1422.2" cy="725.2" r="3.45"/><circle cx="1427.4" cy="724.6" r="3.45"/><circle cx="1422.7" cy="726.8" r="3.45"/><circle cx="1427.8" cy="726.6" r="3.45"/><circle cx="1423.2" cy="728.6" r="3.45"/><circle cx="1428.1" cy="728.0" r="3.45"/><circle cx="1424.1" cy="729.1" r="3.45"/><circle cx="1428.9" cy="729.6" r="3.45"/><circle cx="1424.7" cy="731.3" r="3.45"/><circle cx="1428.9" cy="731.8" r="3.45"/><circle cx="1424.7" cy="732.1" r="3.45"/><circle cx="1429.8" cy="732.6" r="3.45"/><circle cx="1424.7" cy="734.8" r="3.45"/><circle cx="1429.3" cy="733.8" r="3.45"/><circle cx="1425.4" cy="736.4" r="3.45"/><circle cx="1429.6" cy="735.3" r="3.45"/><circle cx="1425.7" cy="737.8" r="3.45"/><circle cx="1430.0" cy="737.4" r="3.45"/><circle cx="1426.1" cy="739.7" r="3.45"/><circle cx="1430.6" cy="738.7" r="3.45"/><circle cx="1425.6" cy="741.3" r="3.45"/><circle cx="1431.0" cy="740.4" r="3.45"/><circle cx="1426.9" cy="742.5" r="3.45"/><circle cx="1431.7" cy="742.5" r="3.45"/><circle cx="1426.6" cy="743.1" r="3.45"/><circle cx="1431.5" cy="743.0" r="3.45"/><circle cx="1426.8" cy="744.8" r="3.45"/><circle cx="1432.1" cy="746.0" r="3.45"/><circle cx="1427.6" cy="746.6" r="3.45"/><circle cx="1432.0" cy="747.4" r="3.45"/><circle cx="1427.3" cy="749.1" r="3.45"/><circle cx="1432.6" cy="749.4" r="3.45"/><circle cx="1428.5" cy="750.9" r="3.45"/><circle cx="1432.9" cy="750.9" r="3.45"/><circle cx="1428.2" cy="752.4" r="3.45"/><circle cx="1432.8" cy="752.1" r="3.45"/><circle cx="1429.0" cy="753.2" r="3.45"/><circle cx="1433.5" cy="752.7" r="3.45"/><circle cx="1429.0" cy="755.5" r="3.45"/><circle cx="1433.7" cy="755.8" r="3.45"/><circle cx="1428.8" cy="756.4" r="3.45"/><circle cx="1434.0" cy="756.6" r="3.45"/><circle cx="1430.0" cy="758.8" r="3.45"/><circle cx="1434.8" cy="758.4" r="3.45"/><circle cx="1429.4" cy="759.4" r="3.45"/><circle cx="1434.5" cy="760.2" r="3.45"/><circle cx="1430.5" cy="761.9" r="3.45"/><circle cx="1435.4" cy="761.2" r="3.45"/><circle cx="1430.5" cy="763.1" r="3.45"/><circle cx="1435.3" cy="763.0" r="3.45"/><circle cx="1430.7" cy="764.7" r="3.45"/><circle cx="1435.2" cy="764.7" r="3.45"/><circle cx="1430.8" cy="767.0" r="3.45"/><circle cx="1436.4" cy="766.4" r="3.45"/><circle cx="1431.2" cy="767.7" r="3.45"/><circle cx="1435.9" cy="767.7" r="3.45"/><circle cx="1431.8" cy="768.9" r="3.45"/><circle cx="1437.1" cy="769.1" r="3.45"/><circle cx="1432.0" cy="770.9" r="3.45"/><circle cx="1437.2" cy="771.4" r="3.45"/><circle cx="1432.8" cy="771.8" r="3.45"/><circle cx="1437.0" cy="772.7" r="3.45"/><circle cx="1433.1" cy="774.5" r="3.45"/><circle cx="1437.8" cy="775.0" r="3.45"/><circle cx="1433.5" cy="776.2" r="3.45"/><circle cx="1438.2" cy="775.8" r="3.45"/><circle cx="1433.7" cy="776.7" r="3.45"/><circle cx="1438.0" cy="778.2" r="3.45"/><circle cx="1434.1" cy="778.3" r="3.45"/><circle cx="1438.5" cy="778.7" r="3.45"/><circle cx="1433.7" cy="781.0" r="3.45"/><circle cx="1439.1" cy="780.8" r="3.45"/><circle cx="1083.2" cy="23.1" r="3.45"/><circle cx="1099.3" cy="25.1" r="3.45"/><circle cx="1105.3" cy="34.2" r="3.45"/><circle cx="1110.3" cy="38.2" r="3.45"/><circle cx="1144.5" cy="35.2" r="3.45"/><circle cx="1151.6" cy="38.2" r="3.45"/><circle cx="1161.7" cy="42.2" r="3.45"/><circle cx="1165.7" cy="45.2" r="3.45"/><circle cx="1086.0" cy="27.0" r="3.45"/><circle cx="1095.0" cy="30.0" r="3.45"/></g>
<path d="M1091.7 20.2L1091.8 24.1L1104.5 28.1L1114.0 32.0L1130.1 35.9L1143.0 39.9L1153.4 43.8L1163.0 47.8L1172.6 51.7L1181.6 55.6L1190.9 59.6L1200.1 63.5L1207.7 67.5L1213.5 71.4L1218.8 75.0L1223.0 79.8L1228.3 82.8L1231.6 87.7L1236.9 90.8L1240.2 95.3L1244.2 98.7L1245.9 103.2L1248.9 106.6L1249.7 111.0L1252.1 114.7L1254.1 118.8L1256.9 122.4L1258.3 126.9L1261.3 130.4L1262.9 134.7L1265.5 138.2L1265.7 142.5L1268.0 146.1L1268.8 150.2L1270.6 154.1L1271.8 158.2L1273.9 161.9L1274.7 166.2L1277.4 169.7L1278.0 174.0L1280.7 177.5L1281.9 181.9L1284.6 185.4L1285.7 189.8L1288.3 193.4L1288.6 197.7L1291.0 201.3L1291.0 205.6L1293.4 209.2L1293.4 213.5L1295.5 217.1L1296.3 221.2L1298.2 224.9L1298.6 229.1L1300.3 232.9L1301.1 237.0L1303.3 240.6L1303.3 244.9L1305.6 248.5L1306.1 252.7L1308.2 256.4L1308.2 260.7L1310.1 264.4L1310.4 268.6L1312.7 272.2L1313.1 276.3L1315.0 280.0L1314.7 284.3L1317.0 287.9L1316.7 292.2L1318.5 295.9L1318.8 300.1L1320.5 303.8L1321.1 307.9L1322.6 311.7L1323.0 315.8L1325.0 319.5L1325.0 323.6L1326.9 327.4L1327.1 331.5L1328.8 335.3L1328.8 339.4L1330.3 343.2L1330.9 347.3L1332.3 351.1L1332.7 355.2L1334.3 359.0L1334.7 363.0L1336.2 366.8L1336.3 371.0L1338.3 374.7L1338.6 378.8L1340.1 382.6L1340.7 386.7L1342.4 390.4L1342.5 394.6L1344.4 398.3L1344.7 402.4L1346.2 406.2L1346.2 410.4L1348.0 414.1L1348.2 418.3L1350.5 421.9L1350.6 426.1L1352.5 429.8L1352.5 434.0L1354.3 437.7L1354.2 441.9L1356.1 445.6L1356.5 449.7L1358.4 453.4L1358.2 457.7L1360.2 461.4L1360.3 465.5L1362.1 469.3L1362.6 473.3L1364.4 477.1L1364.6 481.2L1366.1 485.0L1366.4 489.1L1368.4 492.8L1368.5 497.0L1370.1 500.8L1370.5 504.9L1372.4 508.6L1372.4 512.8L1374.1 516.6L1374.4 520.7L1376.2 524.4L1376.7 528.5L1378.2 532.3L1378.6 536.4L1380.2 540.2L1380.7 544.3L1382.5 548.0L1382.8 552.1L1384.4 555.9L1384.3 560.1L1386.5 563.8L1386.8 567.9L1388.6 571.6L1388.9 575.8L1390.7 579.5L1390.7 583.7L1392.8 587.4L1393.0 591.5L1394.5 595.3L1395.0 599.4L1396.9 603.1L1396.8 607.3L1398.7 611.1L1399.0 615.2L1400.4 619.0L1400.5 623.1L1402.5 626.8L1402.6 631.0L1404.2 634.7L1403.9 638.9L1405.8 642.7L1405.8 646.8L1408.0 650.4L1407.7 654.7L1409.9 658.3L1409.5 662.5L1411.3 666.3L1411.1 670.4L1413.1 674.1L1413.0 678.3L1415.2 682.0L1415.3 686.1L1417.0 689.8L1417.1 694.0L1418.6 697.8L1418.7 702.0L1421.0 705.6L1420.8 709.8L1422.9 713.5L1423.0 717.6L1425.0 721.4L1424.9 725.5L1427.1 729.2L1426.4 733.5L1428.1 737.2L1428.3 741.3L1429.7 745.1L1429.8 749.2L1431.6 752.9L1431.3 757.0L1433.1 760.8L1432.8 765.0L1434.8 768.6L1434.6 772.8L1436.0 776.6L1435.9 780.7" fill="none" stroke="#0000ff" stroke-width="2.6" stroke-linejoin="round"/>
<path d="M1224.3 80.0L1226.6 82.0L1228.7 84.0L1230.8 86.0L1233.1 88.0L1235.3 90.0L1237.5 92.0L1239.6 94.0L1241.4 96.0L1243.1 98.0L1244.7 100.0L1246.1 102.0L1247.0 104.0L1247.9 106.0L1248.9 108.0L1249.8 110.0L1250.7 112.0L1251.6 114.0L1252.7 116.0L1253.8 118.0L1255.0 120.0L1256.2 122.0L1257.3 124.0L1258.5 126.0L1259.7 128.0L1260.8 130.0L1262.0 132.0L1263.1 134.0L1264.1 136.0L1264.8 138.0L1265.5 140.0L1266.2 142.0L1266.8 144.0L1267.5 146.0L1268.2 148.0L1268.9 150.0L1269.6 152.0L1270.4 154.0L1271.2 156.0L1272.0 158.0L1272.8 160.0L1273.6 162.0L1274.5 164.0L1275.3 166.0L1276.1 168.0L1276.9 170.0L1277.7 172.0L1278.5 174.0L1279.3 176.0L1280.3 178.0L1281.3 180.0L1282.3 182.0L1283.3 184.0L1284.2 186.0L1285.2 188.0L1286.2 190.0L1287.2 192.0L1288.2 194.0L1288.8 196.0L1289.4 198.0L1290.1 200.0L1290.7 202.0L1291.3 204.0L1291.9 206.0L1292.5 208.0L1293.1 210.0L1293.8 212.0L1294.4 214.0L1295.0 216.0L1295.6 218.0L1296.2 220.0L1296.8 222.0L1297.5 224.0L1298.1 226.0L1298.7 228.0L1299.3 230.0L1299.9 232.0L1300.5 234.0L1301.2 236.0L1301.8 238.0L1302.4 240.0L1303.0 242.0L1303.6 244.0L1304.2 246.0L1304.9 248.0L1305.5 250.0L1306.1 252.0L1306.7 254.0L1307.3 256.0L1307.9 258.0L1308.6 260.0L1309.2 262.0L1309.8 264.0L1310.4 266.0L1311.0 268.0L1311.6 270.0L1312.1 272.0L1312.6 274.0L1313.2 276.0L1313.7 278.0L1314.2 280.0L1314.7 282.0L1315.2 284.0L1315.7 286.0L1316.3 288.0L1316.8 290.0L1317.3 292.0L1317.8 294.0L1318.3 296.0L1318.8 298.0L1319.4 300.0L1319.9 302.0L1320.4 304.0L1320.9 306.0L1321.4 308.0L1321.9 310.0L1322.4 312.0L1323.0 314.0L1323.5 316.0L1324.0 318.0L1324.5 320.0L1325.0 322.0L1325.5 324.0L1326.0 326.0L1326.5 328.0L1326.9 330.0L1327.4 332.0L1327.9 334.0L1328.4 336.0L1328.9 338.0L1329.4 340.0L1329.9 342.0L1330.4 344.0L1330.9 346.0L1331.3 348.0L1331.8 350.0L1332.3 352.0L1332.8 354.0L1333.3 356.0L1333.8 358.0L1334.3 360.0L1334.8 362.0L1335.3 364.0L1335.8 366.0L1336.2 368.0L1336.7 370.0L1337.2 372.0L1337.7 374.0L1338.2 376.0L1338.7 378.0L1339.2 380.0L1339.7 382.0L1340.2 384.0L1340.7 386.0L1341.2 388.0L1341.7 390.0L1342.2 392.0L1342.7 394.0L1343.2 396.0L1343.7 398.0L1344.2 400.0L1344.7 402.0L1345.2 404.0L1345.7 406.0L1346.2 408.0L1346.7 410.0L1347.3 412.0L1347.8 414.0L1348.3 416.0L1348.8 418.0L1349.3 420.0L1349.8 422.0L1350.3 424.0L1350.8 426.0L1351.3 428.0L1351.8 430.0L1352.3 432.0L1352.8 434.0L1353.3 436.0L1353.8 438.0L1354.3 440.0L1354.8 442.0L1355.3 444.0L1355.8 446.0L1356.3 448.0L1356.8 450.0L1357.3 452.0L1357.9 454.0L1358.4 456.0L1358.9 458.0L1359.4 460.0L1359.9 462.0L1360.4 464.0L1360.9 466.0L1361.4 468.0L1362.0 470.0L1362.5 472.0L1363.0 474.0L1363.5 476.0L1364.0 478.0L1364.5 480.0L1365.0 482.0L1365.5 484.0L1366.1 486.0L1366.6 488.0L1367.1 490.0L1367.6 492.0L1368.1 494.0L1368.6 496.0L1369.1 498.0L1369.6 500.0L1370.1 502.0L1370.7 504.0L1371.2 506.0L1371.7 508.0L1372.2 510.0L1372.7 512.0L1373.2 514.0L1373.7 516.0L1374.2 518.0L1374.8 520.0L1375.3 522.0L1375.8 524.0L1376.3 526.0L1376.8 528.0L1377.3 530.0L1377.8 532.0L1378.4 534.0L1378.9 536.0L1379.4 538.0L1379.9 540.0L1380.4 542.0L1380.9 544.0L1381.4 546.0L1381.9 548.0L1382.5 550.0L1383.0 552.0L1383.5 554.0L1384.0 556.0L1384.5 558.0L1385.0 560.0L1385.5 562.0L1386.1 564.0L1386.6 566.0L1387.1 568.0L1387.6 570.0L1388.1 572.0L1388.6 574.0L1389.1 576.0L1389.7 578.0L1390.2 580.0L1390.7 582.0L1391.2 584.0L1391.7 586.0L1392.2 588.0L1392.7 590.0L1393.3 592.0L1393.8 594.0L1394.3 596.0L1394.8 598.0L1395.3 600.0L1395.8 602.0L1396.3 604.0L1396.9 606.0L1397.4 608.0L1397.9 610.0L1398.4 612.0L1398.9 614.0L1399.4 616.0L1399.9 618.0L1400.4 620.0L1400.9 622.0L1401.4 624.0L1401.8 626.0L1402.3 628.0L1402.7 630.0L1403.2 632.0L1403.6 634.0L1404.1 636.0L1404.5 638.0L1405.0 640.0L1405.4 642.0L1405.9 644.0L1406.3 646.0L1406.8 648.0L1407.3 650.0L1407.7 652.0L1408.2 654.0L1408.6 656.0L1409.1 658.0L1409.5 660.0L1410.0 662.0L1410.4 664.0L1410.9 666.0L1411.3 668.0L1411.8 670.0L1412.2 672.0L1412.7 674.0L1413.1 676.0L1413.6 678.0L1414.0 680.0L1414.5 682.0L1415.0 684.0L1415.4 686.0L1415.9 688.0L1416.4 690.0L1416.9 692.0L1417.4 694.0L1417.9 696.0L1418.4 698.0L1418.9 700.0L1419.4 702.0L1419.9 704.0L1420.4 706.0L1420.9 708.0L1421.5 710.0L1422.0 712.0L1422.5 714.0L1423.0 716.0L1423.5 718.0L1424.0 720.0L1424.5 722.0L1425.0 724.0L1425.5 726.0L1426.0 728.0L1426.5 730.0L1426.9 732.0L1427.3 734.0L1427.7 736.0L1428.1 738.0L1428.5 740.0L1428.8 742.0L1429.2 744.0L1429.6 746.0L1430.0 748.0L1430.4 750.0L1430.8 752.0L1431.2 754.0L1431.6 756.0L1432.0 758.0L1432.4 760.0L1432.8 762.0L1433.2 764.0L1433.5 766.0L1433.9 768.0L1434.3 770.0L1434.7 772.0L1435.1 774.0L1435.5 776.0L1435.9 778.0L1436.3 780.0" fill="none" stroke="#0000ff" stroke-width="11.8" stroke-linejoin="round" stroke-linecap="round"/>
<g fill="#0000ff"><circle cx="1091.7" cy="20.2" r="6.08"/><circle cx="1091.8" cy="24.1" r="6.08"/><circle cx="1104.5" cy="28.1" r="6.08"/><circle cx="1114.0" cy="32.0" r="6.08"/><circle cx="1130.1" cy="35.9" r="6.08"/><circle cx="1143.0" cy="39.9" r="6.08"/><circle cx="1153.4" cy="43.8" r="6.08"/><circle cx="1163.0" cy="47.8" r="6.08"/><circle cx="1172.6" cy="51.7" r="6.08"/><circle cx="1181.6" cy="55.6" r="6.08"/><circle cx="1190.9" cy="59.6" r="6.08"/><circle cx="1200.1" cy="63.5" r="6.08"/><circle cx="1207.7" cy="67.5" r="6.08"/><circle cx="1213.5" cy="71.4" r="6.08"/><circle cx="1218.8" cy="75.0" r="6.08"/><circle cx="1223.0" cy="79.8" r="6.08"/><circle cx="1228.3" cy="82.8" r="6.08"/><circle cx="1231.6" cy="87.7" r="6.08"/><circle cx="1236.9" cy="90.8" r="6.08"/><circle cx="1240.2" cy="95.3" r="6.08"/><circle cx="1244.2" cy="98.7" r="6.08"/><circle cx="1245.9" cy="103.2" r="6.08"/><circle cx="1248.9" cy="106.6" r="6.08"/><circle cx="1249.7" cy="111.0" r="6.08"/><circle cx="1252.1" cy="114.7" r="6.08"/><circle cx="1254.1" cy="118.8" r="6.08"/><circle cx="1256.9" cy="122.4" r="6.08"/><circle cx="1258.3" cy="126.9" r="6.08"/><circle cx="1261.3" cy="130.4" r="6.08"/><circle cx="1262.9" cy="134.7" r="6.08"/><circle cx="1265.5" cy="138.2" r="6.08"/><circle cx="1265.7" cy="142.5" r="6.08"/><circle cx="1268.0" cy="146.1" r="6.08"/><circle cx="1268.8" cy="150.2" r="6.08"/><circle cx="1270.6" cy="154.1" r="6.08"/><circle cx="1271.8" cy="158.2" r="6.08"/><circle cx="1273.9" cy="161.9" r="6.08"/><circle cx="1274.7" cy="166.2" r="6.08"/><circle cx="1277.4" cy="169.7" r="6.08"/><circle cx="1278.0" cy="174.0" r="6.08"/><circle cx="1280.7" cy="177.5" r="6.08"/><circle cx="1281.9" cy="181.9" r="6.08"/><circle cx="1284.6" cy="185.4" r="6.08"/><circle cx="1285.7" cy="189.8" r="6.08"/><circle cx="1288.3" cy="193.4" r="6.08"/><circle cx="1288.6" cy="197.7" r="6.08"/><circle cx="1291.0" cy="201.3" r="6.08"/><circle cx="1291.0" cy="205.6" r="6.08"/><circle cx="1293.4" cy="209.2" r="6.08"/><circle cx="1293.4" cy="213.5" r="6.08"/><circle cx="1295.5" cy="217.1" r="6.08"/><circle cx="1296.3" cy="221.2" r="6.08"/><circle cx="1298.2" cy="224.9" r="6.08"/><circle cx="1298.6" cy="229.1" r="6.08"/><circle cx="1300.3" cy="232.9" r="6.08"/><circle cx="1301.1" cy="237.0" r="6.08"/><circle cx="1303.3" cy="240.6" r="6.08"/><circle cx="1303.3" cy="244.9" r="6.08"/><circle cx="1305.6" cy="248.5" r="6.08"/><circle cx="1306.1" cy="252.7" r="6.08"/><circle cx="1308.2" cy="256.4" r="6.08"/><circle cx="1308.2" cy="260.7" r="6.08"/><circle cx="1310.1" cy="264.4" r="6.08"/><circle cx="1310.4" cy="268.6" r="6.08"/><circle cx="1312.7" cy="272.2" r="6.08"/><circle cx="1313.1" cy="276.3" r="6.08"/><circle cx="1315.0" cy="280.0" r="6.08"/><circle cx="1314.7" cy="284.3" r="6.08"/><circle cx="1317.0" cy="287.9" r="6.08"/><circle cx="1316.7" cy="292.2" r="6.08"/><circle cx="1318.5" cy="295.9" r="6.08"/><circle cx="1318.8" cy="300.1" r="6.08"/><circle cx="1320.5" cy="303.8" r="6.08"/><circle cx="1321.1" cy="307.9" r="6.08"/><circle cx="1322.6" cy="311.7" r="6.08"/><circle cx="1323.0" cy="315.8" r="6.08"/><circle cx="1325.0" cy="319.5" r="6.08"/><circle cx="1325.0" cy="323.6" r="6.08"/><circle cx="1326.9" cy="327.4" r="6.08"/><circle cx="1327.1" cy="331.5" r="6.08"/><circle cx="1328.8" cy="335.3" r="6.08"/><circle cx="1328.8" cy="339.4" r="6.08"/><circle cx="1330.3" cy="343.2" r="6.08"/><circle cx="1330.9" cy="347.3" r="6.08"/><circle cx="1332.3" cy="351.1" r="6.08"/><circle cx="1332.7" cy="355.2" r="6.08"/><circle cx="1334.3" cy="359.0" r="6.08"/><circle cx="1334.7" cy="363.0" r="6.08"/><circle cx="1336.2" cy="366.8" r="6.08"/><circle cx="1336.3" cy="371.0" r="6.08"/><circle cx="1338.3" cy="374.7" r="6.08"/><circle cx="1338.6" cy="378.8" r="6.08"/><circle cx="1340.1" cy="382.6" r="6.08"/><circle cx="1340.7" cy="386.7" r="6.08"/><circle cx="1342.4" cy="390.4" r="6.08"/><circle cx="1342.5" cy="394.6" r="6.08"/><circle cx="1344.4" cy="398.3" r="6.08"/><circle cx="1344.7" cy="402.4" r="6.08"/><circle cx="1346.2" cy="406.2" r="6.08"/><circle cx="1346.2" cy="410.4" r="6.08"/><circle cx="1348.0" cy="414.1" r="6.08"/><circle cx="1348.2" cy="418.3" r="6.08"/><circle cx="1350.5" cy="421.9" r="6.08"/><circle cx="1350.6" cy="426.1" r="6.08"/><circle cx="1352.5" cy="429.8" r="6.08"/><circle cx="1352.5" cy="434.0" r="6.08"/><circle cx="1354.3" cy="437.7" r="6.08"/><circle cx="1354.2" cy="441.9" r="6.08"/><circle cx="1356.1" cy="445.6" r="6.08"/><circle cx="1356.5" cy="449.7" r="6.08"/><circle cx="1358.4" cy="453.4" r="6.08"/><circle cx="1358.2" cy="457.7" r="6.08"/><circle cx="1360.2" cy="461.4" r="6.08"/><circle cx="1360.3" cy="465.5" r="6.08"/><circle cx="1362.1" cy="469.3" r="6.08"/><circle cx="1362.6" cy="473.3" r="6.08"/><circle cx="1364.4" cy="477.1" r="6.08"/><circle cx="1364.6" cy="481.2" r="6.08"/><circle cx="1366.1" cy="485.0" r="6.08"/><circle cx="1366.4" cy="489.1" r="6.08"/><circle cx="1368.4" cy="492.8" r="6.08"/><circle cx="1368.5" cy="497.0" r="6.08"/><circle cx="1370.1" cy="500.8" r="6.08"/><circle cx="1370.5" cy="504.9" r="6.08"/><circle cx="1372.4" cy="508.6" r="6.08"/><circle cx="1372.4" cy="512.8" r="6.08"/><circle cx="1374.1" cy="516.6" r="6.08"/><circle cx="1374.4" cy="520.7" r="6.08"/><circle cx="1376.2" cy="524.4" r="6.08"/><circle cx="1376.7" cy="528.5" r="6.08"/><circle cx="1378.2" cy="532.3" r="6.08"/><circle cx="1378.6" cy="536.4" r="6.08"/><circle cx="1380.2" cy="540.2" r="6.08"/><circle cx="1380.7" cy="544.3" r="6.08"/><circle cx="1382.5" cy="548.0" r="6.08"/><circle cx="1382.8" cy="552.1" r="6.08"/><circle cx="1384.4" cy="555.9" r="6.08"/><circle cx="1384.3" cy="560.1" r="6.08"/><circle cx="1386.5" cy="563.8" r="6.08"/><circle cx="1386.8" cy="567.9" r="6.08"/><circle cx="1388.6" cy="571.6" r="6.08"/><circle cx="1388.9" cy="575.8" r="6.08"/><circle cx="1390.7" cy="579.5" r="6.08"/><circle cx="1390.7" cy="583.7" r="6.08"/><circle cx="1392.8" cy="587.4" r="6.08"/><circle cx="1393.0" cy="591.5" r="6.08"/><circle cx="1394.5" cy="595.3" r="6.08"/><circle cx="1395.0" cy="599.4" r="6.08"/><circle cx="1396.9" cy="603.1" r="6.08"/><circle cx="1396.8" cy="607.3" r="6.08"/><circle cx="1398.7" cy="611.1" r="6.08"/><circle cx="1399.0" cy="615.2" r="6.08"/><circle cx="1400.4" cy="619.0" r="6.08"/><circle cx="1400.5" cy="623.1" r="6.08"/><circle cx="1402.5" cy="626.8" r="6.08"/><circle cx="1402.6" cy="631.0" r="6.08"/><circle cx="1404.2" cy="634.7" r="6.08"/><circle cx="1403.9" cy="638.9" r="6.08"/><circle cx="1405.8" cy="642.7" r="6.08"/><circle cx="1405.8" cy="646.8" r="6.08"/><circle cx="1408.0" cy="650.4" r="6.08"/><circle cx="1407.7" cy="654.7" r="6.08"/><circle cx="1409.9" cy="658.3" r="6.08"/><circle cx="1409.5" cy="662.5" r="6.08"/><circle cx="1411.3" cy="666.3" r="6.08"/><circle cx="1411.1" cy="670.4" r="6.08"/><circle cx="1413.1" cy="674.1" r="6.08"/><circle cx="1413.0" cy="678.3" r="6.08"/><circle cx="1415.2" cy="682.0" r="6.08"/><circle cx="1415.3" cy="686.1" r="6.08"/><circle cx="1417.0" cy="689.8" r="6.08"/><circle cx="1417.1" cy="694.0" r="6.08"/><circle cx="1418.6" cy="697.8" r="6.08"/><circle cx="1418.7" cy="702.0" r="6.08"/><circle cx="1421.0" cy="705.6" r="6.08"/><circle cx="1420.8" cy="709.8" r="6.08"/><circle cx="1422.9" cy="713.5" r="6.08"/><circle cx="1423.0" cy="717.6" r="6.08"/><circle cx="1425.0" cy="721.4" r="6.08"/><circle cx="1424.9" cy="725.5" r="6.08"/><circle cx="1427.1" cy="729.2" r="6.08"/><circle cx="1426.4" cy="733.5" r="6.08"/><circle cx="1428.1" cy="737.2" r="6.08"/><circle cx="1428.3" cy="741.3" r="6.08"/><circle cx="1429.7" cy="745.1" r="6.08"/><circle cx="1429.8" cy="749.2" r="6.08"/><circle cx="1431.6" cy="752.9" r="6.08"/><circle cx="1431.3" cy="757.0" r="6.08"/><circle cx="1433.1" cy="760.8" r="6.08"/><circle cx="1432.8" cy="765.0" r="6.08"/><circle cx="1434.8" cy="768.6" r="6.08"/><circle cx="1434.6" cy="772.8" r="6.08"/><circle cx="1436.0" cy="776.6" r="6.08"/><circle cx="1435.9" cy="780.7" r="6.08"/></g>
<path d="M1120.7 19.0L1120.7 20.6L1120.7 22.2L1120.7 23.7L1120.7 25.3L1120.7 26.9L1121.2 28.5L1122.7 30.8L1126.7 34.8L1132.7 38.7L1138.7 42.6L1144.7 46.6L1149.7 50.5L1155.7 54.5L1161.7 58.4L1179.7 66.3L1193.7 74.2L1209.7 82.0L1222.7 89.9L1232.2 97.8L1250.2 117.5L1264.2 137.2L1279.5 176.6L1291.2 216.0L1302.2 255.4L1315.5 294.8L1329.2 334.2L1347.9 413.0L1367.5 491.8L1387.4 570.6L1406.6 649.4L1425.0 728.2L1440.8 807.0" fill="none" stroke="#ff0000" stroke-width="2.6" stroke-linejoin="round" stroke-linecap="square"/>
<path d="M1121.3 19.0L1121.3 20.6L1121.3 22.2L1121.3 23.7L1121.3 25.3L1121.3 26.9L1121.8 28.5L1123.3 30.8L1127.3 34.8L1133.3 38.7L1139.3 42.6L1145.3 46.6L1150.3 50.5L1156.3 54.5L1162.3 58.4L1180.3 66.3L1194.3 74.2L1210.3 82.0L1223.3 89.9L1232.8 97.8L1250.8 117.5L1264.8 137.2L1280.1 176.6L1291.8 216.0L1302.8 255.4L1316.1 294.8L1329.8 334.2L1347.9 413.0L1367.5 491.8L1387.4 570.6L1406.6 649.4L1425.0 728.2L1446.0 807.0" fill="none" stroke="#ff0000" stroke-width="2.6" stroke-linejoin="round" stroke-linecap="square"/>
<path d="M1120.8 19.0L1120.8 20.6L1120.8 22.2L1120.8 23.7L1120.8 25.3L1120.8 26.9L1121.3 28.5L1122.8 30.8L1126.8 34.8L1132.8 38.7L1138.8 42.6L1144.8 46.6L1149.8 50.5L1155.8 54.5L1161.8 58.4L1179.8 66.3L1193.8 74.2L1209.8 82.0L1222.8 89.9L1232.3 97.8L1250.3 117.5L1264.3 137.2L1279.6 176.6L1291.3 216.0L1302.3 255.4L1315.6 294.8L1329.3 334.2L1347.9 413.0L1367.5 491.8L1387.4 570.6L1406.6 649.4L1425.0 728.2L1442.1 807.0" fill="none" stroke="#ff0000" stroke-width="2.6" stroke-linejoin="round" stroke-linecap="square"/>
<path d="M1121.2 19.0L1121.2 20.6L1121.2 22.2L1121.2 23.7L1121.2 25.3L1121.2 26.9L1121.7 28.5L1123.2 30.8L1127.2 34.8L1133.2 38.7L1139.2 42.6L1145.2 46.6L1150.2 50.5L1156.2 54.5L1162.2 58.4L1180.2 66.3L1194.2 74.2L1210.2 82.0L1223.2 89.9L1232.7 97.8L1250.7 117.5L1264.7 137.2L1280.0 176.6L1291.7 216.0L1302.7 255.4L1316.0 294.8L1329.7 334.2L1347.9 413.0L1367.5 491.8L1387.4 570.6L1406.6 649.4L1425.0 728.2L1444.7 807.0" fill="none" stroke="#ff0000" stroke-width="2.6" stroke-linejoin="round" stroke-linecap="square"/>
<path d="M1121.0 19.0L1121.0 20.6L1121.0 22.2L1121.0 23.7L1121.0 25.3L1121.0 26.9L1121.5 28.5L1123.0 30.8L1127.0 34.8L1133.0 38.7L1139.0 42.6L1145.0 46.6L1150.0 50.5L1156.0 54.5L1162.0 58.4L1180.0 66.3L1194.0 74.2L1210.0 82.0L1223.0 89.9L1232.5 97.8L1250.5 117.5L1264.5 137.2L1279.8 176.6L1291.5 216.0L1302.5 255.4L1315.8 294.8L1329.5 334.2L1347.9 413.0L1367.5 491.8L1387.4 570.6L1406.6 649.4L1425.0 728.2L1443.4 807.0" fill="none" stroke="#ff0000" stroke-width="2.6" stroke-linejoin="round" stroke-linecap="square"/><g fill="#ff0000"><circle cx="1121.0" cy="19.0" r="6.08"/><circle cx="1121.0" cy="20.6" r="6.08"/><circle cx="1121.0" cy="22.2" r="6.08"/><circle cx="1121.0" cy="23.7" r="6.08"/><circle cx="1121.0" cy="25.3" r="6.08"/><circle cx="1121.0" cy="26.9" r="6.08"/><circle cx="1121.5" cy="28.5" r="6.08"/><circle cx="1123.0" cy="30.8" r="6.08"/><circle cx="1127.0" cy="34.8" r="6.08"/><circle cx="1133.0" cy="38.7" r="6.08"/><circle cx="1139.0" cy="42.6" r="6.08"/><circle cx="1145.0" cy="46.6" r="6.08"/><circle cx="1150.0" cy="50.5" r="6.08"/><circle cx="1156.0" cy="54.5" r="6.08"/><circle cx="1162.0" cy="58.4" r="6.08"/><circle cx="1180.0" cy="66.3" r="6.08"/><circle cx="1194.0" cy="74.2" r="6.08"/><circle cx="1210.0" cy="82.0" r="6.08"/><circle cx="1223.0" cy="89.9" r="6.08"/><circle cx="1232.5" cy="97.8" r="6.08"/><circle cx="1250.5" cy="117.5" r="6.08"/><circle cx="1264.5" cy="137.2" r="6.08"/><circle cx="1279.8" cy="176.6" r="6.08"/><circle cx="1291.5" cy="216.0" r="6.08"/><circle cx="1302.5" cy="255.4" r="6.08"/><circle cx="1315.8" cy="294.8" r="6.08"/><circle cx="1329.5" cy="334.2" r="6.08"/><circle cx="1347.9" cy="413.0" r="6.08"/><circle cx="1367.5" cy="491.8" r="6.08"/><circle cx="1387.4" cy="570.6" r="6.08"/><circle cx="1406.6" cy="649.4" r="6.08"/><circle cx="1425.0" cy="728.2" r="6.08"/><circle cx="1443.4" cy="807.0" r="6.08"/></g>
<path d="M1112.3 19.0L1112.3 20.6L1112.3 22.2L1112.3 23.7L1112.3 25.3L1112.3 26.9L1112.5 28.5L1113.0 30.8L1114.4 34.8L1120.4 38.7L1129.5 42.6L1137.5 46.6L1145.6 50.5L1152.6 54.5L1159.6 58.4L1179.8 66.3L1195.9 74.2L1209.0 82.0L1219.0 89.9L1226.8 97.8L1240.9 117.5L1255.0 137.2L1274.4 176.6L1290.4 216.0L1304.6 255.4L1317.0 294.8L1327.5 334.2L1347.9 413.0L1367.5 491.8L1387.4 570.6L1406.6 649.4L1425.0 728.2L1443.4 807.0" fill="none" stroke="#008000" stroke-width="2.6" stroke-linejoin="round" stroke-linecap="square"/><g fill="#008000"><circle cx="1112.3" cy="19.0" r="6.08"/><circle cx="1112.3" cy="20.6" r="6.08"/><circle cx="1112.3" cy="22.2" r="6.08"/><circle cx="1112.3" cy="23.7" r="6.08"/><circle cx="1112.3" cy="25.3" r="6.08"/><circle cx="1112.3" cy="26.9" r="6.08"/><circle cx="1112.5" cy="28.5" r="6.08"/><circle cx="1113.0" cy="30.8" r="6.08"/><circle cx="1114.4" cy="34.8" r="6.08"/><circle cx="1120.4" cy="38.7" r="6.08"/><circle cx="1129.5" cy="42.6" r="6.08"/><circle cx="1137.5" cy="46.6" r="6.08"/><circle cx="1145.6" cy="50.5" r="6.08"/><circle cx="1152.6" cy="54.5" r="6.08"/><circle cx="1159.6" cy="58.4" r="6.08"/><circle cx="1179.8" cy="66.3" r="6.08"/><circle cx="1195.9" cy="74.2" r="6.08"/><circle cx="1209.0" cy="82.0" r="6.08"/><circle cx="1219.0" cy="89.9" r="6.08"/><circle cx="1226.8" cy="97.8" r="6.08"/><circle cx="1240.9" cy="117.5" r="6.08"/><circle cx="1255.0" cy="137.2" r="6.08"/><circle cx="1274.4" cy="176.6" r="6.08"/><circle cx="1290.4" cy="216.0" r="6.08"/><circle cx="1304.6" cy="255.4" r="6.08"/><circle cx="1317.0" cy="294.8" r="6.08"/><circle cx="1327.5" cy="334.2" r="6.08"/><circle cx="1347.9" cy="413.0" r="6.08"/><circle cx="1367.5" cy="491.8" r="6.08"/><circle cx="1387.4" cy="570.6" r="6.08"/><circle cx="1406.6" cy="649.4" r="6.08"/><circle cx="1425.0" cy="728.2" r="6.08"/><circle cx="1443.4" cy="807.0" r="6.08"/></g>
<path d="M1123.6 19.4L1123.6 20.2L1123.6 21.1L1123.6 22.0L1123.6 23.0L1123.6 24.1L1123.6 25.2L1123.6 26.5L1123.6 28.0L1123.6 29.6L1123.6 31.5L1123.6 33.6L1129.5 36.0L1136.5 38.9L1143.5 42.2L1149.6 46.1L1156.6 50.8L1163.7 56.3L1172.2 62.9L1184.3 70.9L1198.4 80.3L1215.4 91.8L1231.5 105.5L1248.4 122.0L1262.5 141.8L1275.4 165.7L1287.3 194.3L1299.2 228.6L1311.2 269.7L1324.3 318.6L1338.3 376.7L1355.6 445.4L1376.4 526.1L1400.5 620.5L1426.5 730.0" fill="none" stroke="#ff00ff" stroke-width="2.6" stroke-linejoin="round" stroke-linecap="square"/><g fill="#ff00ff"><circle cx="1123.6" cy="19.4" r="6.08"/><circle cx="1123.6" cy="20.2" r="6.08"/><circle cx="1123.6" cy="21.1" r="6.08"/><circle cx="1123.6" cy="22.0" r="6.08"/><circle cx="1123.6" cy="23.0" r="6.08"/><circle cx="1123.6" cy="24.1" r="6.08"/><circle cx="1123.6" cy="25.2" r="6.08"/><circle cx="1123.6" cy="26.5" r="6.08"/><circle cx="1123.6" cy="28.0" r="6.08"/><circle cx="1123.6" cy="29.6" r="6.08"/><circle cx="1123.6" cy="31.5" r="6.08"/><circle cx="1123.6" cy="33.6" r="6.08"/><circle cx="1129.5" cy="36.0" r="6.08"/><circle cx="1136.5" cy="38.9" r="6.08"/><circle cx="1143.5" cy="42.2" r="6.08"/><circle cx="1149.6" cy="46.1" r="6.08"/><circle cx="1156.6" cy="50.8" r="6.08"/><circle cx="1163.7" cy="56.3" r="6.08"/><circle cx="1172.2" cy="62.9" r="6.08"/><circle cx="1184.3" cy="70.9" r="6.08"/><circle cx="1198.4" cy="80.3" r="6.08"/><circle cx="1215.4" cy="91.8" r="6.08"/><circle cx="1231.5" cy="105.5" r="6.08"/><circle cx="1248.4" cy="122.0" r="6.08"/><circle cx="1262.5" cy="141.8" r="6.08"/><circle cx="1275.4" cy="165.7" r="6.08"/><circle cx="1287.3" cy="194.3" r="6.08"/><circle cx="1299.2" cy="228.6" r="6.08"/><circle cx="1311.2" cy="269.7" r="6.08"/><circle cx="1324.3" cy="318.6" r="6.08"/><circle cx="1338.3" cy="376.7" r="6.08"/><circle cx="1355.6" cy="445.4" r="6.08"/><circle cx="1376.4" cy="526.1" r="6.08"/><circle cx="1400.5" cy="620.5" r="6.08"/><circle cx="1426.5" cy="730.0" r="6.08"/></g>
</g>
<path d="M1087.50 814.50v6.08" stroke="#000" stroke-width="1.39" fill="none"/>
<path d="M1156.50 814.50v6.08" stroke="#000" stroke-width="1.39" fill="none"/>
<path d="M1226.50 814.50v6.08" stroke="#000" stroke-width="1.39" fill="none"/>
<path d="M1296.50 814.50v6.08" stroke="#000" stroke-width="1.39" fill="none"/>
<path d="M1365.50 814.50v6.08" stroke="#000" stroke-width="1.39" fill="none"/>
<path d="M1435.50 814.50v6.08" stroke="#000" stroke-width="1.39" fill="none"/>
<path d="M1067.50 19.50h-6.08" stroke="#000" stroke-width="1.39" fill="none"/>
<path d="M1067.50 97.50h-6.08" stroke="#000" stroke-width="1.39" fill="none"/>
<path d="M1067.50 176.50h-6.08" stroke="#000" stroke-width="1.39" fill="none"/>
<path d="M1067.50 255.50h-6.08" stroke="#000" stroke-width="1.39" fill="none"/>
<path d="M1067.50 334.50h-6.08" stroke="#000" stroke-width="1.39" fill="none"/>
<path d="M1067.50 413.50h-6.08" stroke="#000" stroke-width="1.39" fill="none"/>
<path d="M1067.50 491.50h-6.08" stroke="#000" stroke-width="1.39" fill="none"/>
<path d="M1067.50 570.50h-6.08" stroke="#000" stroke-width="1.39" fill="none"/>
<path d="M1067.50 649.50h-6.08" stroke="#000" stroke-width="1.39" fill="none"/>
<path d="M1067.50 728.50h-6.08" stroke="#000" stroke-width="1.39" fill="none"/>
<path d="M1067.50 807.50h-6.08" stroke="#000" stroke-width="1.39" fill="none"/>
<rect x="1067.50" y="19.50" width="394.00" height="795.00" fill="none" stroke="#000" stroke-width="1.39"/>
<text x="1086.60" y="856.75" text-anchor="middle" font-size="17.36" transform="rotate(-45 1086.60 850.45)">1022</text>
<text x="1155.60" y="856.75" text-anchor="middle" font-size="17.36" transform="rotate(-45 1155.60 850.45)">1024</text>
<text x="1225.60" y="856.75" text-anchor="middle" font-size="17.36" transform="rotate(-45 1225.60 850.45)">1026</text>
<text x="1295.60" y="856.75" text-anchor="middle" font-size="17.36" transform="rotate(-45 1295.60 850.45)">1028</text>
<text x="1364.60" y="856.75" text-anchor="middle" font-size="17.36" transform="rotate(-45 1364.60 850.45)">1030</text>
<text x="1434.60" y="856.75" text-anchor="middle" font-size="17.36" transform="rotate(-45 1434.60 850.45)">1032</text>
</g>
<text class="b" font-size="22.57" text-anchor="middle" transform="translate(29.1 418.2) rotate(-90)">Depth (m)</text>
<text class="b" font-size="22.57" x="186.0" y="872.0" style="font-kerning:none">Temperature (<tspan class="i" style="font-weight:normal" font-size="15.80" dy="-9.2" dx="-0.2">o</tspan><tspan class="i" style="font-weight:normal" dy="9.2" dx="1.2">C</tspan><tspan dx="-0.2">)</tspan></text>
<text class="b" font-size="22.57" text-anchor="middle" x="779.9" y="869.7">Salinity</text>
<text class="b" font-size="22.57" text-anchor="middle" x="1263.5" y="896.3">Density (kg m-3)</text>
<text class="i" font-size="17.31" x="282.2" y="918.0" xml:space="preserve">Ocean Heat Content (kJ/cm^2) - Glider: N/A,  RTOFS: 50.4344,  ESPC: 39.1580,  CMEMS: 52.3313,  NESDIS: 52.8676,</text>
<text class="b" font-size="22.57" x="1512.2" y="36.80">Comparison Date: 2025-10-01</text>
<text class="b" font-size="22.57" x="1512.2" y="90.08">Glider: ru38</text>
<text class="b" font-size="22.57" x="1512.2" y="116.72">Profiles: 16</text>
<text class="b" font-size="22.57" x="1512.2" y="143.36">First: 2025-10-01 00:44:06</text>
<text class="b" font-size="22.57" x="1512.2" y="170.00">Last: 2025-10-01 23:34:35</text>
<text class="b" font-size="22.57" x="1512.2" y="196.64">Method: Nearest-Neighbor</text>
<clipPath id="cm"><rect x="1550.8" y="260.85" width="394.2" height="311.15"/></clipPath>
<rect x="1550.5" y="261.5" width="395.0" height="311.0" fill="none" stroke="#000" stroke-width="1.39"/>
<rect x="1550.8" y="260.85" width="394.2" height="311.15" fill="#97b6e1"/>
<g clip-path="url(#cm)">
<path d="M1916.4 259.9L1913.5 262.4L1905.9 268.1L1898.2 272.9L1890.6 280.5L1885.9 286.2L1882.0 293.9L1879.2 303.4L1880.1 311.0L1881.1 320.5L1883.9 332.0L1887.8 341.5L1892.5 353.0L1896.3 359.6L1899.2 368.2L1902.1 375.8L1905.5 385.4L1907.4 393.0L1906.8 402.5L1904.9 412.1L1902.1 419.7L1898.2 425.4L1892.5 426.4L1887.8 423.5L1884.9 417.8L1877.3 412.1L1873.5 406.3L1871.6 400.6L1865.8 394.9L1862.0 387.3L1857.3 379.6L1856.3 372.0L1855.3 364.4L1857.8 358.7L1857.3 351.0L1854.4 345.3L1848.7 341.5L1843.0 333.9L1837.2 327.2L1831.5 324.0L1825.8 324.4L1822.0 328.2L1818.2 332.0L1812.4 333.9L1807.7 332.0L1805.8 328.2L1802.9 323.4L1797.2 320.5L1791.5 317.7L1785.8 316.3L1778.1 316.7L1768.6 318.3L1759.1 319.6L1749.5 320.2L1740.0 318.3L1750.0 319.2L1745.6 319.2L1740.2 320.1L1734.7 322.8L1729.3 326.4L1725.6 331.9L1727.4 335.5L1732.9 340.1L1739.3 343.7L1736.5 345.5L1731.1 344.6L1727.4 341.0L1722.0 339.2L1719.3 341.9L1714.7 344.6L1709.2 345.5L1702.0 344.6L1696.5 341.0L1692.9 337.4L1685.6 335.5L1678.3 335.5L1671.0 334.1L1663.7 332.3L1656.5 331.5L1649.2 332.8L1641.9 334.6L1634.6 338.3L1627.4 343.7L1618.3 350.1L1607.3 357.4L1598.2 363.7L1591.0 370.1L1585.5 377.4L1582.8 384.7L1582.8 393.8L1584.6 404.7L1586.4 413.8L1585.5 420.0L1586.7 410.0L1585.8 415.7L1581.9 421.4L1577.2 429.1L1575.3 438.6L1574.3 448.1L1574.7 457.7L1574.9 467.2L1573.9 476.7L1572.8 482.4L1574.3 488.2L1577.2 495.8L1581.0 505.3L1585.8 516.8L1591.5 524.4L1597.2 532.0L1602.0 539.6L1603.9 546.3L1608.6 553.0L1611.5 557.8L1622.0 557.8L1627.7 560.6L1631.5 562.5L1636.3 569.2L1646.8 566.3L1654.4 563.5L1663.9 562.5L1671.6 559.7L1681.1 557.8L1688.7 555.9L1698.2 550.1L1705.9 544.4L1707.8 537.7L1710.6 532.0L1710.6 520.6L1712.5 513.0L1717.3 509.1L1726.8 506.3L1736.4 504.4L1745.9 501.5L1753.5 499.6L1760.0 500.6L1747.6 501.5L1755.3 500.0L1762.9 501.5L1770.5 502.5L1775.3 500.6L1780.0 503.4L1781.6 509.1L1778.1 514.9L1774.3 520.6L1770.5 526.3L1768.6 533.9L1767.6 543.5L1765.7 553.0L1762.9 562.5L1760.0 574.0L1545.5 577.5L1545.5 256.0Z" fill="#d2b48c" stroke="none"/>
<path d="M1814.4 494.8L1823.9 492.0L1824.8 486.3L1829.6 480.5L1839.1 475.8L1850.6 472.9L1862.0 469.1L1873.5 469.1L1881.1 470.1L1888.7 467.2L1898.2 468.2L1907.8 471.0L1915.4 475.8L1921.1 480.5L1930.7 481.5L1938.3 483.4L1947.8 487.2L1947.8 518.7L1942.1 515.8L1936.4 511.0L1932.6 505.3L1928.8 500.6L1921.1 500.6L1913.5 498.7L1905.9 495.8L1900.2 492.0L1892.5 491.0L1884.9 489.1L1879.2 490.1L1871.6 488.2L1868.7 485.3L1873.5 484.0L1876.3 482.1L1873.5 479.6L1865.8 478.6L1856.3 478.6L1850.6 482.4L1843.9 486.3L1835.3 489.1L1829.6 493.9L1822.0 496.7Z" fill="#d2b48c" stroke="#000" stroke-width="1.7" stroke-linejoin="round"/>
<path d="M1849.1 498.7L1851.5 495.4L1855.3 494.8L1858.6 497.3L1858.2 501.1L1854.4 503.4L1850.2 502.5Z" fill="#d2b48c" stroke="#000" stroke-width="1.7" stroke-linejoin="round"/>
<path d="M1934.5 439.6L1939.2 431.0L1943.1 425.3L1947.8 423.3L1947.8 448.1L1942.1 445.3Z" fill="#d2b48c" stroke="#000" stroke-width="1.7" stroke-linejoin="round"/>
<path d="M1938.3 565.4L1941.1 562.9L1947.8 562.5L1947.8 568.6L1941.1 568.2Z" fill="#d2b48c" stroke="#000" stroke-width="1.7" stroke-linejoin="round"/>
<path d="M1561.8 260.0L1567.3 266.4L1576.4 275.5L1585.5 290.0L1594.6 306.4L1603.7 318.2L1606.4 326.4L1609.2 334.6L1614.6 337.4L1616.4 344.6L1618.6 349.2" fill="none" stroke="#97b6e1" stroke-width="1.5" stroke-linejoin="round"/>
<path d="M1689.2 304.6L1694.7 311.9L1698.3 319.2L1705.6 324.6L1714.7 326.4L1720.2 330.1L1722.0 335.5L1729.3 341.0L1732.9 344.6" fill="none" stroke="#97b6e1" stroke-width="1.5" stroke-linejoin="round"/>
<path d="M1550.9 402.5L1563.7 406.9L1576.4 410.5L1584.6 412.9" fill="none" stroke="#97b6e1" stroke-width="1.5" stroke-linejoin="round"/>
<path d="M1785.8 259.9L1790.5 269.1L1787.7 273.8L1778.1 274.4L1772.4 278.6L1768.6 284.3L1765.7 291.9L1761.0 299.6L1758.1 307.2L1757.2 314.8" fill="none" stroke="#97b6e1" stroke-width="1.5" stroke-linejoin="round"/>
<path d="M1816.3 311.4L1813.4 318.6L1811.5 324.4L1813.4 330.1" fill="none" stroke="#97b6e1" stroke-width="1.5" stroke-linejoin="round"/>
<path d="M1551.4 495.8L1561.0 492.9L1568.6 490.1L1574.3 487.2" fill="none" stroke="#97b6e1" stroke-width="1.5" stroke-linejoin="round"/>
<path d="M1669.6 560.6L1671.6 566.3L1677.3 568.2L1680.7 572.1" fill="none" stroke="#97b6e1" stroke-width="1.5" stroke-linejoin="round"/>
<path d="M1673.5 560.6L1677.3 565.4L1680.7 572.1" fill="none" stroke="#97b6e1" stroke-width="1.5" stroke-linejoin="round"/>
<path d="M1887.8 391.1L1892.5 386.3L1896.3 391.5L1892.5 396.4Z" fill="#b0b0b0"/>
<path d="M1644.1 259.1L1644.1 282.8L1647.4 286.4L1651.0 295.5L1653.7 302.8L1651.9 310.1L1650.1 319.2L1649.2 326.4L1647.7 331.0" fill="none" stroke="#000" stroke-width="1.6" stroke-linejoin="round"/>
<path d="M1699.2 259.1L1700.1 268.2L1702.0 277.3L1696.5 284.6L1692.0 293.7L1689.2 303.7L1689.2 304.2L1724.7 304.2L1724.7 308.2L1726.5 315.5L1727.4 321.0" fill="none" stroke="#000" stroke-width="1.6" stroke-linejoin="round"/>
<path d="M1751.4 259.5L1748.6 284.3L1749.9 316.7" fill="none" stroke="#000" stroke-width="1.6" stroke-linejoin="round"/>
<path d="M1767.6 316.7L1768.6 312.9L1764.8 307.2L1764.8 304.9L1812.4 304.9" fill="none" stroke="#000" stroke-width="1.6" stroke-linejoin="round"/>
<path d="M1809.6 259.5L1813.4 269.1L1815.3 276.7L1812.4 284.3L1812.4 293.9L1813.4 303.4L1816.3 311.0L1865.8 314.4L1866.8 317.7L1868.1 317.7L1869.6 311.0L1871.6 309.1L1880.1 311.0" fill="none" stroke="#000" stroke-width="1.6" stroke-linejoin="round"/>
<path d="M1878.8 259.5L1883.0 269.1L1886.8 278.6L1891.6 281.5" fill="none" stroke="#000" stroke-width="1.6" stroke-linejoin="round"/>
<path d="M1550.9 402.5L1563.7 406.9L1576.4 410.5L1584.6 412.9" fill="none" stroke="#000" stroke-width="1.5" stroke-dasharray="5,2.5"/>
<path d="M1743.8 568.2L1746.7 565.4L1751.4 562.5" fill="none" stroke="#000" stroke-width="1.5" stroke-dasharray="5,2.5"/>
<path d="M1916.4 259.9L1913.5 262.4L1905.9 268.1L1898.2 272.9L1890.6 280.5L1885.9 286.2L1882.0 293.9L1879.2 303.4L1880.1 311.0L1881.1 320.5L1883.9 332.0L1887.8 341.5L1892.5 353.0L1896.3 359.6L1899.2 368.2L1902.1 375.8L1905.5 385.4L1907.4 393.0L1906.8 402.5L1904.9 412.1L1902.1 419.7L1898.2 425.4L1892.5 426.4L1887.8 423.5L1884.9 417.8L1877.3 412.1L1873.5 406.3L1871.6 400.6L1865.8 394.9L1862.0 387.3L1857.3 379.6L1856.3 372.0L1855.3 364.4L1857.8 358.7L1857.3 351.0L1854.4 345.3L1848.7 341.5L1843.0 333.9L1837.2 327.2L1831.5 324.0L1825.8 324.4L1822.0 328.2L1818.2 332.0L1812.4 333.9L1807.7 332.0L1805.8 328.2L1802.9 323.4L1797.2 320.5L1791.5 317.7L1785.8 316.3L1778.1 316.7L1768.6 318.3L1759.1 319.6L1749.5 320.2L1740.0 318.3L1750.0 319.2L1745.6 319.2L1740.2 320.1L1734.7 322.8L1729.3 326.4L1725.6 331.9L1727.4 335.5L1732.9 340.1L1739.3 343.7L1736.5 345.5L1731.1 344.6L1727.4 341.0L1722.0 339.2L1719.3 341.9L1714.7 344.6L1709.2 345.5L1702.0 344.6L1696.5 341.0L1692.9 337.4L1685.6 335.5L1678.3 335.5L1671.0 334.1L1663.7 332.3L1656.5 331.5L1649.2 332.8L1641.9 334.6L1634.6 338.3L1627.4 343.7L1618.3 350.1L1607.3 357.4L1598.2 363.7L1591.0 370.1L1585.5 377.4L1582.8 384.7L1582.8 393.8L1584.6 404.7L1586.4 413.8L1585.5 420.0L1586.7 410.0L1585.8 415.7L1581.9 421.4L1577.2 429.1L1575.3 438.6L1574.3 448.1L1574.7 457.7L1574.9 467.2L1573.9 476.7L1572.8 482.4L1574.3 488.2L1577.2 495.8L1581.0 505.3L1585.8 516.8L1591.5 524.4L1597.2 532.0L1602.0 539.6L1603.9 546.3L1608.6 553.0L1611.5 557.8L1622.0 557.8L1627.7 560.6L1631.5 562.5L1636.3 569.2L1646.8 566.3L1654.4 563.5L1663.9 562.5L1671.6 559.7L1681.1 557.8L1688.7 555.9L1698.2 550.1L1705.9 544.4L1707.8 537.7L1710.6 532.0L1710.6 520.6L1712.5 513.0L1717.3 509.1L1726.8 506.3L1736.4 504.4L1745.9 501.5L1753.5 499.6L1760.0 500.6L1747.6 501.5L1755.3 500.0L1762.9 501.5L1770.5 502.5L1775.3 500.6L1780.0 503.4L1781.6 509.1L1778.1 514.9L1774.3 520.6L1770.5 526.3L1768.6 533.9L1767.6 543.5L1765.7 553.0L1762.9 562.5L1760.0 574.0" fill="none" stroke="#000" stroke-width="2.1" stroke-linejoin="round"/>
<path d="M1712.0 321.9L1714.7 318.8L1719.3 318.2L1722.9 320.6L1722.0 323.7L1717.4 325.5L1713.8 324.6Z" fill="#97b6e1" stroke="#000" stroke-width="1.2"/>
<path d="M1682.0 560.6L1686.8 557.8L1694.4 556.4L1697.3 558.7L1692.5 562.1L1685.9 562.9Z" fill="#97b6e1" stroke="#000" stroke-width="1.5"/>
<path d="M1775.8 525.3L1778.1 521.5L1781.4 520.6L1781.6 522.9L1778.7 526.7Z" fill="#d2b48c" stroke="#000" stroke-width="1.3"/>
<path d="M1581.9 413.8L1580.9 404.7L1579.1 395.6L1579.7 386.5L1581.5 378.3L1585.5 371.0L1592.8 363.7L1600.1 358.3" fill="none" stroke="#000" stroke-width="2.6" stroke-linejoin="round" stroke-linecap="round"/>
<path d="M1574.6 383.8L1577.3 381.9L1576.4 385.6L1579.1 390.1" fill="none" stroke="#000" stroke-width="2.2" stroke-linejoin="round" stroke-linecap="round"/>
<path d="M1579.1 371.9L1582.8 370.1L1581.5 375.6L1584.6 366.5L1587.7 365.6" fill="none" stroke="#000" stroke-width="2.2" stroke-linejoin="round" stroke-linecap="round"/>
<path d="M1594.6 354.6L1598.2 352.8L1602.8 353.4L1600.1 356.5L1596.4 357.4" fill="none" stroke="#000" stroke-width="2.2" stroke-linejoin="round" stroke-linecap="round"/>
<path d="M1622.8 344.6L1625.5 341.0L1628.3 337.4L1631.0 335.5" fill="none" stroke="#000" stroke-width="2.6" stroke-linejoin="round" stroke-linecap="round"/>
<path d="M1625.2 334.6L1627.4 332.3L1631.0 331.0L1631.9 334.1L1629.2 337.0L1626.4 337.4" fill="none" stroke="#000" stroke-width="2.2" stroke-linejoin="round" stroke-linecap="round"/>
<path d="M1646.5 331.0L1647.4 327.3L1648.8 330.1" fill="none" stroke="#000" stroke-width="2.6" stroke-linejoin="round" stroke-linecap="round"/>
<path d="M1679.2 332.8L1681.9 330.4L1685.6 330.1L1688.3 332.3L1686.5 335.5L1682.9 335.2" fill="none" stroke="#000" stroke-width="2.2" stroke-linejoin="round" stroke-linecap="round"/>
<path d="M1691.0 334.6L1694.7 333.7L1696.5 336.4L1695.6 340.1" fill="none" stroke="#000" stroke-width="2.4" stroke-linejoin="round" stroke-linecap="round"/>
<path d="M1702.0 344.6L1704.7 341.9L1709.2 340.6L1712.9 341.9L1714.7 344.6L1709.2 346.5" fill="none" stroke="#000" stroke-width="3.2" stroke-linejoin="round" stroke-linecap="round"/>
<path d="M1715.6 337.4L1719.3 335.5L1722.0 338.3L1720.2 341.0" fill="none" stroke="#000" stroke-width="2.6" stroke-linejoin="round" stroke-linecap="round"/>
<path d="M1725.6 323.7L1729.3 321.9L1732.0 320.1L1735.6 319.2L1739.3 318.8L1743.8 318.4L1749.3 318.8" fill="none" stroke="#000" stroke-width="2.6" stroke-linejoin="round" stroke-linecap="round"/>
<path d="M1723.8 326.4L1727.4 325.5L1730.2 328.3L1727.4 331.9L1724.7 331.0L1728.4 334.6L1732.9 335.5L1735.6 332.8L1737.5 328.3L1741.1 325.5L1740.2 330.1L1738.4 334.6" fill="none" stroke="#000" stroke-width="3.0" stroke-linejoin="round" stroke-linecap="round"/>
<path d="M1731.1 348.3L1733.8 345.5L1738.4 344.6L1739.3 341.9" fill="none" stroke="#000" stroke-width="2.2" stroke-linejoin="round" stroke-linecap="round"/>
<path d="M1740.0 326.3L1741.5 329.1L1740.0 332.9" fill="none" stroke="#000" stroke-width="3.0" stroke-linejoin="round" stroke-linecap="round"/>
<path d="M1756.2 314.8L1757.2 311.0L1758.1 315.8" fill="none" stroke="#000" stroke-width="2.6" stroke-linejoin="round" stroke-linecap="round"/>
<path d="M1768.6 316.7L1773.4 314.4L1778.1 315.8L1785.8 315.8L1790.5 316.7" fill="none" stroke="#000" stroke-width="3.0" stroke-linejoin="round" stroke-linecap="round"/>
<path d="M1797.2 320.5L1802.0 321.5L1805.8 326.3L1806.7 331.0L1811.5 333.5" fill="none" stroke="#000" stroke-width="3.0" stroke-linejoin="round" stroke-linecap="round"/>
<path d="M1848.7 341.5L1852.5 344.4L1855.9 345.3L1857.3 351.0" fill="none" stroke="#000" stroke-width="3.0" stroke-linejoin="round" stroke-linecap="round"/>
<path d="M1854.4 365.3L1855.3 370.1L1859.2 369.2L1862.0 372.0L1859.2 375.8L1856.7 376.8L1858.2 381.6" fill="none" stroke="#000" stroke-width="4.0" stroke-linejoin="round" stroke-linecap="round"/>
<path d="M1863.9 391.1L1866.8 392.0L1869.6 394.9L1867.7 398.7L1871.6 400.6L1873.5 397.8" fill="none" stroke="#000" stroke-width="3.6" stroke-linejoin="round" stroke-linecap="round"/>
<path d="M1873.5 406.3L1877.3 412.1L1882.0 415.9L1885.9 418.7L1887.8 423.5" fill="none" stroke="#000" stroke-width="2.6" stroke-linejoin="round" stroke-linecap="round"/>
<path d="M1892.5 354.9L1895.4 359.6L1897.9 359.1L1896.3 360.6L1899.2 368.2L1902.1 375.8L1905.1 384.4" fill="none" stroke="#000" stroke-width="2.8" stroke-linejoin="round" stroke-linecap="round"/>
<path d="M1902.1 419.7L1904.0 414.0L1905.9 408.2" fill="none" stroke="#000" stroke-width="2.6" stroke-linejoin="round" stroke-linecap="round"/>
<path d="M1878.2 302.4L1880.1 297.7L1882.0 292.9L1884.9 287.2L1887.8 284.3L1891.6 281.5L1892.5 274.8L1898.2 272.9L1904.0 269.1L1908.7 267.2" fill="none" stroke="#000" stroke-width="2.8" stroke-linejoin="round" stroke-linecap="round"/>
<path d="M1925.9 396.4L1929.7 399.7L1932.6 398.7L1938.3 395.3L1945.0 392.0" fill="none" stroke="#000" stroke-width="2.6" stroke-linejoin="round" stroke-linecap="round"/>
<path d="M1937.3 384.4L1942.1 387.7L1945.0 387.3" fill="none" stroke="#000" stroke-width="2.2" stroke-linejoin="round" stroke-linecap="round"/>
<path d="M1920.7 416.8L1922.1 419.7" fill="none" stroke="#000" stroke-width="3.0" stroke-linejoin="round" stroke-linecap="round"/>
<path d="M1866.8 440.5L1871.6 440.1L1877.3 438.6L1883.0 436.7L1888.7 435.2L1893.5 432.5" fill="none" stroke="#000" stroke-width="3.6" stroke-linejoin="round" stroke-linecap="round"/>
<path d="M1884.9 421.4L1887.8 426.2L1892.5 428.1L1897.3 426.8L1901.1 421.4" fill="none" stroke="#000" stroke-width="3.2" stroke-linejoin="round" stroke-linecap="round"/>
<path d="M1888.7 467.2L1898.2 468.2L1907.8 471.4L1915.4 476.2L1921.1 480.9L1930.7 482.1L1938.3 484.0L1945.5 486.6" fill="none" stroke="#000" stroke-width="3.6" stroke-linejoin="round" stroke-linecap="round"/>
<path d="M1919.2 482.4L1926.8 484.4L1934.5 485.3L1945.0 490.1" fill="none" stroke="#000" stroke-width="3.0" stroke-linejoin="round" stroke-linecap="round"/>
<path d="M1814.4 494.8L1819.1 493.9L1823.9 492.4" fill="none" stroke="#000" stroke-width="3.0" stroke-linejoin="round" stroke-linecap="round"/>
<path d="M1870.6 484.7L1875.4 488.6L1881.1 490.1L1885.9 488.6" fill="none" stroke="#000" stroke-width="2.8" stroke-linejoin="round" stroke-linecap="round"/>
<path d="M1858.2 480.2L1863.9 482.4L1871.6 482.1" fill="none" stroke="#000" stroke-width="1.6" stroke-linejoin="round" stroke-linecap="round"/>
<path d="M1839.1 492.9L1844.9 493.9" fill="none" stroke="#000" stroke-width="2.0" stroke-linejoin="round" stroke-linecap="round"/>
<path d="M1854.4 486.6L1855.9 488.2" fill="none" stroke="#000" stroke-width="2.0" stroke-linejoin="round" stroke-linecap="round"/>
<path d="M1852.5 492.0L1856.7 493.9L1859.2 498.1" fill="none" stroke="#000" stroke-width="2.0" stroke-linejoin="round" stroke-linecap="round"/>
<path d="M1863.9 499.6L1871.6 498.7L1882.0 499.2" fill="none" stroke="#000" stroke-width="2.4" stroke-linejoin="round" stroke-linecap="round"/>
<path d="M1918.3 510.1L1924.0 513.9L1930.7 518.1L1940.2 521.9" fill="none" stroke="#000" stroke-width="2.6" stroke-linejoin="round" stroke-linecap="round"/>
<path d="M1927.8 512.0L1931.6 511.0L1930.7 503.4L1933.5 509.1" fill="none" stroke="#000" stroke-width="2.6" stroke-linejoin="round" stroke-linecap="round"/>
<path d="M1880.7 545.7L1887.2 546.1" fill="none" stroke="#000" stroke-width="4.2" stroke-linejoin="round" stroke-linecap="round"/>
<path d="M1905.5 539.1L1912.5 537.6" fill="none" stroke="#000" stroke-width="3.0" stroke-linejoin="round" stroke-linecap="round"/>
<path d="M1920.7 416.7L1921.5 419.5" fill="none" stroke="#000" stroke-width="3.0" stroke-linejoin="round" stroke-linecap="round"/>
<path d="M1934.5 439.6L1939.2 438.6L1942.1 427.2L1944.0 442.4L1945.0 447.2" fill="none" stroke="#000" stroke-width="3.0" stroke-linejoin="round" stroke-linecap="round"/>
<path d="M1761.9 541.6L1765.7 539.6L1768.2 541.6L1764.8 544.4L1766.7 547.3L1763.8 549.2" fill="none" stroke="#000" stroke-width="2.6" stroke-linejoin="round" stroke-linecap="round"/>
<path d="M1751.4 562.5L1754.3 557.8L1757.2 555.9L1758.1 562.5L1756.2 568.2L1759.1 572.1" fill="none" stroke="#000" stroke-width="2.4" stroke-linejoin="round" stroke-linecap="round"/>
<path d="M1748.8 563.5L1752.6 562.5L1755.4 556.8L1757.3 562.5L1756.4 569.2L1759.3 572.1" fill="none" stroke="#000" stroke-width="2.4" stroke-linejoin="round" stroke-linecap="round"/>
<path d="M1575.3 429.1L1573.9 438.6L1573.6 448.1" fill="none" stroke="#000" stroke-width="3.0" stroke-linejoin="round" stroke-linecap="round"/>
<path d="M1575.3 493.9L1578.1 499.6L1581.0 504.4L1579.1 501.5" fill="none" stroke="#000" stroke-width="4.0" stroke-linejoin="round" stroke-linecap="round"/>
<path d="M1654.4 563.7L1662.0 564.1" fill="none" stroke="#000" stroke-width="2.6" stroke-linejoin="round" stroke-linecap="round"/>
<path d="M1646.8 566.7L1651.5 565.6" fill="none" stroke="#000" stroke-width="2.4" stroke-linejoin="round" stroke-linecap="round"/>
<path d="M1604.8 547.3L1607.7 550.1" fill="none" stroke="#000" stroke-width="2.4" stroke-linejoin="round" stroke-linecap="round"/>
<g fill="#333" fill-opacity="0.75"><circle cx="1853.4" cy="439.2" r="1.1"/><circle cx="1899.2" cy="452.9" r="1.1"/><circle cx="1902.1" cy="451.6" r="1.1"/><circle cx="1900.2" cy="457.7" r="1.1"/><circle cx="1909.7" cy="451.0" r="1.1"/><circle cx="1911.6" cy="454.8" r="1.1"/><circle cx="1913.9" cy="458.6" r="1.1"/><circle cx="1916.4" cy="461.9" r="1.1"/><circle cx="1922.7" cy="423.3" r="1.1"/><circle cx="1924.0" cy="426.2" r="1.1"/><circle cx="1769.6" cy="557.8" r="1.1"/><circle cx="1770.1" cy="560.6" r="1.1"/><circle cx="1724.0" cy="480.9" r="1.1"/><circle cx="1725.9" cy="484.7" r="1.1"/><circle cx="1693.5" cy="490.1" r="1.1"/><circle cx="1677.7" cy="513.9" r="1.1"/><circle cx="1683.0" cy="528.2" r="1.1"/><circle cx="1924.6" cy="411.1" r="1.1"/><circle cx="1927.8" cy="412.1" r="1.1"/></g>
<circle cx="1793.4" cy="403.7" r="4.4" fill="#000"/>
<circle cx="1793.8" cy="402.1" r="4.4" fill="#000"/>
<circle cx="1794.1" cy="400.6" r="4.4" fill="#000"/>
<circle cx="1794.5" cy="399.1" r="4.4" fill="#000"/>
</g>
<circle cx="1795.3" cy="396.4" r="3.9" fill="#ff0000" stroke="#000" stroke-width="1.5"/>
<path d="M1551.8 261.5v-9.0M1551.8 572.5v9.0" stroke="#000" stroke-width="3.0"/>
<path d="M1570.5 261.5v-3.1M1570.5 572.5v3.1" stroke="#000" stroke-width="1.74"/>
<path d="M1589.3 261.5v-3.1M1589.3 572.5v3.1" stroke="#000" stroke-width="1.74"/>
<path d="M1608.0 261.5v-9.0M1608.0 572.5v9.0" stroke="#000" stroke-width="3.0"/>
<path d="M1626.8 261.5v-3.1M1626.8 572.5v3.1" stroke="#000" stroke-width="1.74"/>
<path d="M1645.5 261.5v-3.1M1645.5 572.5v3.1" stroke="#000" stroke-width="1.74"/>
<path d="M1664.3 261.5v-9.0M1664.3 572.5v9.0" stroke="#000" stroke-width="3.0"/>
<path d="M1683.1 261.5v-3.1M1683.1 572.5v3.1" stroke="#000" stroke-width="1.74"/>
<path d="M1701.8 261.5v-3.1M1701.8 572.5v3.1" stroke="#000" stroke-width="1.74"/>
<path d="M1720.6 261.5v-9.0M1720.6 572.5v9.0" stroke="#000" stroke-width="3.0"/>
<path d="M1739.3 261.5v-3.1M1739.3 572.5v3.1" stroke="#000" stroke-width="1.74"/>
<path d="M1758.1 261.5v-3.1M1758.1 572.5v3.1" stroke="#000" stroke-width="1.74"/>
<path d="M1776.9 261.5v-9.0M1776.9 572.5v9.0" stroke="#000" stroke-width="3.0"/>
<path d="M1795.6 261.5v-3.1M1795.6 572.5v3.1" stroke="#000" stroke-width="1.74"/>
<path d="M1814.4 261.5v-3.1M1814.4 572.5v3.1" stroke="#000" stroke-width="1.74"/>
<path d="M1833.2 261.5v-9.0M1833.2 572.5v9.0" stroke="#000" stroke-width="3.0"/>
<path d="M1851.9 261.5v-3.1M1851.9 572.5v3.1" stroke="#000" stroke-width="1.74"/>
<path d="M1870.7 261.5v-3.1M1870.7 572.5v3.1" stroke="#000" stroke-width="1.74"/>
<path d="M1889.4 261.5v-9.0M1889.4 572.5v9.0" stroke="#000" stroke-width="3.0"/>
<path d="M1908.2 261.5v-3.1M1908.2 572.5v3.1" stroke="#000" stroke-width="1.74"/>
<path d="M1927.0 261.5v-3.1M1927.0 572.5v3.1" stroke="#000" stroke-width="1.74"/>
<path d="M1945.7 261.5v-9.0M1945.7 572.5v9.0" stroke="#000" stroke-width="3.0"/>
<path d="M1550.5 572.2h-9.0M1945.5 572.2h9.0" stroke="#000" stroke-width="3.0"/>
<path d="M1550.5 552.6h-3.1M1945.5 552.6h3.1" stroke="#000" stroke-width="1.74"/>
<path d="M1550.5 532.8h-3.1M1945.5 532.8h3.1" stroke="#000" stroke-width="1.74"/>
<path d="M1550.5 512.9h-9.0M1945.5 512.9h9.0" stroke="#000" stroke-width="3.0"/>
<path d="M1550.5 492.9h-3.1M1945.5 492.9h3.1" stroke="#000" stroke-width="1.74"/>
<path d="M1550.5 472.8h-3.1M1945.5 472.8h3.1" stroke="#000" stroke-width="1.74"/>
<path d="M1550.5 452.5h-9.0M1945.5 452.5h9.0" stroke="#000" stroke-width="3.0"/>
<path d="M1550.5 432.0h-3.1M1945.5 432.0h3.1" stroke="#000" stroke-width="1.74"/>
<path d="M1550.5 411.4h-3.1M1945.5 411.4h3.1" stroke="#000" stroke-width="1.74"/>
<path d="M1550.5 390.6h-9.0M1945.5 390.6h9.0" stroke="#000" stroke-width="3.0"/>
<path d="M1550.5 369.6h-3.1M1945.5 369.6h3.1" stroke="#000" stroke-width="1.74"/>
<path d="M1550.5 348.4h-3.1M1945.5 348.4h3.1" stroke="#000" stroke-width="1.74"/>
<path d="M1550.5 327.0h-9.0M1945.5 327.0h9.0" stroke="#000" stroke-width="3.0"/>
<path d="M1550.5 305.4h-3.1M1945.5 305.4h3.1" stroke="#000" stroke-width="1.74"/>
<path d="M1550.5 283.6h-3.1M1945.5 283.6h3.1" stroke="#000" stroke-width="1.74"/>
<path d="M1550.5 261.5h-9.0M1945.5 261.5h9.0" stroke="#000" stroke-width="3.0"/>
<text x="1536.2" y="581.6" text-anchor="end" font-size="22.57">18°N</text>
<text x="1536.2" y="522.3" text-anchor="end" font-size="22.57">21°N</text>
<text x="1536.2" y="461.9" text-anchor="end" font-size="22.57">24°N</text>
<text x="1536.2" y="400.0" text-anchor="end" font-size="22.57">27°N</text>
<text x="1536.2" y="336.4" text-anchor="end" font-size="22.57">30°N</text>
<text x="1536.2" y="270.9" text-anchor="end" font-size="22.57">33°N</text>
<text x="1550.8" y="626.7" text-anchor="middle" font-size="22.57" transform="rotate(-45 1550.8 618.5)">99°W</text>
<text x="1607.0" y="626.7" text-anchor="middle" font-size="22.57" transform="rotate(-45 1607.0 618.5)">96°W</text>
<text x="1663.3" y="626.7" text-anchor="middle" font-size="22.57" transform="rotate(-45 1663.3 618.5)">93°W</text>
<text x="1719.6" y="626.7" text-anchor="middle" font-size="22.57" transform="rotate(-45 1719.6 618.5)">90°W</text>
<text x="1775.9" y="626.7" text-anchor="middle" font-size="22.57" transform="rotate(-45 1775.9 618.5)">87°W</text>
<text x="1832.2" y="626.7" text-anchor="middle" font-size="22.57" transform="rotate(-45 1832.2 618.5)">84°W</text>
<text x="1888.4" y="626.7" text-anchor="middle" font-size="22.57" transform="rotate(-45 1888.4 618.5)">81°W</text>
<text x="1944.7" y="626.7" text-anchor="middle" font-size="22.57" transform="rotate(-45 1944.7 618.5)">78°W</text>
<rect x="1666.3" y="655.7" width="164.90" height="144.30" rx="4.5" ry="4.5" fill="#fff" fill-opacity="0.8" stroke="#ccc" stroke-opacity="0.8" stroke-width="1.74"/>
<path d="M1675.33 675.60h45.14" stroke="#0000ff" stroke-width="2.60" stroke-linecap="square" fill="none"/>
<circle cx="1697.90" cy="675.60" r="5.21" fill="#0000ff" stroke="#0000ff" stroke-width="1.74"/>
<text font-size="22.57" x="1738.52" y="683.70">ru38</text>
<path d="M1675.33 709.85h45.14" stroke="#ff0000" stroke-width="2.60" stroke-linecap="square" fill="none"/>
<circle cx="1697.90" cy="709.85" r="5.21" fill="#ff0000" stroke="#ff0000" stroke-width="1.74"/>
<text font-size="22.57" x="1738.52" y="717.95">RTOFS</text>
<path d="M1675.33 744.10h45.14" stroke="#008000" stroke-width="2.60" stroke-linecap="square" fill="none"/>
<circle cx="1697.90" cy="744.10" r="5.21" fill="#008000" stroke="#008000" stroke-width="1.74"/>
<text font-size="22.57" x="1738.52" y="752.20">ESPC</text>
<path d="M1675.33 778.35h45.14" stroke="#ff00ff" stroke-width="2.60" stroke-linecap="square" fill="none"/>
<circle cx="1697.90" cy="778.35" r="5.21" fill="#ff00ff" stroke="#ff00ff" stroke-width="1.74"/>
<text font-size="22.57" x="1738.52" y="786.45">CMEMS</text>
</svg></body></html>
